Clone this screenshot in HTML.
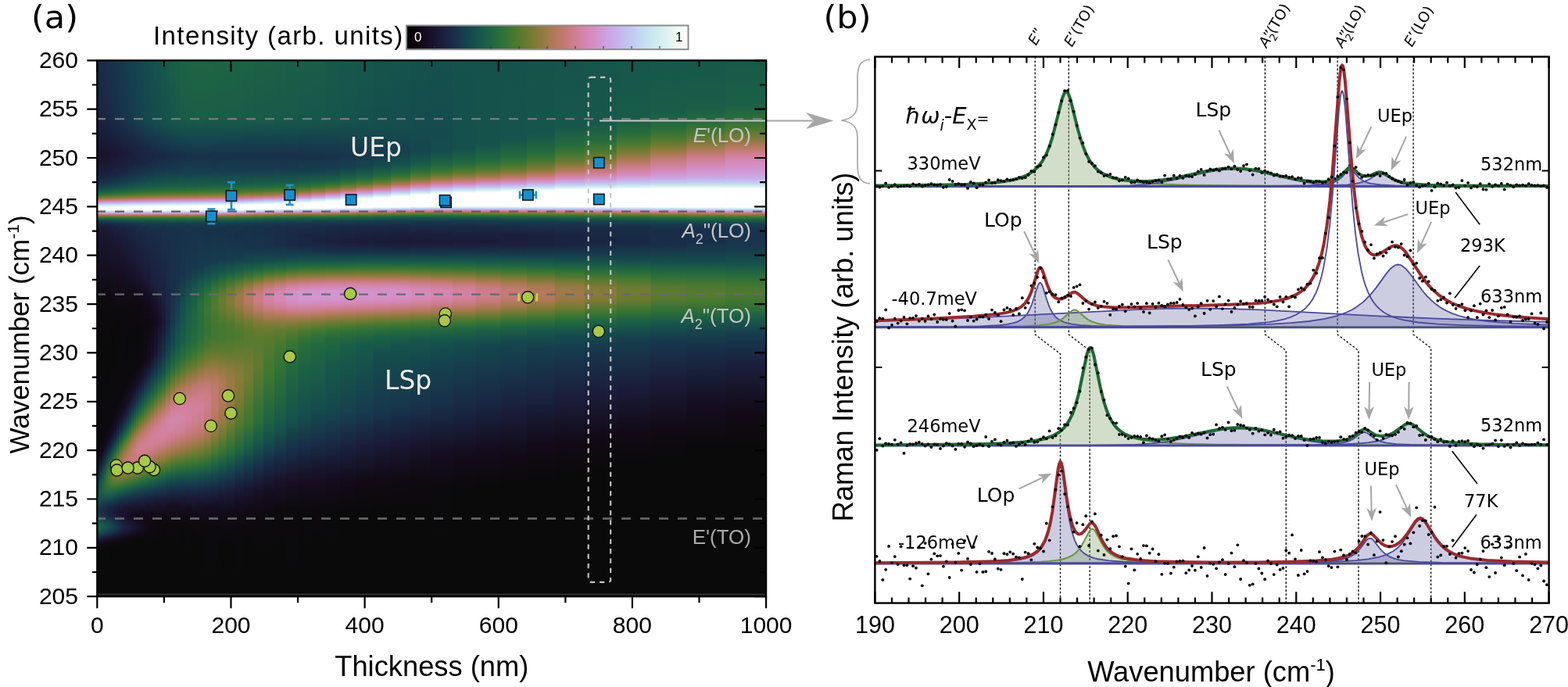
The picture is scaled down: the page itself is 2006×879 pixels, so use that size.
<!DOCTYPE html>
<html><head><meta charset="utf-8"><title>Figure</title>
<style>html,body{margin:0;padding:0;background:#fff;overflow:hidden;width:2006px;height:879px;}svg{display:block;}</style>
</head><body>
<svg width="2006" height="879" viewBox="0 0 2006 879">
<rect width="2006" height="879" fill="#fff"/>
<defs><linearGradient id="h0" x1="0" y1="0" x2="0" y2="1"><stop offset="0.0000" stop-color="#192c47"/><stop offset="0.1006" stop-color="#1a2240"/><stop offset="0.1793" stop-color="#19132d"/><stop offset="0.2165" stop-color="#1a213e"/><stop offset="0.2333" stop-color="#17374d"/><stop offset="0.2449" stop-color="#185b48"/><stop offset="0.2500" stop-color="#2b6f39"/><stop offset="0.2530" stop-color="#467830"/><stop offset="0.2559" stop-color="#6f7b31"/><stop offset="0.2581" stop-color="#967a42"/><stop offset="0.2602" stop-color="#b97964"/><stop offset="0.2624" stop-color="#d18099"/><stop offset="0.2646" stop-color="#d294ce"/><stop offset="0.2661" stop-color="#caa9e7"/><stop offset="0.2683" stop-color="#c1cdf3"/><stop offset="0.2704" stop-color="#cce9ef"/><stop offset="0.2741" stop-color="#f2fbf6"/><stop offset="0.2770" stop-color="#fafdfb"/><stop offset="0.2792" stop-color="#e9f8f2"/><stop offset="0.2814" stop-color="#cae7f0"/><stop offset="0.2828" stop-color="#c1cdf3"/><stop offset="0.2843" stop-color="#caabe8"/><stop offset="0.2858" stop-color="#d48dc1"/><stop offset="0.2872" stop-color="#cc7c86"/><stop offset="0.2887" stop-color="#ac7954"/><stop offset="0.2894" stop-color="#937a40"/><stop offset="0.2909" stop-color="#667a30"/><stop offset="0.2930" stop-color="#337335"/><stop offset="0.2952" stop-color="#1b6145"/><stop offset="0.2996" stop-color="#163d4e"/><stop offset="0.3062" stop-color="#1a213e"/><stop offset="0.3215" stop-color="#1a142f"/><stop offset="0.4614" stop-color="#0c0a0e"/><stop offset="0.7275" stop-color="#0c0a0e"/><stop offset="0.7559" stop-color="#181027"/><stop offset="0.7822" stop-color="#18324b"/><stop offset="0.8011" stop-color="#154d4e"/><stop offset="0.8186" stop-color="#154d4e"/><stop offset="0.8390" stop-color="#17364c"/><stop offset="0.8492" stop-color="#163f4e"/><stop offset="0.8660" stop-color="#1e6542"/><stop offset="0.8755" stop-color="#1a6046"/><stop offset="0.8850" stop-color="#163f4e"/><stop offset="0.8930" stop-color="#1b1c3a"/><stop offset="0.9032" stop-color="#120a17"/><stop offset="0.9141" stop-color="#0a0a0a"/><stop offset="0.9994" stop-color="#0a0a0a"/></linearGradient>
<linearGradient id="h1" x1="0" y1="0" x2="0" y2="1"><stop offset="0.0000" stop-color="#192c47"/><stop offset="0.0984" stop-color="#1a2441"/><stop offset="0.1786" stop-color="#19132d"/><stop offset="0.2180" stop-color="#1a2240"/><stop offset="0.2355" stop-color="#163d4e"/><stop offset="0.2457" stop-color="#195e47"/><stop offset="0.2508" stop-color="#317236"/><stop offset="0.2544" stop-color="#5a7a2f"/><stop offset="0.2573" stop-color="#8a7a3b"/><stop offset="0.2595" stop-color="#b17959"/><stop offset="0.2624" stop-color="#d18099"/><stop offset="0.2646" stop-color="#d295d0"/><stop offset="0.2668" stop-color="#c6b6ee"/><stop offset="0.2690" stop-color="#c3d9f3"/><stop offset="0.2719" stop-color="#def4ef"/><stop offset="0.2748" stop-color="#f8fdfa"/><stop offset="0.2770" stop-color="#fafdfb"/><stop offset="0.2792" stop-color="#e9f8f2"/><stop offset="0.2814" stop-color="#cae7f0"/><stop offset="0.2828" stop-color="#c1cdf3"/><stop offset="0.2843" stop-color="#caabe8"/><stop offset="0.2858" stop-color="#d48dc1"/><stop offset="0.2872" stop-color="#cc7c86"/><stop offset="0.2887" stop-color="#ac7954"/><stop offset="0.2901" stop-color="#7e7a36"/><stop offset="0.2916" stop-color="#54792f"/><stop offset="0.2930" stop-color="#337335"/><stop offset="0.2952" stop-color="#1b6145"/><stop offset="0.2996" stop-color="#163f4e"/><stop offset="0.3054" stop-color="#1a2441"/><stop offset="0.3178" stop-color="#1a1631"/><stop offset="0.4541" stop-color="#0e0a0f"/><stop offset="0.5321" stop-color="#0a0a0a"/><stop offset="0.7210" stop-color="#0c0a0e"/><stop offset="0.7472" stop-color="#180f25"/><stop offset="0.7705" stop-color="#192c47"/><stop offset="0.7909" stop-color="#154e4d"/><stop offset="0.8092" stop-color="#16574b"/><stop offset="0.8237" stop-color="#15464e"/><stop offset="0.8398" stop-color="#18314a"/><stop offset="0.8514" stop-color="#163f4e"/><stop offset="0.8653" stop-color="#1b6145"/><stop offset="0.8748" stop-color="#195e47"/><stop offset="0.8842" stop-color="#163f4e"/><stop offset="0.8930" stop-color="#1b1b38"/><stop offset="0.9025" stop-color="#120a17"/><stop offset="0.9134" stop-color="#0a0a0a"/><stop offset="0.9994" stop-color="#0a0a0a"/></linearGradient>
<linearGradient id="h2" x1="0" y1="0" x2="0" y2="1"><stop offset="0.0000" stop-color="#192d48"/><stop offset="0.1028" stop-color="#1a2441"/><stop offset="0.1786" stop-color="#19132d"/><stop offset="0.2158" stop-color="#1a213e"/><stop offset="0.2333" stop-color="#16394d"/><stop offset="0.2449" stop-color="#195d48"/><stop offset="0.2500" stop-color="#2d7038"/><stop offset="0.2530" stop-color="#497830"/><stop offset="0.2566" stop-color="#7e7a36"/><stop offset="0.2595" stop-color="#b17959"/><stop offset="0.2617" stop-color="#cd7d89"/><stop offset="0.2639" stop-color="#d48dc1"/><stop offset="0.2661" stop-color="#caabe8"/><stop offset="0.2683" stop-color="#c1cff3"/><stop offset="0.2704" stop-color="#cdeaef"/><stop offset="0.2741" stop-color="#f4fcf7"/><stop offset="0.2770" stop-color="#fbfefc"/><stop offset="0.2799" stop-color="#def4ef"/><stop offset="0.2821" stop-color="#c4dcf2"/><stop offset="0.2836" stop-color="#c4bdf1"/><stop offset="0.2850" stop-color="#d09cd9"/><stop offset="0.2865" stop-color="#d383a6"/><stop offset="0.2879" stop-color="#bf796d"/><stop offset="0.2894" stop-color="#967a42"/><stop offset="0.2909" stop-color="#697b30"/><stop offset="0.2930" stop-color="#337335"/><stop offset="0.2952" stop-color="#1c6344"/><stop offset="0.2989" stop-color="#15444f"/><stop offset="0.3054" stop-color="#1a2441"/><stop offset="0.3171" stop-color="#1a1733"/><stop offset="0.4490" stop-color="#0e0a0f"/><stop offset="0.5489" stop-color="#0a0a0a"/><stop offset="0.7137" stop-color="#0c0a0e"/><stop offset="0.7399" stop-color="#180f25"/><stop offset="0.7640" stop-color="#182f49"/><stop offset="0.7836" stop-color="#15524c"/><stop offset="0.8019" stop-color="#1a6046"/><stop offset="0.8172" stop-color="#15524c"/><stop offset="0.8369" stop-color="#182f49"/><stop offset="0.8478" stop-color="#18324b"/><stop offset="0.8616" stop-color="#16574b"/><stop offset="0.8711" stop-color="#1a6046"/><stop offset="0.8799" stop-color="#154d4e"/><stop offset="0.8872" stop-color="#192d48"/><stop offset="0.8974" stop-color="#180f25"/><stop offset="0.9068" stop-color="#0c0a0e"/><stop offset="0.9994" stop-color="#0a0a0a"/></linearGradient>
<linearGradient id="h3" x1="0" y1="0" x2="0" y2="1"><stop offset="0.0000" stop-color="#192d48"/><stop offset="0.0948" stop-color="#1a2744"/><stop offset="0.1779" stop-color="#19132d"/><stop offset="0.2150" stop-color="#1a213e"/><stop offset="0.2340" stop-color="#163b4e"/><stop offset="0.2449" stop-color="#195d48"/><stop offset="0.2500" stop-color="#2d7038"/><stop offset="0.2544" stop-color="#5d7a2f"/><stop offset="0.2573" stop-color="#8d7a3d"/><stop offset="0.2595" stop-color="#b3795b"/><stop offset="0.2617" stop-color="#ce7d8c"/><stop offset="0.2639" stop-color="#d48ec3"/><stop offset="0.2661" stop-color="#c9ade9"/><stop offset="0.2683" stop-color="#c1d1f3"/><stop offset="0.2704" stop-color="#cfebef"/><stop offset="0.2748" stop-color="#fafdfb"/><stop offset="0.2770" stop-color="#fbfefc"/><stop offset="0.2792" stop-color="#e9f8f2"/><stop offset="0.2814" stop-color="#cae7f0"/><stop offset="0.2828" stop-color="#c1cdf3"/><stop offset="0.2843" stop-color="#caabe8"/><stop offset="0.2850" stop-color="#d09cd9"/><stop offset="0.2865" stop-color="#d383a6"/><stop offset="0.2879" stop-color="#bf796d"/><stop offset="0.2894" stop-color="#967a42"/><stop offset="0.2909" stop-color="#697b30"/><stop offset="0.2930" stop-color="#357435"/><stop offset="0.2952" stop-color="#1c6344"/><stop offset="0.2996" stop-color="#163f4e"/><stop offset="0.3069" stop-color="#1a213e"/><stop offset="0.3215" stop-color="#1a1631"/><stop offset="0.4549" stop-color="#0e0a0f"/><stop offset="0.5329" stop-color="#0a0a0a"/><stop offset="0.7064" stop-color="#0c0a0e"/><stop offset="0.7304" stop-color="#170e23"/><stop offset="0.7530" stop-color="#192c47"/><stop offset="0.7705" stop-color="#154e4d"/><stop offset="0.7895" stop-color="#1e6542"/><stop offset="0.8070" stop-color="#1c6344"/><stop offset="0.8267" stop-color="#163b4e"/><stop offset="0.8398" stop-color="#192a46"/><stop offset="0.8492" stop-color="#18314a"/><stop offset="0.8631" stop-color="#16554b"/><stop offset="0.8718" stop-color="#185b48"/><stop offset="0.8806" stop-color="#15464e"/><stop offset="0.8879" stop-color="#1a2744"/><stop offset="0.8981" stop-color="#160c1f"/><stop offset="0.9083" stop-color="#0b0a0c"/><stop offset="0.9994" stop-color="#0a0a0a"/></linearGradient>
<linearGradient id="h4" x1="0" y1="0" x2="0" y2="1"><stop offset="0.0000" stop-color="#182f49"/><stop offset="0.0999" stop-color="#1a2744"/><stop offset="0.1742" stop-color="#1a142f"/><stop offset="0.2056" stop-color="#1b1b38"/><stop offset="0.2289" stop-color="#18324b"/><stop offset="0.2427" stop-color="#16574b"/><stop offset="0.2486" stop-color="#266c3c"/><stop offset="0.2530" stop-color="#4c792f"/><stop offset="0.2559" stop-color="#787b34"/><stop offset="0.2581" stop-color="#9c7946"/><stop offset="0.2610" stop-color="#c87b7c"/><stop offset="0.2632" stop-color="#d487b2"/><stop offset="0.2653" stop-color="#cda2e0"/><stop offset="0.2675" stop-color="#c2c6f3"/><stop offset="0.2697" stop-color="#c8e4f0"/><stop offset="0.2734" stop-color="#f0fbf5"/><stop offset="0.2763" stop-color="#fdfefe"/><stop offset="0.2792" stop-color="#ebf9f3"/><stop offset="0.2814" stop-color="#cbe8f0"/><stop offset="0.2828" stop-color="#c1cdf3"/><stop offset="0.2843" stop-color="#c9ade9"/><stop offset="0.2858" stop-color="#d48dc1"/><stop offset="0.2872" stop-color="#cd7d89"/><stop offset="0.2887" stop-color="#ac7954"/><stop offset="0.2901" stop-color="#817a37"/><stop offset="0.2916" stop-color="#54792f"/><stop offset="0.2938" stop-color="#2a6e3a"/><stop offset="0.2960" stop-color="#195d48"/><stop offset="0.3003" stop-color="#163b4e"/><stop offset="0.3069" stop-color="#1a2240"/><stop offset="0.3200" stop-color="#1a1733"/><stop offset="0.4498" stop-color="#0e0a0f"/><stop offset="0.5467" stop-color="#0a0a0a"/><stop offset="0.6976" stop-color="#0c0a0e"/><stop offset="0.7210" stop-color="#160d21"/><stop offset="0.7406" stop-color="#1a2543"/><stop offset="0.7574" stop-color="#15474e"/><stop offset="0.7764" stop-color="#206840"/><stop offset="0.7946" stop-color="#2a6e3a"/><stop offset="0.8113" stop-color="#195d48"/><stop offset="0.8274" stop-color="#17374d"/><stop offset="0.8405" stop-color="#1a2543"/><stop offset="0.8522" stop-color="#18324b"/><stop offset="0.8675" stop-color="#16574b"/><stop offset="0.8762" stop-color="#15504d"/><stop offset="0.8850" stop-color="#182f49"/><stop offset="0.8959" stop-color="#170e23"/><stop offset="0.9068" stop-color="#0b0a0c"/><stop offset="0.9994" stop-color="#0a0a0a"/></linearGradient>
<linearGradient id="h5" x1="0" y1="0" x2="0" y2="1"><stop offset="0.0000" stop-color="#18314a"/><stop offset="0.0991" stop-color="#192845"/><stop offset="0.1757" stop-color="#1a142f"/><stop offset="0.2092" stop-color="#1b1e3b"/><stop offset="0.2304" stop-color="#17364c"/><stop offset="0.2435" stop-color="#175a49"/><stop offset="0.2493" stop-color="#2b6f39"/><stop offset="0.2537" stop-color="#577a2f"/><stop offset="0.2566" stop-color="#847a38"/><stop offset="0.2588" stop-color="#ac7954"/><stop offset="0.2617" stop-color="#cf7e8f"/><stop offset="0.2639" stop-color="#d490c6"/><stop offset="0.2661" stop-color="#c8afea"/><stop offset="0.2683" stop-color="#c2d2f3"/><stop offset="0.2704" stop-color="#d0ecef"/><stop offset="0.2741" stop-color="#f8fdfa"/><stop offset="0.2770" stop-color="#fdfefe"/><stop offset="0.2799" stop-color="#e0f5f0"/><stop offset="0.2821" stop-color="#c4ddf2"/><stop offset="0.2836" stop-color="#c4bdf1"/><stop offset="0.2843" stop-color="#c9ade9"/><stop offset="0.2858" stop-color="#d48ec3"/><stop offset="0.2872" stop-color="#cd7d89"/><stop offset="0.2887" stop-color="#ae7956"/><stop offset="0.2901" stop-color="#817a37"/><stop offset="0.2916" stop-color="#577a2f"/><stop offset="0.2930" stop-color="#357435"/><stop offset="0.2960" stop-color="#195d48"/><stop offset="0.3003" stop-color="#163b4e"/><stop offset="0.3076" stop-color="#1a213e"/><stop offset="0.3229" stop-color="#1a1733"/><stop offset="0.4490" stop-color="#0e0a0f"/><stop offset="0.5489" stop-color="#0a0a0a"/><stop offset="0.6896" stop-color="#0c0a0e"/><stop offset="0.7144" stop-color="#170e23"/><stop offset="0.7348" stop-color="#192845"/><stop offset="0.7494" stop-color="#154b4e"/><stop offset="0.7676" stop-color="#256b3d"/><stop offset="0.7866" stop-color="#387434"/><stop offset="0.8033" stop-color="#236a3e"/><stop offset="0.8186" stop-color="#15494e"/><stop offset="0.8354" stop-color="#1a2543"/><stop offset="0.8471" stop-color="#1a2543"/><stop offset="0.8624" stop-color="#154b4e"/><stop offset="0.8711" stop-color="#16534c"/><stop offset="0.8806" stop-color="#163d4e"/><stop offset="0.8893" stop-color="#1b1c3a"/><stop offset="0.8988" stop-color="#130a19"/><stop offset="0.9098" stop-color="#0a0a0a"/><stop offset="0.9994" stop-color="#0a0a0a"/></linearGradient>
<linearGradient id="h6" x1="0" y1="0" x2="0" y2="1"><stop offset="0.0000" stop-color="#18314a"/><stop offset="0.0926" stop-color="#192c47"/><stop offset="0.1764" stop-color="#1a142f"/><stop offset="0.2121" stop-color="#1a213e"/><stop offset="0.2325" stop-color="#163b4e"/><stop offset="0.2442" stop-color="#195e47"/><stop offset="0.2493" stop-color="#2d7038"/><stop offset="0.2522" stop-color="#467830"/><stop offset="0.2559" stop-color="#7b7a35"/><stop offset="0.2581" stop-color="#a1794a"/><stop offset="0.2602" stop-color="#c17a70"/><stop offset="0.2624" stop-color="#d383a6"/><stop offset="0.2653" stop-color="#cca6e4"/><stop offset="0.2675" stop-color="#c2c8f3"/><stop offset="0.2697" stop-color="#cae7f0"/><stop offset="0.2734" stop-color="#f2fbf6"/><stop offset="0.2763" stop-color="#ffffff"/><stop offset="0.2785" stop-color="#f4fcf7"/><stop offset="0.2814" stop-color="#cbe8f0"/><stop offset="0.2828" stop-color="#c1cff3"/><stop offset="0.2843" stop-color="#c9ade9"/><stop offset="0.2858" stop-color="#d48ec3"/><stop offset="0.2872" stop-color="#cd7d89"/><stop offset="0.2887" stop-color="#ae7956"/><stop offset="0.2901" stop-color="#817a37"/><stop offset="0.2916" stop-color="#577a2f"/><stop offset="0.2938" stop-color="#2b6f39"/><stop offset="0.2960" stop-color="#195e47"/><stop offset="0.3003" stop-color="#163d4e"/><stop offset="0.3069" stop-color="#1a2441"/><stop offset="0.3222" stop-color="#1a1733"/><stop offset="0.4505" stop-color="#0e0a0f"/><stop offset="0.5453" stop-color="#0a0a0a"/><stop offset="0.6809" stop-color="#0c0a0e"/><stop offset="0.7056" stop-color="#160d21"/><stop offset="0.7253" stop-color="#1a2543"/><stop offset="0.7406" stop-color="#15494e"/><stop offset="0.7552" stop-color="#22693f"/><stop offset="0.7756" stop-color="#447731"/><stop offset="0.7887" stop-color="#447731"/><stop offset="0.8062" stop-color="#1f6741"/><stop offset="0.8194" stop-color="#15464e"/><stop offset="0.8339" stop-color="#1a2543"/><stop offset="0.8471" stop-color="#1a2240"/><stop offset="0.8631" stop-color="#15474e"/><stop offset="0.8711" stop-color="#154e4d"/><stop offset="0.8813" stop-color="#17364c"/><stop offset="0.8923" stop-color="#19122b"/><stop offset="0.9025" stop-color="#0e0a0f"/><stop offset="0.9185" stop-color="#0a0a0a"/><stop offset="0.9994" stop-color="#0a0a0a"/></linearGradient>
<linearGradient id="h7" x1="0" y1="0" x2="0" y2="1"><stop offset="0.0000" stop-color="#18324b"/><stop offset="0.0984" stop-color="#192c47"/><stop offset="0.1728" stop-color="#1a1631"/><stop offset="0.2019" stop-color="#1b1b38"/><stop offset="0.2282" stop-color="#17344c"/><stop offset="0.2420" stop-color="#16574b"/><stop offset="0.2478" stop-color="#266c3c"/><stop offset="0.2515" stop-color="#417731"/><stop offset="0.2551" stop-color="#727b32"/><stop offset="0.2573" stop-color="#967a42"/><stop offset="0.2595" stop-color="#b97964"/><stop offset="0.2617" stop-color="#d17f96"/><stop offset="0.2639" stop-color="#d392cb"/><stop offset="0.2661" stop-color="#c7b2ed"/><stop offset="0.2683" stop-color="#c2d6f3"/><stop offset="0.2704" stop-color="#d1edef"/><stop offset="0.2741" stop-color="#fafdfb"/><stop offset="0.2770" stop-color="#ffffff"/><stop offset="0.2799" stop-color="#e2f6f0"/><stop offset="0.2821" stop-color="#c4ddf2"/><stop offset="0.2836" stop-color="#c3bff2"/><stop offset="0.2850" stop-color="#cf9ddb"/><stop offset="0.2865" stop-color="#d484a9"/><stop offset="0.2879" stop-color="#c17a70"/><stop offset="0.2894" stop-color="#997944"/><stop offset="0.2909" stop-color="#6c7b31"/><stop offset="0.2930" stop-color="#387434"/><stop offset="0.2952" stop-color="#1e6542"/><stop offset="0.2989" stop-color="#15474e"/><stop offset="0.3062" stop-color="#1a2543"/><stop offset="0.3207" stop-color="#1a1835"/><stop offset="0.4469" stop-color="#0f0a11"/><stop offset="0.5103" stop-color="#0a0a0a"/><stop offset="0.6721" stop-color="#0c0a0e"/><stop offset="0.6984" stop-color="#160d21"/><stop offset="0.7180" stop-color="#1a2543"/><stop offset="0.7333" stop-color="#154b4e"/><stop offset="0.7457" stop-color="#22693f"/><stop offset="0.7669" stop-color="#51792f"/><stop offset="0.7800" stop-color="#5a7a2f"/><stop offset="0.7917" stop-color="#447731"/><stop offset="0.8084" stop-color="#1b6145"/><stop offset="0.8215" stop-color="#163d4e"/><stop offset="0.8361" stop-color="#1a213e"/><stop offset="0.8485" stop-color="#1a213e"/><stop offset="0.8638" stop-color="#15444f"/><stop offset="0.8726" stop-color="#15474e"/><stop offset="0.8828" stop-color="#192c47"/><stop offset="0.8944" stop-color="#160c1f"/><stop offset="0.9068" stop-color="#0a0a0a"/><stop offset="0.9994" stop-color="#0a0a0a"/></linearGradient>
<linearGradient id="h8" x1="0" y1="0" x2="0" y2="1"><stop offset="0.0000" stop-color="#17344c"/><stop offset="0.0977" stop-color="#192d48"/><stop offset="0.1750" stop-color="#1a1631"/><stop offset="0.2078" stop-color="#1b1f3d"/><stop offset="0.2304" stop-color="#16394d"/><stop offset="0.2427" stop-color="#185b48"/><stop offset="0.2486" stop-color="#2b6f39"/><stop offset="0.2530" stop-color="#54792f"/><stop offset="0.2559" stop-color="#817a37"/><stop offset="0.2581" stop-color="#a4794c"/><stop offset="0.2610" stop-color="#cc7c86"/><stop offset="0.2632" stop-color="#d48abb"/><stop offset="0.2653" stop-color="#cba8e5"/><stop offset="0.2675" stop-color="#c1ccf3"/><stop offset="0.2697" stop-color="#cbe8f0"/><stop offset="0.2734" stop-color="#f4fcf7"/><stop offset="0.2763" stop-color="#ffffff"/><stop offset="0.2785" stop-color="#f4fcf7"/><stop offset="0.2814" stop-color="#cbe8f0"/><stop offset="0.2828" stop-color="#c1cff3"/><stop offset="0.2843" stop-color="#c9ade9"/><stop offset="0.2850" stop-color="#cf9ddb"/><stop offset="0.2865" stop-color="#d484a9"/><stop offset="0.2879" stop-color="#c17a70"/><stop offset="0.2894" stop-color="#9c7946"/><stop offset="0.2909" stop-color="#6f7b31"/><stop offset="0.2930" stop-color="#387434"/><stop offset="0.2952" stop-color="#1e6542"/><stop offset="0.2996" stop-color="#15444f"/><stop offset="0.3054" stop-color="#192845"/><stop offset="0.3164" stop-color="#1b1b38"/><stop offset="0.4418" stop-color="#0f0a11"/><stop offset="0.5161" stop-color="#0a0a0a"/><stop offset="0.6641" stop-color="#0c0a0e"/><stop offset="0.6918" stop-color="#160d21"/><stop offset="0.7122" stop-color="#1a2744"/><stop offset="0.7268" stop-color="#154b4e"/><stop offset="0.7399" stop-color="#236a3e"/><stop offset="0.7552" stop-color="#4e792f"/><stop offset="0.7661" stop-color="#667a30"/><stop offset="0.7749" stop-color="#6c7b31"/><stop offset="0.7866" stop-color="#577a2f"/><stop offset="0.8041" stop-color="#22693f"/><stop offset="0.8157" stop-color="#154b4e"/><stop offset="0.8303" stop-color="#1a2744"/><stop offset="0.8449" stop-color="#1b1b38"/><stop offset="0.8580" stop-color="#18314a"/><stop offset="0.8689" stop-color="#15444f"/><stop offset="0.8777" stop-color="#17374d"/><stop offset="0.8879" stop-color="#1a1835"/><stop offset="0.8974" stop-color="#110a15"/><stop offset="0.9083" stop-color="#0a0a0a"/><stop offset="0.9994" stop-color="#0a0a0a"/></linearGradient>
<linearGradient id="h9" x1="0" y1="0" x2="0" y2="1"><stop offset="0.0000" stop-color="#17344c"/><stop offset="0.0984" stop-color="#182f49"/><stop offset="0.1764" stop-color="#1a1631"/><stop offset="0.2129" stop-color="#1a2441"/><stop offset="0.2340" stop-color="#15424e"/><stop offset="0.2449" stop-color="#1d6443"/><stop offset="0.2500" stop-color="#387434"/><stop offset="0.2544" stop-color="#6c7b31"/><stop offset="0.2566" stop-color="#907a3e"/><stop offset="0.2588" stop-color="#b3795b"/><stop offset="0.2617" stop-color="#d2809c"/><stop offset="0.2639" stop-color="#d294ce"/><stop offset="0.2653" stop-color="#caa9e7"/><stop offset="0.2675" stop-color="#c1cdf3"/><stop offset="0.2697" stop-color="#cce9ef"/><stop offset="0.2734" stop-color="#f6fcf8"/><stop offset="0.2756" stop-color="#ffffff"/><stop offset="0.2777" stop-color="#fbfefc"/><stop offset="0.2807" stop-color="#d6f0ef"/><stop offset="0.2828" stop-color="#c1cff3"/><stop offset="0.2843" stop-color="#c8afea"/><stop offset="0.2858" stop-color="#d490c6"/><stop offset="0.2872" stop-color="#ce7d8c"/><stop offset="0.2887" stop-color="#b17959"/><stop offset="0.2901" stop-color="#847a38"/><stop offset="0.2916" stop-color="#5a7a2f"/><stop offset="0.2938" stop-color="#2d7038"/><stop offset="0.2967" stop-color="#175a49"/><stop offset="0.3018" stop-color="#17374d"/><stop offset="0.3098" stop-color="#1a213e"/><stop offset="0.3382" stop-color="#1a1733"/><stop offset="0.4476" stop-color="#0f0a11"/><stop offset="0.5095" stop-color="#0a0a0a"/><stop offset="0.6539" stop-color="#0c0a0e"/><stop offset="0.6830" stop-color="#160d21"/><stop offset="0.7042" stop-color="#1a2543"/><stop offset="0.7188" stop-color="#15494e"/><stop offset="0.7312" stop-color="#22693f"/><stop offset="0.7414" stop-color="#417731"/><stop offset="0.7516" stop-color="#667a30"/><stop offset="0.7632" stop-color="#7b7a35"/><stop offset="0.7742" stop-color="#7b7a35"/><stop offset="0.7858" stop-color="#5d7a2f"/><stop offset="0.8011" stop-color="#266c3c"/><stop offset="0.8128" stop-color="#154e4d"/><stop offset="0.8259" stop-color="#192c47"/><stop offset="0.8420" stop-color="#1a1835"/><stop offset="0.8536" stop-color="#1a2240"/><stop offset="0.8682" stop-color="#163d4e"/><stop offset="0.8769" stop-color="#17344c"/><stop offset="0.8872" stop-color="#1a1733"/><stop offset="0.8966" stop-color="#110a15"/><stop offset="0.9068" stop-color="#0a0a0a"/><stop offset="0.9994" stop-color="#0a0a0a"/></linearGradient>
<linearGradient id="h10" x1="0" y1="0" x2="0" y2="1"><stop offset="0.0000" stop-color="#17364c"/><stop offset="0.0991" stop-color="#18314a"/><stop offset="0.1750" stop-color="#1a1733"/><stop offset="0.2107" stop-color="#1a2441"/><stop offset="0.2311" stop-color="#163f4e"/><stop offset="0.2435" stop-color="#1a6046"/><stop offset="0.2493" stop-color="#337335"/><stop offset="0.2537" stop-color="#637a2f"/><stop offset="0.2566" stop-color="#907a3e"/><stop offset="0.2588" stop-color="#b5795e"/><stop offset="0.2617" stop-color="#d381a0"/><stop offset="0.2646" stop-color="#cf9fdd"/><stop offset="0.2668" stop-color="#c2c3f2"/><stop offset="0.2690" stop-color="#c6e1f1"/><stop offset="0.2719" stop-color="#e7f8f1"/><stop offset="0.2748" stop-color="#ffffff"/><stop offset="0.2777" stop-color="#fbfefc"/><stop offset="0.2807" stop-color="#d6f0ef"/><stop offset="0.2828" stop-color="#c1cff3"/><stop offset="0.2843" stop-color="#c8afea"/><stop offset="0.2858" stop-color="#d490c6"/><stop offset="0.2872" stop-color="#ce7d8c"/><stop offset="0.2887" stop-color="#b17959"/><stop offset="0.2901" stop-color="#877a3a"/><stop offset="0.2916" stop-color="#5d7a2f"/><stop offset="0.2930" stop-color="#3a7533"/><stop offset="0.2952" stop-color="#1f6741"/><stop offset="0.2989" stop-color="#154b4e"/><stop offset="0.3062" stop-color="#192845"/><stop offset="0.3207" stop-color="#1b1b38"/><stop offset="0.4177" stop-color="#140a1b"/><stop offset="0.4877" stop-color="#0a0a0a"/><stop offset="0.6430" stop-color="#0c0a0e"/><stop offset="0.6750" stop-color="#170e23"/><stop offset="0.6954" stop-color="#1a2543"/><stop offset="0.7100" stop-color="#15494e"/><stop offset="0.7224" stop-color="#206840"/><stop offset="0.7363" stop-color="#51792f"/><stop offset="0.7465" stop-color="#7b7a35"/><stop offset="0.7581" stop-color="#907a3e"/><stop offset="0.7698" stop-color="#8d7a3d"/><stop offset="0.7800" stop-color="#727b32"/><stop offset="0.7938" stop-color="#3a7533"/><stop offset="0.8048" stop-color="#1a6046"/><stop offset="0.8179" stop-color="#163b4e"/><stop offset="0.8354" stop-color="#1b1a36"/><stop offset="0.8478" stop-color="#1a1733"/><stop offset="0.8616" stop-color="#192d48"/><stop offset="0.8718" stop-color="#17364c"/><stop offset="0.8821" stop-color="#1a213e"/><stop offset="0.8937" stop-color="#130a19"/><stop offset="0.9047" stop-color="#0a0a0a"/><stop offset="0.9994" stop-color="#0a0a0a"/></linearGradient>
<linearGradient id="h11" x1="0" y1="0" x2="0" y2="1"><stop offset="0.0000" stop-color="#17374d"/><stop offset="0.1013" stop-color="#18324b"/><stop offset="0.1735" stop-color="#1a1835"/><stop offset="0.2070" stop-color="#1a2240"/><stop offset="0.2304" stop-color="#163f4e"/><stop offset="0.2435" stop-color="#1b6145"/><stop offset="0.2486" stop-color="#317236"/><stop offset="0.2537" stop-color="#667a30"/><stop offset="0.2566" stop-color="#967a42"/><stop offset="0.2588" stop-color="#b77961"/><stop offset="0.2617" stop-color="#d382a3"/><stop offset="0.2646" stop-color="#cea1df"/><stop offset="0.2668" stop-color="#c2c5f3"/><stop offset="0.2690" stop-color="#c7e3f1"/><stop offset="0.2726" stop-color="#f0fbf5"/><stop offset="0.2748" stop-color="#ffffff"/><stop offset="0.2777" stop-color="#fdfefe"/><stop offset="0.2807" stop-color="#d7f1ef"/><stop offset="0.2828" stop-color="#c1d1f3"/><stop offset="0.2843" stop-color="#c8afea"/><stop offset="0.2850" stop-color="#cf9fdd"/><stop offset="0.2865" stop-color="#d485ac"/><stop offset="0.2879" stop-color="#c37a73"/><stop offset="0.2894" stop-color="#9f7948"/><stop offset="0.2909" stop-color="#727b32"/><stop offset="0.2930" stop-color="#3c7632"/><stop offset="0.2952" stop-color="#206840"/><stop offset="0.2989" stop-color="#154b4e"/><stop offset="0.3062" stop-color="#192a46"/><stop offset="0.3207" stop-color="#1b1c3a"/><stop offset="0.4090" stop-color="#160c1f"/><stop offset="0.4746" stop-color="#0b0a0c"/><stop offset="0.6298" stop-color="#0c0a0e"/><stop offset="0.6619" stop-color="#160d21"/><stop offset="0.6845" stop-color="#1a2441"/><stop offset="0.7005" stop-color="#15494e"/><stop offset="0.7122" stop-color="#1f6741"/><stop offset="0.7224" stop-color="#417731"/><stop offset="0.7355" stop-color="#7b7a35"/><stop offset="0.7443" stop-color="#997944"/><stop offset="0.7552" stop-color="#a4794c"/><stop offset="0.7654" stop-color="#9f7948"/><stop offset="0.7749" stop-color="#847a38"/><stop offset="0.7880" stop-color="#4c792f"/><stop offset="0.7990" stop-color="#22693f"/><stop offset="0.8106" stop-color="#154b4e"/><stop offset="0.8252" stop-color="#1a2543"/><stop offset="0.8434" stop-color="#19122b"/><stop offset="0.8565" stop-color="#1b1c3a"/><stop offset="0.8697" stop-color="#182f49"/><stop offset="0.8799" stop-color="#1a213e"/><stop offset="0.8923" stop-color="#130a19"/><stop offset="0.9032" stop-color="#0a0a0a"/><stop offset="0.9994" stop-color="#0a0a0a"/></linearGradient>
<linearGradient id="h12" x1="0" y1="0" x2="0" y2="1"><stop offset="0.0000" stop-color="#16394d"/><stop offset="0.1035" stop-color="#17344c"/><stop offset="0.1728" stop-color="#1b1a36"/><stop offset="0.2027" stop-color="#1a213e"/><stop offset="0.2274" stop-color="#163b4e"/><stop offset="0.2413" stop-color="#195d48"/><stop offset="0.2471" stop-color="#2a6e3a"/><stop offset="0.2508" stop-color="#467830"/><stop offset="0.2544" stop-color="#757b33"/><stop offset="0.2566" stop-color="#967a42"/><stop offset="0.2588" stop-color="#b97964"/><stop offset="0.2610" stop-color="#d07e93"/><stop offset="0.2632" stop-color="#d490c6"/><stop offset="0.2653" stop-color="#c8afea"/><stop offset="0.2675" stop-color="#c1d1f3"/><stop offset="0.2697" stop-color="#cfebef"/><stop offset="0.2734" stop-color="#fafdfb"/><stop offset="0.2770" stop-color="#ffffff"/><stop offset="0.2792" stop-color="#effaf4"/><stop offset="0.2814" stop-color="#cce9ef"/><stop offset="0.2828" stop-color="#c1d1f3"/><stop offset="0.2843" stop-color="#c8afea"/><stop offset="0.2850" stop-color="#cf9fdd"/><stop offset="0.2865" stop-color="#d485ac"/><stop offset="0.2879" stop-color="#c37a73"/><stop offset="0.2894" stop-color="#9f7948"/><stop offset="0.2909" stop-color="#727b32"/><stop offset="0.2930" stop-color="#3c7632"/><stop offset="0.2952" stop-color="#206840"/><stop offset="0.2989" stop-color="#154d4e"/><stop offset="0.3054" stop-color="#192d48"/><stop offset="0.3164" stop-color="#1b1f3d"/><stop offset="0.4002" stop-color="#170e23"/><stop offset="0.4658" stop-color="#0c0a0e"/><stop offset="0.6182" stop-color="#0c0a0e"/><stop offset="0.6532" stop-color="#160d21"/><stop offset="0.6765" stop-color="#1a2441"/><stop offset="0.6940" stop-color="#15494e"/><stop offset="0.7064" stop-color="#22693f"/><stop offset="0.7158" stop-color="#417731"/><stop offset="0.7282" stop-color="#7b7a35"/><stop offset="0.7399" stop-color="#a1794a"/><stop offset="0.7516" stop-color="#ae7956"/><stop offset="0.7625" stop-color="#a7794f"/><stop offset="0.7727" stop-color="#8a7a3b"/><stop offset="0.7858" stop-color="#51792f"/><stop offset="0.7960" stop-color="#266c3c"/><stop offset="0.8070" stop-color="#15524c"/><stop offset="0.8208" stop-color="#192d48"/><stop offset="0.8383" stop-color="#19132d"/><stop offset="0.8522" stop-color="#19132d"/><stop offset="0.8682" stop-color="#192845"/><stop offset="0.8784" stop-color="#1b1e3b"/><stop offset="0.8930" stop-color="#100a13"/><stop offset="0.9039" stop-color="#0a0a0a"/><stop offset="0.9994" stop-color="#0a0a0a"/></linearGradient>
<linearGradient id="h13" x1="0" y1="0" x2="0" y2="1"><stop offset="0.0000" stop-color="#163b4e"/><stop offset="0.1028" stop-color="#17364c"/><stop offset="0.1742" stop-color="#1b1a36"/><stop offset="0.2078" stop-color="#1a2543"/><stop offset="0.2304" stop-color="#15424e"/><stop offset="0.2427" stop-color="#1b6145"/><stop offset="0.2486" stop-color="#357435"/><stop offset="0.2522" stop-color="#577a2f"/><stop offset="0.2551" stop-color="#817a37"/><stop offset="0.2573" stop-color="#a4794c"/><stop offset="0.2602" stop-color="#ca7c83"/><stop offset="0.2624" stop-color="#d589b8"/><stop offset="0.2646" stop-color="#cca4e2"/><stop offset="0.2668" stop-color="#c2c6f3"/><stop offset="0.2690" stop-color="#c9e5f0"/><stop offset="0.2726" stop-color="#f2fbf6"/><stop offset="0.2741" stop-color="#ffffff"/><stop offset="0.2777" stop-color="#fdfefe"/><stop offset="0.2799" stop-color="#e3f6f0"/><stop offset="0.2821" stop-color="#c5dff2"/><stop offset="0.2836" stop-color="#c3c1f2"/><stop offset="0.2850" stop-color="#cf9fdd"/><stop offset="0.2865" stop-color="#d485ac"/><stop offset="0.2879" stop-color="#c37a73"/><stop offset="0.2894" stop-color="#9f7948"/><stop offset="0.2909" stop-color="#727b32"/><stop offset="0.2930" stop-color="#3f7632"/><stop offset="0.2952" stop-color="#22693f"/><stop offset="0.2981" stop-color="#16534c"/><stop offset="0.3047" stop-color="#18314a"/><stop offset="0.3156" stop-color="#1a213e"/><stop offset="0.3973" stop-color="#180f25"/><stop offset="0.4636" stop-color="#0c0a0e"/><stop offset="0.6131" stop-color="#0c0a0e"/><stop offset="0.6488" stop-color="#170e23"/><stop offset="0.6728" stop-color="#1a2744"/><stop offset="0.6896" stop-color="#154b4e"/><stop offset="0.7013" stop-color="#206840"/><stop offset="0.7129" stop-color="#497830"/><stop offset="0.7261" stop-color="#847a38"/><stop offset="0.7363" stop-color="#a7794f"/><stop offset="0.7479" stop-color="#b3795b"/><stop offset="0.7589" stop-color="#ae7956"/><stop offset="0.7691" stop-color="#967a42"/><stop offset="0.7815" stop-color="#637a2f"/><stop offset="0.7931" stop-color="#2d7038"/><stop offset="0.8033" stop-color="#175a49"/><stop offset="0.8164" stop-color="#17364c"/><stop offset="0.8332" stop-color="#1a1733"/><stop offset="0.8471" stop-color="#181027"/><stop offset="0.8704" stop-color="#1a2543"/><stop offset="0.8806" stop-color="#1a1733"/><stop offset="0.8923" stop-color="#100a13"/><stop offset="0.9032" stop-color="#0a0a0a"/><stop offset="0.9994" stop-color="#0a0a0a"/></linearGradient>
<linearGradient id="h14" x1="0" y1="0" x2="0" y2="1"><stop offset="0.0000" stop-color="#163d4e"/><stop offset="0.1028" stop-color="#17374d"/><stop offset="0.1728" stop-color="#1b1b38"/><stop offset="0.2041" stop-color="#1a2441"/><stop offset="0.2289" stop-color="#16404e"/><stop offset="0.2420" stop-color="#1a6046"/><stop offset="0.2478" stop-color="#317236"/><stop offset="0.2515" stop-color="#51792f"/><stop offset="0.2551" stop-color="#847a38"/><stop offset="0.2581" stop-color="#b17959"/><stop offset="0.2602" stop-color="#cc7c86"/><stop offset="0.2624" stop-color="#d589b8"/><stop offset="0.2646" stop-color="#cca4e2"/><stop offset="0.2668" stop-color="#c2c8f3"/><stop offset="0.2690" stop-color="#c9e5f0"/><stop offset="0.2719" stop-color="#edfaf4"/><stop offset="0.2741" stop-color="#ffffff"/><stop offset="0.2777" stop-color="#ffffff"/><stop offset="0.2807" stop-color="#d7f1ef"/><stop offset="0.2828" stop-color="#c1d1f3"/><stop offset="0.2843" stop-color="#c8afea"/><stop offset="0.2850" stop-color="#cf9fdd"/><stop offset="0.2865" stop-color="#d485ac"/><stop offset="0.2879" stop-color="#c57a76"/><stop offset="0.2894" stop-color="#9f7948"/><stop offset="0.2909" stop-color="#757b33"/><stop offset="0.2930" stop-color="#3f7632"/><stop offset="0.2952" stop-color="#22693f"/><stop offset="0.2989" stop-color="#154e4d"/><stop offset="0.3054" stop-color="#182f49"/><stop offset="0.3178" stop-color="#1a213e"/><stop offset="0.3951" stop-color="#181027"/><stop offset="0.4578" stop-color="#0e0a0f"/><stop offset="0.5278" stop-color="#0a0a0a"/><stop offset="0.6072" stop-color="#0c0a0e"/><stop offset="0.6451" stop-color="#181027"/><stop offset="0.6685" stop-color="#192a46"/><stop offset="0.6852" stop-color="#154e4d"/><stop offset="0.6969" stop-color="#22693f"/><stop offset="0.7086" stop-color="#4c792f"/><stop offset="0.7217" stop-color="#877a3a"/><stop offset="0.7319" stop-color="#a97951"/><stop offset="0.7450" stop-color="#b97964"/><stop offset="0.7574" stop-color="#b3795b"/><stop offset="0.7683" stop-color="#967a42"/><stop offset="0.7793" stop-color="#697b30"/><stop offset="0.7909" stop-color="#317236"/><stop offset="0.8019" stop-color="#185b48"/><stop offset="0.8150" stop-color="#17374d"/><stop offset="0.8325" stop-color="#1a1733"/><stop offset="0.8478" stop-color="#180f25"/><stop offset="0.8704" stop-color="#1a2240"/><stop offset="0.8813" stop-color="#1a142f"/><stop offset="0.8915" stop-color="#100a13"/><stop offset="0.9025" stop-color="#0a0a0a"/><stop offset="0.9994" stop-color="#0a0a0a"/></linearGradient>
<linearGradient id="h15" x1="0" y1="0" x2="0" y2="1"><stop offset="0.0000" stop-color="#163f4e"/><stop offset="0.1093" stop-color="#17374d"/><stop offset="0.1713" stop-color="#1b1c3a"/><stop offset="0.2027" stop-color="#1a2441"/><stop offset="0.2304" stop-color="#15444f"/><stop offset="0.2427" stop-color="#1d6443"/><stop offset="0.2478" stop-color="#337335"/><stop offset="0.2508" stop-color="#4c792f"/><stop offset="0.2544" stop-color="#7b7a35"/><stop offset="0.2566" stop-color="#9c7946"/><stop offset="0.2588" stop-color="#be796a"/><stop offset="0.2610" stop-color="#d18099"/><stop offset="0.2639" stop-color="#d09cd9"/><stop offset="0.2661" stop-color="#c4bdf1"/><stop offset="0.2683" stop-color="#c4ddf2"/><stop offset="0.2712" stop-color="#e3f6f0"/><stop offset="0.2741" stop-color="#ffffff"/><stop offset="0.2777" stop-color="#ffffff"/><stop offset="0.2807" stop-color="#d7f1ef"/><stop offset="0.2828" stop-color="#c1d1f3"/><stop offset="0.2843" stop-color="#c8afea"/><stop offset="0.2858" stop-color="#d391c9"/><stop offset="0.2872" stop-color="#cf7e8f"/><stop offset="0.2887" stop-color="#b3795b"/><stop offset="0.2901" stop-color="#8a7a3b"/><stop offset="0.2916" stop-color="#607a2f"/><stop offset="0.2938" stop-color="#337335"/><stop offset="0.2960" stop-color="#1d6443"/><stop offset="0.3011" stop-color="#15424e"/><stop offset="0.3084" stop-color="#192a46"/><stop offset="0.3288" stop-color="#1b1f3d"/><stop offset="0.3980" stop-color="#181027"/><stop offset="0.4571" stop-color="#0e0a0f"/><stop offset="0.5300" stop-color="#0a0a0a"/><stop offset="0.6021" stop-color="#0c0a0e"/><stop offset="0.6378" stop-color="#181027"/><stop offset="0.6619" stop-color="#192a46"/><stop offset="0.6794" stop-color="#154e4d"/><stop offset="0.6925" stop-color="#256b3d"/><stop offset="0.7056" stop-color="#577a2f"/><stop offset="0.7180" stop-color="#907a3e"/><stop offset="0.7290" stop-color="#b17959"/><stop offset="0.7421" stop-color="#be796a"/><stop offset="0.7530" stop-color="#b97964"/><stop offset="0.7654" stop-color="#9f7948"/><stop offset="0.7793" stop-color="#637a2f"/><stop offset="0.7909" stop-color="#2d7038"/><stop offset="0.8019" stop-color="#17584a"/><stop offset="0.8157" stop-color="#17344c"/><stop offset="0.8339" stop-color="#1a142f"/><stop offset="0.8492" stop-color="#170e23"/><stop offset="0.8704" stop-color="#1b1f3d"/><stop offset="0.8806" stop-color="#19132d"/><stop offset="0.8923" stop-color="#0f0a11"/><stop offset="0.9032" stop-color="#0a0a0a"/><stop offset="0.9994" stop-color="#0a0a0a"/></linearGradient>
<linearGradient id="h16" x1="0" y1="0" x2="0" y2="1"><stop offset="0.0000" stop-color="#163f4e"/><stop offset="0.1042" stop-color="#163b4e"/><stop offset="0.1626" stop-color="#1b1f3d"/><stop offset="0.1924" stop-color="#1b1f3d"/><stop offset="0.2231" stop-color="#16394d"/><stop offset="0.2391" stop-color="#175a49"/><stop offset="0.2457" stop-color="#286d3b"/><stop offset="0.2500" stop-color="#467830"/><stop offset="0.2537" stop-color="#727b32"/><stop offset="0.2566" stop-color="#9f7948"/><stop offset="0.2595" stop-color="#c67a79"/><stop offset="0.2617" stop-color="#d485ac"/><stop offset="0.2639" stop-color="#cf9ddb"/><stop offset="0.2661" stop-color="#c3bff2"/><stop offset="0.2683" stop-color="#c5dff2"/><stop offset="0.2719" stop-color="#edfaf4"/><stop offset="0.2741" stop-color="#ffffff"/><stop offset="0.2777" stop-color="#ffffff"/><stop offset="0.2807" stop-color="#d7f1ef"/><stop offset="0.2828" stop-color="#c1d1f3"/><stop offset="0.2843" stop-color="#c8afea"/><stop offset="0.2858" stop-color="#d391c9"/><stop offset="0.2872" stop-color="#cf7e8f"/><stop offset="0.2887" stop-color="#b5795e"/><stop offset="0.2901" stop-color="#8a7a3b"/><stop offset="0.2916" stop-color="#637a2f"/><stop offset="0.2930" stop-color="#417731"/><stop offset="0.2952" stop-color="#236a3e"/><stop offset="0.2989" stop-color="#15504d"/><stop offset="0.3047" stop-color="#17344c"/><stop offset="0.3149" stop-color="#1a2441"/><stop offset="0.3929" stop-color="#19122b"/><stop offset="0.4505" stop-color="#0f0a11"/><stop offset="0.5088" stop-color="#0a0a0a"/><stop offset="0.5956" stop-color="#0c0a0e"/><stop offset="0.6313" stop-color="#191129"/><stop offset="0.6546" stop-color="#192a46"/><stop offset="0.6728" stop-color="#154e4d"/><stop offset="0.6860" stop-color="#256b3d"/><stop offset="0.6940" stop-color="#3c7632"/><stop offset="0.7064" stop-color="#757b33"/><stop offset="0.7188" stop-color="#a7794f"/><stop offset="0.7319" stop-color="#bf796d"/><stop offset="0.7443" stop-color="#c37a73"/><stop offset="0.7581" stop-color="#b17959"/><stop offset="0.7691" stop-color="#8d7a3d"/><stop offset="0.7807" stop-color="#54792f"/><stop offset="0.7917" stop-color="#286d3b"/><stop offset="0.8026" stop-color="#16534c"/><stop offset="0.8172" stop-color="#182f49"/><stop offset="0.8361" stop-color="#19122b"/><stop offset="0.8500" stop-color="#160d21"/><stop offset="0.8704" stop-color="#1b1c3a"/><stop offset="0.8806" stop-color="#191129"/><stop offset="0.8944" stop-color="#0b0a0c"/><stop offset="0.9994" stop-color="#0a0a0a"/></linearGradient>
<linearGradient id="h17" x1="0" y1="0" x2="0" y2="1"><stop offset="0.0000" stop-color="#16404e"/><stop offset="0.1050" stop-color="#163d4e"/><stop offset="0.1582" stop-color="#1a2240"/><stop offset="0.1895" stop-color="#1b1f3d"/><stop offset="0.2201" stop-color="#17374d"/><stop offset="0.2376" stop-color="#17584a"/><stop offset="0.2449" stop-color="#266c3c"/><stop offset="0.2493" stop-color="#417731"/><stop offset="0.2530" stop-color="#697b30"/><stop offset="0.2559" stop-color="#967a42"/><stop offset="0.2588" stop-color="#bf796d"/><stop offset="0.2617" stop-color="#d486af"/><stop offset="0.2646" stop-color="#cba8e5"/><stop offset="0.2668" stop-color="#c1ccf3"/><stop offset="0.2690" stop-color="#cbe8f0"/><stop offset="0.2719" stop-color="#effaf4"/><stop offset="0.2741" stop-color="#ffffff"/><stop offset="0.2777" stop-color="#ffffff"/><stop offset="0.2807" stop-color="#d7f1ef"/><stop offset="0.2828" stop-color="#c1d1f3"/><stop offset="0.2843" stop-color="#c8afea"/><stop offset="0.2858" stop-color="#d391c9"/><stop offset="0.2872" stop-color="#d07e93"/><stop offset="0.2887" stop-color="#b5795e"/><stop offset="0.2901" stop-color="#8a7a3b"/><stop offset="0.2916" stop-color="#637a2f"/><stop offset="0.2938" stop-color="#337335"/><stop offset="0.2967" stop-color="#1a6046"/><stop offset="0.3025" stop-color="#163d4e"/><stop offset="0.3120" stop-color="#1a2744"/><stop offset="0.3922" stop-color="#19132d"/><stop offset="0.4483" stop-color="#0f0a11"/><stop offset="0.5117" stop-color="#0a0a0a"/><stop offset="0.5890" stop-color="#0c0a0e"/><stop offset="0.6182" stop-color="#180f25"/><stop offset="0.6451" stop-color="#1a2744"/><stop offset="0.6641" stop-color="#154b4e"/><stop offset="0.6779" stop-color="#22693f"/><stop offset="0.6903" stop-color="#467830"/><stop offset="0.7020" stop-color="#7e7a36"/><stop offset="0.7158" stop-color="#b17959"/><stop offset="0.7297" stop-color="#c57a76"/><stop offset="0.7450" stop-color="#c57a76"/><stop offset="0.7589" stop-color="#ae7956"/><stop offset="0.7734" stop-color="#727b32"/><stop offset="0.7851" stop-color="#3a7533"/><stop offset="0.7960" stop-color="#1b6145"/><stop offset="0.8099" stop-color="#163d4e"/><stop offset="0.8296" stop-color="#1a1835"/><stop offset="0.8471" stop-color="#160c1f"/><stop offset="0.8602" stop-color="#19122b"/><stop offset="0.8711" stop-color="#1a1835"/><stop offset="0.8835" stop-color="#160c1f"/><stop offset="0.8959" stop-color="#0a0a0a"/><stop offset="0.9994" stop-color="#0a0a0a"/></linearGradient>
<linearGradient id="h18" x1="0" y1="0" x2="0" y2="1"><stop offset="0.0000" stop-color="#15424e"/><stop offset="0.1064" stop-color="#163f4e"/><stop offset="0.1575" stop-color="#1a2441"/><stop offset="0.1903" stop-color="#1a213e"/><stop offset="0.2216" stop-color="#163b4e"/><stop offset="0.2391" stop-color="#195d48"/><stop offset="0.2464" stop-color="#2d7038"/><stop offset="0.2508" stop-color="#51792f"/><stop offset="0.2544" stop-color="#817a37"/><stop offset="0.2581" stop-color="#b77961"/><stop offset="0.2602" stop-color="#cf7e8f"/><stop offset="0.2632" stop-color="#d295d0"/><stop offset="0.2653" stop-color="#c6b4ee"/><stop offset="0.2675" stop-color="#c2d7f3"/><stop offset="0.2704" stop-color="#dcf3ef"/><stop offset="0.2734" stop-color="#fdfefe"/><stop offset="0.2777" stop-color="#ffffff"/><stop offset="0.2799" stop-color="#e3f6f0"/><stop offset="0.2821" stop-color="#c5dff2"/><stop offset="0.2836" stop-color="#c3c1f2"/><stop offset="0.2850" stop-color="#cf9fdd"/><stop offset="0.2865" stop-color="#d486af"/><stop offset="0.2879" stop-color="#c57a76"/><stop offset="0.2894" stop-color="#a1794a"/><stop offset="0.2909" stop-color="#757b33"/><stop offset="0.2930" stop-color="#417731"/><stop offset="0.2952" stop-color="#236a3e"/><stop offset="0.2989" stop-color="#15524c"/><stop offset="0.3047" stop-color="#17364c"/><stop offset="0.3149" stop-color="#1a2744"/><stop offset="0.3885" stop-color="#1a1631"/><stop offset="0.4461" stop-color="#0f0a11"/><stop offset="0.5139" stop-color="#0a0a0a"/><stop offset="0.5817" stop-color="#0c0a0e"/><stop offset="0.6109" stop-color="#180f25"/><stop offset="0.6422" stop-color="#182f49"/><stop offset="0.6604" stop-color="#16534c"/><stop offset="0.6736" stop-color="#286d3b"/><stop offset="0.6860" stop-color="#51792f"/><stop offset="0.6976" stop-color="#877a3a"/><stop offset="0.7107" stop-color="#b5795e"/><stop offset="0.7246" stop-color="#c87b7c"/><stop offset="0.7363" stop-color="#ca7c83"/><stop offset="0.7487" stop-color="#c17a70"/><stop offset="0.7610" stop-color="#a4794c"/><stop offset="0.7720" stop-color="#757b33"/><stop offset="0.7836" stop-color="#3c7632"/><stop offset="0.7931" stop-color="#1e6542"/><stop offset="0.8070" stop-color="#15424e"/><stop offset="0.8259" stop-color="#1b1c3a"/><stop offset="0.8456" stop-color="#160c1f"/><stop offset="0.8558" stop-color="#160d21"/><stop offset="0.8704" stop-color="#1a1631"/><stop offset="0.8799" stop-color="#170e23"/><stop offset="0.8944" stop-color="#0a0a0a"/><stop offset="0.9994" stop-color="#0a0a0a"/></linearGradient>
<linearGradient id="h19" x1="0" y1="0" x2="0" y2="1"><stop offset="0.0000" stop-color="#15444f"/><stop offset="0.1086" stop-color="#16404e"/><stop offset="0.1611" stop-color="#1a2441"/><stop offset="0.1910" stop-color="#1a2240"/><stop offset="0.2216" stop-color="#163d4e"/><stop offset="0.2391" stop-color="#195e47"/><stop offset="0.2457" stop-color="#2b6f39"/><stop offset="0.2500" stop-color="#4c792f"/><stop offset="0.2537" stop-color="#787b34"/><stop offset="0.2566" stop-color="#a4794c"/><stop offset="0.2595" stop-color="#c97b7f"/><stop offset="0.2617" stop-color="#d487b2"/><stop offset="0.2639" stop-color="#cea1df"/><stop offset="0.2661" stop-color="#c2c3f2"/><stop offset="0.2683" stop-color="#c6e1f1"/><stop offset="0.2712" stop-color="#e7f8f1"/><stop offset="0.2734" stop-color="#ffffff"/><stop offset="0.2777" stop-color="#ffffff"/><stop offset="0.2799" stop-color="#e3f6f0"/><stop offset="0.2821" stop-color="#c5dff2"/><stop offset="0.2836" stop-color="#c3c1f2"/><stop offset="0.2843" stop-color="#c8b1ec"/><stop offset="0.2858" stop-color="#d391c9"/><stop offset="0.2872" stop-color="#d07e93"/><stop offset="0.2887" stop-color="#b5795e"/><stop offset="0.2901" stop-color="#8d7a3d"/><stop offset="0.2916" stop-color="#637a2f"/><stop offset="0.2938" stop-color="#357435"/><stop offset="0.2967" stop-color="#1b6145"/><stop offset="0.3018" stop-color="#15424e"/><stop offset="0.3098" stop-color="#192c47"/><stop offset="0.3944" stop-color="#1a1631"/><stop offset="0.4461" stop-color="#100a13"/><stop offset="0.5023" stop-color="#0a0a0a"/><stop offset="0.5744" stop-color="#0c0a0e"/><stop offset="0.6043" stop-color="#181027"/><stop offset="0.6342" stop-color="#18314a"/><stop offset="0.6532" stop-color="#16554b"/><stop offset="0.6677" stop-color="#2b6f39"/><stop offset="0.6809" stop-color="#5a7a2f"/><stop offset="0.6940" stop-color="#937a40"/><stop offset="0.7064" stop-color="#bc7967"/><stop offset="0.7202" stop-color="#cc7c86"/><stop offset="0.7333" stop-color="#ce7d8c"/><stop offset="0.7450" stop-color="#c67a79"/><stop offset="0.7574" stop-color="#ac7954"/><stop offset="0.7705" stop-color="#757b33"/><stop offset="0.7822" stop-color="#3c7632"/><stop offset="0.7924" stop-color="#1d6443"/><stop offset="0.8070" stop-color="#16404e"/><stop offset="0.8259" stop-color="#1b1b38"/><stop offset="0.8463" stop-color="#150b1d"/><stop offset="0.8573" stop-color="#160c1f"/><stop offset="0.8697" stop-color="#19122b"/><stop offset="0.8791" stop-color="#160d21"/><stop offset="0.8937" stop-color="#0a0a0a"/><stop offset="0.9994" stop-color="#0a0a0a"/></linearGradient>
<linearGradient id="h20" x1="0" y1="0" x2="0" y2="1"><stop offset="0.0000" stop-color="#15474e"/><stop offset="0.1101" stop-color="#15424e"/><stop offset="0.1611" stop-color="#1a2543"/><stop offset="0.1881" stop-color="#1a2240"/><stop offset="0.2194" stop-color="#163b4e"/><stop offset="0.2384" stop-color="#195d48"/><stop offset="0.2457" stop-color="#2d7038"/><stop offset="0.2500" stop-color="#4e792f"/><stop offset="0.2544" stop-color="#847a38"/><stop offset="0.2573" stop-color="#b17959"/><stop offset="0.2602" stop-color="#d07e93"/><stop offset="0.2632" stop-color="#d297d2"/><stop offset="0.2653" stop-color="#c5b8ef"/><stop offset="0.2675" stop-color="#c3d9f3"/><stop offset="0.2704" stop-color="#e0f5f0"/><stop offset="0.2734" stop-color="#ffffff"/><stop offset="0.2777" stop-color="#ffffff"/><stop offset="0.2799" stop-color="#e5f7f1"/><stop offset="0.2821" stop-color="#c5dff2"/><stop offset="0.2836" stop-color="#c3c1f2"/><stop offset="0.2850" stop-color="#cf9fdd"/><stop offset="0.2865" stop-color="#d486af"/><stop offset="0.2879" stop-color="#c57a76"/><stop offset="0.2894" stop-color="#a1794a"/><stop offset="0.2909" stop-color="#787b34"/><stop offset="0.2930" stop-color="#417731"/><stop offset="0.2952" stop-color="#256b3d"/><stop offset="0.2989" stop-color="#15524c"/><stop offset="0.3054" stop-color="#17364c"/><stop offset="0.3193" stop-color="#1a2744"/><stop offset="0.3878" stop-color="#1b1a36"/><stop offset="0.4228" stop-color="#170e23"/><stop offset="0.4563" stop-color="#0f0a11"/><stop offset="0.5351" stop-color="#0a0a0a"/><stop offset="0.5722" stop-color="#0f0a11"/><stop offset="0.5992" stop-color="#19122b"/><stop offset="0.6276" stop-color="#17344c"/><stop offset="0.6481" stop-color="#17584a"/><stop offset="0.6626" stop-color="#2f7137"/><stop offset="0.6758" stop-color="#607a2f"/><stop offset="0.6889" stop-color="#967a42"/><stop offset="0.7020" stop-color="#be796a"/><stop offset="0.7166" stop-color="#cd7d89"/><stop offset="0.7290" stop-color="#cf7e8f"/><stop offset="0.7414" stop-color="#c87b7c"/><stop offset="0.7545" stop-color="#ae7956"/><stop offset="0.7691" stop-color="#727b32"/><stop offset="0.7807" stop-color="#3a7533"/><stop offset="0.7909" stop-color="#1d6443"/><stop offset="0.8055" stop-color="#16404e"/><stop offset="0.8252" stop-color="#1b1b38"/><stop offset="0.8471" stop-color="#140a1b"/><stop offset="0.8602" stop-color="#160c1f"/><stop offset="0.8711" stop-color="#181027"/><stop offset="0.8937" stop-color="#0a0a0a"/><stop offset="0.9994" stop-color="#0a0a0a"/></linearGradient>
<linearGradient id="h21" x1="0" y1="0" x2="0" y2="1"><stop offset="0.0000" stop-color="#15494e"/><stop offset="0.1123" stop-color="#15444f"/><stop offset="0.1640" stop-color="#1a2543"/><stop offset="0.1924" stop-color="#1a2543"/><stop offset="0.2245" stop-color="#15444f"/><stop offset="0.2406" stop-color="#1d6443"/><stop offset="0.2464" stop-color="#337335"/><stop offset="0.2515" stop-color="#607a2f"/><stop offset="0.2551" stop-color="#937a40"/><stop offset="0.2581" stop-color="#bc7967"/><stop offset="0.2602" stop-color="#d17f96"/><stop offset="0.2632" stop-color="#d198d4"/><stop offset="0.2653" stop-color="#c5baf0"/><stop offset="0.2675" stop-color="#c3daf2"/><stop offset="0.2704" stop-color="#e0f5f0"/><stop offset="0.2734" stop-color="#ffffff"/><stop offset="0.2777" stop-color="#ffffff"/><stop offset="0.2799" stop-color="#e5f7f1"/><stop offset="0.2821" stop-color="#c5dff2"/><stop offset="0.2836" stop-color="#c3c1f2"/><stop offset="0.2850" stop-color="#cf9fdd"/><stop offset="0.2865" stop-color="#d486af"/><stop offset="0.2879" stop-color="#c57a76"/><stop offset="0.2894" stop-color="#a1794a"/><stop offset="0.2909" stop-color="#787b34"/><stop offset="0.2923" stop-color="#51792f"/><stop offset="0.2945" stop-color="#2b6f39"/><stop offset="0.2974" stop-color="#195d48"/><stop offset="0.3040" stop-color="#163b4e"/><stop offset="0.3142" stop-color="#192a46"/><stop offset="0.3966" stop-color="#1b1a36"/><stop offset="0.4250" stop-color="#180f25"/><stop offset="0.4520" stop-color="#110a15"/><stop offset="0.5030" stop-color="#0c0a0e"/><stop offset="0.5613" stop-color="#0f0a11"/><stop offset="0.5897" stop-color="#19122b"/><stop offset="0.6189" stop-color="#17344c"/><stop offset="0.6400" stop-color="#17584a"/><stop offset="0.6561" stop-color="#2f7137"/><stop offset="0.6692" stop-color="#607a2f"/><stop offset="0.6838" stop-color="#997944"/><stop offset="0.6954" stop-color="#bc7967"/><stop offset="0.7122" stop-color="#ce7d8c"/><stop offset="0.7239" stop-color="#d07e93"/><stop offset="0.7392" stop-color="#c87b7c"/><stop offset="0.7523" stop-color="#ac7954"/><stop offset="0.7632" stop-color="#817a37"/><stop offset="0.7749" stop-color="#4c792f"/><stop offset="0.7858" stop-color="#236a3e"/><stop offset="0.7997" stop-color="#154b4e"/><stop offset="0.8172" stop-color="#1a2543"/><stop offset="0.8420" stop-color="#150b1d"/><stop offset="0.8580" stop-color="#130a19"/><stop offset="0.8718" stop-color="#160d21"/><stop offset="0.8930" stop-color="#0a0a0a"/><stop offset="0.9994" stop-color="#0a0a0a"/></linearGradient>
<linearGradient id="h22" x1="0" y1="0" x2="0" y2="1"><stop offset="0.0000" stop-color="#154b4e"/><stop offset="0.1144" stop-color="#15464e"/><stop offset="0.1640" stop-color="#1a2744"/><stop offset="0.1932" stop-color="#1a2744"/><stop offset="0.2267" stop-color="#15494e"/><stop offset="0.2413" stop-color="#1f6741"/><stop offset="0.2478" stop-color="#3f7632"/><stop offset="0.2515" stop-color="#637a2f"/><stop offset="0.2551" stop-color="#967a42"/><stop offset="0.2581" stop-color="#be796a"/><stop offset="0.2602" stop-color="#d18099"/><stop offset="0.2632" stop-color="#d09ad7"/><stop offset="0.2653" stop-color="#c5baf0"/><stop offset="0.2675" stop-color="#c4dcf2"/><stop offset="0.2704" stop-color="#e2f6f0"/><stop offset="0.2734" stop-color="#ffffff"/><stop offset="0.2777" stop-color="#ffffff"/><stop offset="0.2799" stop-color="#e5f7f1"/><stop offset="0.2821" stop-color="#c5dff2"/><stop offset="0.2836" stop-color="#c3c1f2"/><stop offset="0.2850" stop-color="#cf9fdd"/><stop offset="0.2858" stop-color="#d391c9"/><stop offset="0.2872" stop-color="#d07e93"/><stop offset="0.2887" stop-color="#b5795e"/><stop offset="0.2901" stop-color="#8d7a3d"/><stop offset="0.2916" stop-color="#637a2f"/><stop offset="0.2938" stop-color="#357435"/><stop offset="0.2967" stop-color="#1b6145"/><stop offset="0.3025" stop-color="#16404e"/><stop offset="0.3127" stop-color="#192c47"/><stop offset="0.4017" stop-color="#1b1b38"/><stop offset="0.4308" stop-color="#180f25"/><stop offset="0.4534" stop-color="#120a17"/><stop offset="0.5023" stop-color="#0e0a0f"/><stop offset="0.5598" stop-color="#120a17"/><stop offset="0.5905" stop-color="#1b1b38"/><stop offset="0.6167" stop-color="#163f4e"/><stop offset="0.6378" stop-color="#1c6344"/><stop offset="0.6510" stop-color="#357435"/><stop offset="0.6663" stop-color="#6f7b31"/><stop offset="0.6787" stop-color="#9f7948"/><stop offset="0.6925" stop-color="#c17a70"/><stop offset="0.7056" stop-color="#ce7d8c"/><stop offset="0.7166" stop-color="#d07e93"/><stop offset="0.7261" stop-color="#cf7e8f"/><stop offset="0.7406" stop-color="#c17a70"/><stop offset="0.7530" stop-color="#a1794a"/><stop offset="0.7669" stop-color="#667a30"/><stop offset="0.7793" stop-color="#317236"/><stop offset="0.7902" stop-color="#195e47"/><stop offset="0.8055" stop-color="#16394d"/><stop offset="0.8274" stop-color="#1a1631"/><stop offset="0.8500" stop-color="#120a17"/><stop offset="0.8740" stop-color="#140a1b"/><stop offset="0.8908" stop-color="#0a0a0a"/><stop offset="0.9994" stop-color="#0a0a0a"/></linearGradient>
<linearGradient id="h23" x1="0" y1="0" x2="0" y2="1"><stop offset="0.0000" stop-color="#154d4e"/><stop offset="0.1159" stop-color="#15474e"/><stop offset="0.1640" stop-color="#192845"/><stop offset="0.1881" stop-color="#1a2744"/><stop offset="0.2194" stop-color="#16404e"/><stop offset="0.2384" stop-color="#1b6145"/><stop offset="0.2457" stop-color="#317236"/><stop offset="0.2508" stop-color="#5d7a2f"/><stop offset="0.2544" stop-color="#8d7a3d"/><stop offset="0.2566" stop-color="#ac7954"/><stop offset="0.2595" stop-color="#cd7d89"/><stop offset="0.2617" stop-color="#d48abb"/><stop offset="0.2639" stop-color="#cca6e4"/><stop offset="0.2661" stop-color="#c2c6f3"/><stop offset="0.2683" stop-color="#c9e5f0"/><stop offset="0.2712" stop-color="#edfaf4"/><stop offset="0.2734" stop-color="#ffffff"/><stop offset="0.2777" stop-color="#ffffff"/><stop offset="0.2799" stop-color="#e5f7f1"/><stop offset="0.2821" stop-color="#c5dff2"/><stop offset="0.2836" stop-color="#c3c1f2"/><stop offset="0.2850" stop-color="#cf9fdd"/><stop offset="0.2858" stop-color="#d391c9"/><stop offset="0.2872" stop-color="#d07e93"/><stop offset="0.2887" stop-color="#b5795e"/><stop offset="0.2901" stop-color="#8d7a3d"/><stop offset="0.2916" stop-color="#637a2f"/><stop offset="0.2938" stop-color="#387434"/><stop offset="0.2960" stop-color="#1f6741"/><stop offset="0.3011" stop-color="#15474e"/><stop offset="0.3091" stop-color="#18314a"/><stop offset="0.3404" stop-color="#192845"/><stop offset="0.4192" stop-color="#1a1835"/><stop offset="0.4512" stop-color="#140a1b"/><stop offset="0.4986" stop-color="#0f0a11"/><stop offset="0.5584" stop-color="#160c1f"/><stop offset="0.5905" stop-color="#1a2744"/><stop offset="0.6153" stop-color="#154b4e"/><stop offset="0.6342" stop-color="#22693f"/><stop offset="0.6481" stop-color="#447731"/><stop offset="0.6626" stop-color="#7b7a35"/><stop offset="0.6772" stop-color="#ae7956"/><stop offset="0.6925" stop-color="#c97b7f"/><stop offset="0.7071" stop-color="#d17f96"/><stop offset="0.7217" stop-color="#d07e93"/><stop offset="0.7384" stop-color="#bf796d"/><stop offset="0.7501" stop-color="#a1794a"/><stop offset="0.7632" stop-color="#6c7b31"/><stop offset="0.7764" stop-color="#337335"/><stop offset="0.7895" stop-color="#185b48"/><stop offset="0.8055" stop-color="#17364c"/><stop offset="0.8288" stop-color="#19132d"/><stop offset="0.8522" stop-color="#110a15"/><stop offset="0.8762" stop-color="#110a15"/><stop offset="0.8915" stop-color="#0a0a0a"/><stop offset="0.9994" stop-color="#0a0a0a"/></linearGradient>
<linearGradient id="h24" x1="0" y1="0" x2="0" y2="1"><stop offset="0.0000" stop-color="#154e4d"/><stop offset="0.1123" stop-color="#154b4e"/><stop offset="0.1516" stop-color="#18324b"/><stop offset="0.1793" stop-color="#1a2543"/><stop offset="0.2078" stop-color="#17364c"/><stop offset="0.2347" stop-color="#175a49"/><stop offset="0.2427" stop-color="#266c3c"/><stop offset="0.2478" stop-color="#417731"/><stop offset="0.2522" stop-color="#727b32"/><stop offset="0.2551" stop-color="#997944"/><stop offset="0.2581" stop-color="#c17a70"/><stop offset="0.2610" stop-color="#d485ac"/><stop offset="0.2632" stop-color="#d09cd9"/><stop offset="0.2653" stop-color="#c4bdf1"/><stop offset="0.2675" stop-color="#c4ddf2"/><stop offset="0.2704" stop-color="#e3f6f0"/><stop offset="0.2726" stop-color="#fdfefe"/><stop offset="0.2777" stop-color="#ffffff"/><stop offset="0.2799" stop-color="#e5f7f1"/><stop offset="0.2821" stop-color="#c5dff2"/><stop offset="0.2836" stop-color="#c3c1f2"/><stop offset="0.2850" stop-color="#cf9fdd"/><stop offset="0.2865" stop-color="#d485ac"/><stop offset="0.2879" stop-color="#c57a76"/><stop offset="0.2894" stop-color="#a1794a"/><stop offset="0.2909" stop-color="#787b34"/><stop offset="0.2923" stop-color="#51792f"/><stop offset="0.2952" stop-color="#256b3d"/><stop offset="0.2989" stop-color="#16534c"/><stop offset="0.3054" stop-color="#16394d"/><stop offset="0.3178" stop-color="#192c47"/><stop offset="0.4162" stop-color="#1b1e3b"/><stop offset="0.4512" stop-color="#160d21"/><stop offset="0.4921" stop-color="#110a15"/><stop offset="0.5533" stop-color="#181027"/><stop offset="0.5875" stop-color="#18314a"/><stop offset="0.6123" stop-color="#16554b"/><stop offset="0.6298" stop-color="#286d3b"/><stop offset="0.6451" stop-color="#54792f"/><stop offset="0.6597" stop-color="#8a7a3b"/><stop offset="0.6728" stop-color="#b5795e"/><stop offset="0.6911" stop-color="#ce7d8c"/><stop offset="0.7056" stop-color="#d18099"/><stop offset="0.7166" stop-color="#d17f96"/><stop offset="0.7297" stop-color="#c87b7c"/><stop offset="0.7428" stop-color="#ae7956"/><stop offset="0.7581" stop-color="#757b33"/><stop offset="0.7720" stop-color="#3c7632"/><stop offset="0.7829" stop-color="#1e6542"/><stop offset="0.7982" stop-color="#15444f"/><stop offset="0.8179" stop-color="#1b1f3d"/><stop offset="0.8449" stop-color="#130a19"/><stop offset="0.8646" stop-color="#100a13"/><stop offset="0.8791" stop-color="#0e0a0f"/><stop offset="0.9003" stop-color="#0a0a0a"/><stop offset="0.9994" stop-color="#0a0a0a"/></linearGradient>
<linearGradient id="h25" x1="0" y1="0" x2="0" y2="1"><stop offset="0.0000" stop-color="#15524c"/><stop offset="0.1196" stop-color="#154b4e"/><stop offset="0.1669" stop-color="#192a46"/><stop offset="0.1917" stop-color="#192a46"/><stop offset="0.2282" stop-color="#15504d"/><stop offset="0.2406" stop-color="#206840"/><stop offset="0.2464" stop-color="#3a7533"/><stop offset="0.2515" stop-color="#697b30"/><stop offset="0.2544" stop-color="#907a3e"/><stop offset="0.2573" stop-color="#b97964"/><stop offset="0.2602" stop-color="#d381a0"/><stop offset="0.2632" stop-color="#cf9ddb"/><stop offset="0.2653" stop-color="#c3bff2"/><stop offset="0.2675" stop-color="#c5dff2"/><stop offset="0.2704" stop-color="#e5f7f1"/><stop offset="0.2726" stop-color="#fdfefe"/><stop offset="0.2777" stop-color="#ffffff"/><stop offset="0.2799" stop-color="#e5f7f1"/><stop offset="0.2821" stop-color="#c5dff2"/><stop offset="0.2836" stop-color="#c3bff2"/><stop offset="0.2850" stop-color="#cf9fdd"/><stop offset="0.2865" stop-color="#d485ac"/><stop offset="0.2879" stop-color="#c57a76"/><stop offset="0.2894" stop-color="#a1794a"/><stop offset="0.2909" stop-color="#787b34"/><stop offset="0.2923" stop-color="#51792f"/><stop offset="0.2945" stop-color="#2d7038"/><stop offset="0.2981" stop-color="#17584a"/><stop offset="0.3054" stop-color="#16394d"/><stop offset="0.3164" stop-color="#192d48"/><stop offset="0.4257" stop-color="#1b1e3b"/><stop offset="0.4534" stop-color="#181027"/><stop offset="0.4891" stop-color="#140a1b"/><stop offset="0.5489" stop-color="#1a1733"/><stop offset="0.5846" stop-color="#163b4e"/><stop offset="0.6101" stop-color="#1a6046"/><stop offset="0.6262" stop-color="#337335"/><stop offset="0.6393" stop-color="#5d7a2f"/><stop offset="0.6546" stop-color="#937a40"/><stop offset="0.6677" stop-color="#b97964"/><stop offset="0.6860" stop-color="#cf7e8f"/><stop offset="0.7005" stop-color="#d2809c"/><stop offset="0.7137" stop-color="#d17f96"/><stop offset="0.7319" stop-color="#bf796d"/><stop offset="0.7457" stop-color="#9c7946"/><stop offset="0.7589" stop-color="#667a30"/><stop offset="0.7727" stop-color="#317236"/><stop offset="0.7851" stop-color="#195d48"/><stop offset="0.8019" stop-color="#17374d"/><stop offset="0.8259" stop-color="#1a142f"/><stop offset="0.8507" stop-color="#100a13"/><stop offset="0.9054" stop-color="#0a0a0a"/><stop offset="0.9994" stop-color="#0a0a0a"/></linearGradient>
<linearGradient id="h26" x1="0" y1="0" x2="0" y2="1"><stop offset="0.0000" stop-color="#16534c"/><stop offset="0.1159" stop-color="#154e4d"/><stop offset="0.1524" stop-color="#17364c"/><stop offset="0.1771" stop-color="#192845"/><stop offset="0.2012" stop-color="#18324b"/><stop offset="0.2318" stop-color="#16574b"/><stop offset="0.2427" stop-color="#286d3b"/><stop offset="0.2478" stop-color="#467830"/><stop offset="0.2522" stop-color="#757b33"/><stop offset="0.2551" stop-color="#9f7948"/><stop offset="0.2581" stop-color="#c37a73"/><stop offset="0.2602" stop-color="#d382a3"/><stop offset="0.2632" stop-color="#cf9fdd"/><stop offset="0.2653" stop-color="#c3c1f2"/><stop offset="0.2675" stop-color="#c6e0f1"/><stop offset="0.2704" stop-color="#e5f7f1"/><stop offset="0.2726" stop-color="#ffffff"/><stop offset="0.2777" stop-color="#ffffff"/><stop offset="0.2799" stop-color="#e5f7f1"/><stop offset="0.2821" stop-color="#c5dff2"/><stop offset="0.2836" stop-color="#c3bff2"/><stop offset="0.2850" stop-color="#cf9fdd"/><stop offset="0.2865" stop-color="#d485ac"/><stop offset="0.2879" stop-color="#c57a76"/><stop offset="0.2894" stop-color="#a1794a"/><stop offset="0.2909" stop-color="#787b34"/><stop offset="0.2930" stop-color="#447731"/><stop offset="0.2952" stop-color="#266c3c"/><stop offset="0.2989" stop-color="#16554b"/><stop offset="0.3054" stop-color="#16394d"/><stop offset="0.3186" stop-color="#192d48"/><stop offset="0.4315" stop-color="#1a213e"/><stop offset="0.4593" stop-color="#1a142f"/><stop offset="0.4891" stop-color="#180f25"/><stop offset="0.5496" stop-color="#1a2441"/><stop offset="0.5824" stop-color="#15474e"/><stop offset="0.6058" stop-color="#1f6741"/><stop offset="0.6218" stop-color="#3f7632"/><stop offset="0.6378" stop-color="#757b33"/><stop offset="0.6524" stop-color="#a7794f"/><stop offset="0.6677" stop-color="#c67a79"/><stop offset="0.6823" stop-color="#d17f96"/><stop offset="0.6954" stop-color="#d381a0"/><stop offset="0.7086" stop-color="#d18099"/><stop offset="0.7290" stop-color="#bf796d"/><stop offset="0.7421" stop-color="#9c7946"/><stop offset="0.7567" stop-color="#637a2f"/><stop offset="0.7720" stop-color="#2b6f39"/><stop offset="0.7866" stop-color="#16554b"/><stop offset="0.8041" stop-color="#18314a"/><stop offset="0.8288" stop-color="#191129"/><stop offset="0.8573" stop-color="#0e0a0f"/><stop offset="0.9192" stop-color="#0a0a0a"/><stop offset="0.9994" stop-color="#0a0a0a"/></linearGradient>
<linearGradient id="h27" x1="0" y1="0" x2="0" y2="1"><stop offset="0.0000" stop-color="#16574b"/><stop offset="0.1174" stop-color="#15504d"/><stop offset="0.1524" stop-color="#17374d"/><stop offset="0.1786" stop-color="#192845"/><stop offset="0.2056" stop-color="#17374d"/><stop offset="0.2333" stop-color="#175a49"/><stop offset="0.2420" stop-color="#266c3c"/><stop offset="0.2471" stop-color="#417731"/><stop offset="0.2522" stop-color="#787b34"/><stop offset="0.2551" stop-color="#a1794a"/><stop offset="0.2581" stop-color="#c57a76"/><stop offset="0.2602" stop-color="#d383a6"/><stop offset="0.2632" stop-color="#cea1df"/><stop offset="0.2653" stop-color="#c3c1f2"/><stop offset="0.2675" stop-color="#c6e1f1"/><stop offset="0.2704" stop-color="#e7f8f1"/><stop offset="0.2726" stop-color="#ffffff"/><stop offset="0.2785" stop-color="#fbfefc"/><stop offset="0.2807" stop-color="#d7f1ef"/><stop offset="0.2828" stop-color="#c1d1f3"/><stop offset="0.2843" stop-color="#c8afea"/><stop offset="0.2858" stop-color="#d490c6"/><stop offset="0.2872" stop-color="#cf7e8f"/><stop offset="0.2887" stop-color="#b5795e"/><stop offset="0.2901" stop-color="#8d7a3d"/><stop offset="0.2916" stop-color="#667a30"/><stop offset="0.2938" stop-color="#387434"/><stop offset="0.2967" stop-color="#1c6344"/><stop offset="0.3025" stop-color="#15444f"/><stop offset="0.3098" stop-color="#18324b"/><stop offset="0.4410" stop-color="#1a2240"/><stop offset="0.4884" stop-color="#1a1733"/><stop offset="0.5475" stop-color="#18314a"/><stop offset="0.5817" stop-color="#16554b"/><stop offset="0.6021" stop-color="#286d3b"/><stop offset="0.6189" stop-color="#51792f"/><stop offset="0.6342" stop-color="#877a3a"/><stop offset="0.6510" stop-color="#b77961"/><stop offset="0.6677" stop-color="#ce7d8c"/><stop offset="0.6816" stop-color="#d381a0"/><stop offset="0.6998" stop-color="#d381a0"/><stop offset="0.7166" stop-color="#ca7c83"/><stop offset="0.7326" stop-color="#ae7956"/><stop offset="0.7487" stop-color="#787b34"/><stop offset="0.7632" stop-color="#3f7632"/><stop offset="0.7778" stop-color="#1c6344"/><stop offset="0.7953" stop-color="#163f4e"/><stop offset="0.8186" stop-color="#1b1a36"/><stop offset="0.8456" stop-color="#120a17"/><stop offset="0.8777" stop-color="#0a0a0a"/><stop offset="0.9994" stop-color="#0a0a0a"/></linearGradient>
<linearGradient id="h28" x1="0" y1="0" x2="0" y2="1"><stop offset="0.0000" stop-color="#175a49"/><stop offset="0.1130" stop-color="#16534c"/><stop offset="0.1494" stop-color="#163d4e"/><stop offset="0.1764" stop-color="#192a46"/><stop offset="0.2019" stop-color="#17364c"/><stop offset="0.2325" stop-color="#175a49"/><stop offset="0.2427" stop-color="#2a6e3a"/><stop offset="0.2486" stop-color="#51792f"/><stop offset="0.2522" stop-color="#787b34"/><stop offset="0.2559" stop-color="#ac7954"/><stop offset="0.2581" stop-color="#c67a79"/><stop offset="0.2610" stop-color="#d589b8"/><stop offset="0.2639" stop-color="#c9ade9"/><stop offset="0.2661" stop-color="#c1cff3"/><stop offset="0.2683" stop-color="#cdeaef"/><stop offset="0.2712" stop-color="#f2fbf6"/><stop offset="0.2726" stop-color="#ffffff"/><stop offset="0.2785" stop-color="#fbfefc"/><stop offset="0.2807" stop-color="#d7f1ef"/><stop offset="0.2821" stop-color="#c4ddf2"/><stop offset="0.2836" stop-color="#c3bff2"/><stop offset="0.2843" stop-color="#c8afea"/><stop offset="0.2858" stop-color="#d490c6"/><stop offset="0.2872" stop-color="#cf7e8f"/><stop offset="0.2887" stop-color="#b5795e"/><stop offset="0.2901" stop-color="#8d7a3d"/><stop offset="0.2916" stop-color="#637a2f"/><stop offset="0.2938" stop-color="#387434"/><stop offset="0.2967" stop-color="#1c6344"/><stop offset="0.3033" stop-color="#16404e"/><stop offset="0.3127" stop-color="#18314a"/><stop offset="0.4738" stop-color="#1a2744"/><stop offset="0.4935" stop-color="#1a2744"/><stop offset="0.5511" stop-color="#15464e"/><stop offset="0.5810" stop-color="#1e6542"/><stop offset="0.5985" stop-color="#3a7533"/><stop offset="0.6153" stop-color="#6c7b31"/><stop offset="0.6298" stop-color="#9c7946"/><stop offset="0.6459" stop-color="#c17a70"/><stop offset="0.6663" stop-color="#d2809c"/><stop offset="0.6794" stop-color="#d383a6"/><stop offset="0.6903" stop-color="#d383a6"/><stop offset="0.7064" stop-color="#cf7e8f"/><stop offset="0.7239" stop-color="#b97964"/><stop offset="0.7384" stop-color="#907a3e"/><stop offset="0.7530" stop-color="#5a7a2f"/><stop offset="0.7691" stop-color="#266c3c"/><stop offset="0.7836" stop-color="#15524c"/><stop offset="0.8026" stop-color="#192d48"/><stop offset="0.8303" stop-color="#180f25"/><stop offset="0.8580" stop-color="#0e0a0f"/><stop offset="0.9010" stop-color="#0a0a0a"/><stop offset="0.9994" stop-color="#0a0a0a"/></linearGradient>
<linearGradient id="h29" x1="0" y1="0" x2="0" y2="1"><stop offset="0.0000" stop-color="#195d48"/><stop offset="0.1101" stop-color="#16574b"/><stop offset="0.1487" stop-color="#16404e"/><stop offset="0.1764" stop-color="#192c47"/><stop offset="0.2027" stop-color="#17374d"/><stop offset="0.2325" stop-color="#175a49"/><stop offset="0.2420" stop-color="#286d3b"/><stop offset="0.2471" stop-color="#447731"/><stop offset="0.2522" stop-color="#7b7a35"/><stop offset="0.2551" stop-color="#a4794c"/><stop offset="0.2581" stop-color="#c87b7c"/><stop offset="0.2610" stop-color="#d48abb"/><stop offset="0.2639" stop-color="#c8afea"/><stop offset="0.2661" stop-color="#c1cff3"/><stop offset="0.2683" stop-color="#cdeaef"/><stop offset="0.2712" stop-color="#f2fbf6"/><stop offset="0.2726" stop-color="#ffffff"/><stop offset="0.2777" stop-color="#ffffff"/><stop offset="0.2799" stop-color="#e3f6f0"/><stop offset="0.2821" stop-color="#c4ddf2"/><stop offset="0.2836" stop-color="#c3bff2"/><stop offset="0.2850" stop-color="#cf9ddb"/><stop offset="0.2865" stop-color="#d485ac"/><stop offset="0.2879" stop-color="#c37a73"/><stop offset="0.2894" stop-color="#a1794a"/><stop offset="0.2909" stop-color="#787b34"/><stop offset="0.2923" stop-color="#51792f"/><stop offset="0.2945" stop-color="#2d7038"/><stop offset="0.2974" stop-color="#195e47"/><stop offset="0.3040" stop-color="#163f4e"/><stop offset="0.3142" stop-color="#18314a"/><stop offset="0.4192" stop-color="#182f49"/><stop offset="0.4789" stop-color="#17364c"/><stop offset="0.5314" stop-color="#15494e"/><stop offset="0.5657" stop-color="#1e6542"/><stop offset="0.5839" stop-color="#387434"/><stop offset="0.6021" stop-color="#697b30"/><stop offset="0.6182" stop-color="#9c7946"/><stop offset="0.6357" stop-color="#c37a73"/><stop offset="0.6546" stop-color="#d2809c"/><stop offset="0.6714" stop-color="#d485ac"/><stop offset="0.6881" stop-color="#d383a6"/><stop offset="0.7035" stop-color="#ce7d8c"/><stop offset="0.7202" stop-color="#b77961"/><stop offset="0.7333" stop-color="#937a40"/><stop offset="0.7494" stop-color="#5a7a2f"/><stop offset="0.7632" stop-color="#2d7038"/><stop offset="0.7778" stop-color="#17584a"/><stop offset="0.7968" stop-color="#17344c"/><stop offset="0.8237" stop-color="#19122b"/><stop offset="0.8529" stop-color="#0f0a11"/><stop offset="0.8893" stop-color="#0a0a0a"/><stop offset="0.9994" stop-color="#0a0a0a"/></linearGradient>
<linearGradient id="h30" x1="0" y1="0" x2="0" y2="1"><stop offset="0.0000" stop-color="#1a6046"/><stop offset="0.1086" stop-color="#175a49"/><stop offset="0.1487" stop-color="#15424e"/><stop offset="0.1764" stop-color="#192d48"/><stop offset="0.2034" stop-color="#16394d"/><stop offset="0.2311" stop-color="#17584a"/><stop offset="0.2413" stop-color="#266c3c"/><stop offset="0.2478" stop-color="#4c792f"/><stop offset="0.2522" stop-color="#7e7a36"/><stop offset="0.2551" stop-color="#a7794f"/><stop offset="0.2588" stop-color="#ce7d8c"/><stop offset="0.2617" stop-color="#d392cb"/><stop offset="0.2639" stop-color="#c8b1ec"/><stop offset="0.2661" stop-color="#c1d1f3"/><stop offset="0.2683" stop-color="#cfebef"/><stop offset="0.2712" stop-color="#f4fcf7"/><stop offset="0.2734" stop-color="#ffffff"/><stop offset="0.2777" stop-color="#ffffff"/><stop offset="0.2799" stop-color="#e3f6f0"/><stop offset="0.2821" stop-color="#c4ddf2"/><stop offset="0.2836" stop-color="#c4bdf1"/><stop offset="0.2850" stop-color="#cf9ddb"/><stop offset="0.2865" stop-color="#d484a9"/><stop offset="0.2879" stop-color="#c37a73"/><stop offset="0.2894" stop-color="#a1794a"/><stop offset="0.2909" stop-color="#787b34"/><stop offset="0.2923" stop-color="#51792f"/><stop offset="0.2945" stop-color="#2d7038"/><stop offset="0.2974" stop-color="#195e47"/><stop offset="0.3040" stop-color="#163f4e"/><stop offset="0.3142" stop-color="#18314a"/><stop offset="0.4126" stop-color="#18314a"/><stop offset="0.4811" stop-color="#15444f"/><stop offset="0.5365" stop-color="#175a49"/><stop offset="0.5650" stop-color="#2a6e3a"/><stop offset="0.5839" stop-color="#4e792f"/><stop offset="0.6021" stop-color="#847a38"/><stop offset="0.6196" stop-color="#b3795b"/><stop offset="0.6378" stop-color="#cd7d89"/><stop offset="0.6568" stop-color="#d383a6"/><stop offset="0.6728" stop-color="#d485ac"/><stop offset="0.6925" stop-color="#d18099"/><stop offset="0.7137" stop-color="#be796a"/><stop offset="0.7297" stop-color="#967a42"/><stop offset="0.7457" stop-color="#5d7a2f"/><stop offset="0.7632" stop-color="#286d3b"/><stop offset="0.7793" stop-color="#15524c"/><stop offset="0.8004" stop-color="#192d48"/><stop offset="0.8267" stop-color="#181027"/><stop offset="0.8580" stop-color="#0e0a0f"/><stop offset="0.9061" stop-color="#0a0a0a"/><stop offset="0.9994" stop-color="#0a0a0a"/></linearGradient>
<linearGradient id="h31" x1="0" y1="0" x2="0" y2="1"><stop offset="0.0000" stop-color="#1c6344"/><stop offset="0.1050" stop-color="#195d48"/><stop offset="0.1443" stop-color="#15474e"/><stop offset="0.1771" stop-color="#182f49"/><stop offset="0.2070" stop-color="#163d4e"/><stop offset="0.2347" stop-color="#195e47"/><stop offset="0.2427" stop-color="#2d7038"/><stop offset="0.2478" stop-color="#4e792f"/><stop offset="0.2515" stop-color="#757b33"/><stop offset="0.2544" stop-color="#9f7948"/><stop offset="0.2566" stop-color="#bc7967"/><stop offset="0.2595" stop-color="#d381a0"/><stop offset="0.2624" stop-color="#cf9ddb"/><stop offset="0.2646" stop-color="#c4bdf1"/><stop offset="0.2668" stop-color="#c4ddf2"/><stop offset="0.2697" stop-color="#e3f6f0"/><stop offset="0.2719" stop-color="#fdfefe"/><stop offset="0.2777" stop-color="#ffffff"/><stop offset="0.2799" stop-color="#e3f6f0"/><stop offset="0.2821" stop-color="#c4dcf2"/><stop offset="0.2836" stop-color="#c4bdf1"/><stop offset="0.2843" stop-color="#c9ade9"/><stop offset="0.2858" stop-color="#d48ec3"/><stop offset="0.2872" stop-color="#ce7d8c"/><stop offset="0.2887" stop-color="#b3795b"/><stop offset="0.2901" stop-color="#8a7a3b"/><stop offset="0.2916" stop-color="#637a2f"/><stop offset="0.2938" stop-color="#387434"/><stop offset="0.2967" stop-color="#1c6344"/><stop offset="0.3033" stop-color="#16404e"/><stop offset="0.3142" stop-color="#18314a"/><stop offset="0.4017" stop-color="#17344c"/><stop offset="0.4607" stop-color="#15504d"/><stop offset="0.5227" stop-color="#195d48"/><stop offset="0.5540" stop-color="#2a6e3a"/><stop offset="0.5752" stop-color="#4e792f"/><stop offset="0.5956" stop-color="#847a38"/><stop offset="0.6123" stop-color="#b17959"/><stop offset="0.6320" stop-color="#cc7c86"/><stop offset="0.6488" stop-color="#d381a0"/><stop offset="0.6663" stop-color="#d484a9"/><stop offset="0.6860" stop-color="#d18099"/><stop offset="0.7056" stop-color="#c37a73"/><stop offset="0.7217" stop-color="#a4794c"/><stop offset="0.7377" stop-color="#727b32"/><stop offset="0.7545" stop-color="#3a7533"/><stop offset="0.7705" stop-color="#1a6046"/><stop offset="0.7909" stop-color="#163b4e"/><stop offset="0.8194" stop-color="#1a1631"/><stop offset="0.8485" stop-color="#110a15"/><stop offset="0.8835" stop-color="#0a0a0a"/><stop offset="0.9994" stop-color="#0a0a0a"/></linearGradient>
<linearGradient id="h32" x1="0" y1="0" x2="0" y2="1"><stop offset="0.0000" stop-color="#1d6443"/><stop offset="0.1086" stop-color="#195d48"/><stop offset="0.1494" stop-color="#15444f"/><stop offset="0.1793" stop-color="#182f49"/><stop offset="0.2150" stop-color="#15444f"/><stop offset="0.2362" stop-color="#1c6344"/><stop offset="0.2435" stop-color="#317236"/><stop offset="0.2486" stop-color="#577a2f"/><stop offset="0.2522" stop-color="#817a37"/><stop offset="0.2559" stop-color="#b3795b"/><stop offset="0.2588" stop-color="#d07e93"/><stop offset="0.2617" stop-color="#d295d0"/><stop offset="0.2639" stop-color="#c7b2ed"/><stop offset="0.2661" stop-color="#c2d4f3"/><stop offset="0.2683" stop-color="#d1edef"/><stop offset="0.2712" stop-color="#f8fdfa"/><stop offset="0.2726" stop-color="#ffffff"/><stop offset="0.2777" stop-color="#ffffff"/><stop offset="0.2799" stop-color="#e3f6f0"/><stop offset="0.2821" stop-color="#c4dcf2"/><stop offset="0.2836" stop-color="#c4bdf1"/><stop offset="0.2850" stop-color="#d09cd9"/><stop offset="0.2865" stop-color="#d484a9"/><stop offset="0.2879" stop-color="#c37a73"/><stop offset="0.2894" stop-color="#9f7948"/><stop offset="0.2909" stop-color="#757b33"/><stop offset="0.2930" stop-color="#447731"/><stop offset="0.2952" stop-color="#266c3c"/><stop offset="0.2989" stop-color="#16554b"/><stop offset="0.3069" stop-color="#17374d"/><stop offset="0.3237" stop-color="#18314a"/><stop offset="0.3973" stop-color="#17374d"/><stop offset="0.4520" stop-color="#175a49"/><stop offset="0.5241" stop-color="#1e6542"/><stop offset="0.5518" stop-color="#337335"/><stop offset="0.5722" stop-color="#5a7a2f"/><stop offset="0.5919" stop-color="#8d7a3d"/><stop offset="0.6116" stop-color="#b97964"/><stop offset="0.6342" stop-color="#cf7e8f"/><stop offset="0.6495" stop-color="#d381a0"/><stop offset="0.6714" stop-color="#d381a0"/><stop offset="0.6947" stop-color="#c97b7f"/><stop offset="0.7137" stop-color="#ae7956"/><stop offset="0.7304" stop-color="#817a37"/><stop offset="0.7479" stop-color="#497830"/><stop offset="0.7632" stop-color="#22693f"/><stop offset="0.7822" stop-color="#15494e"/><stop offset="0.8048" stop-color="#1a2543"/><stop offset="0.8376" stop-color="#150b1d"/><stop offset="0.8726" stop-color="#0b0a0c"/><stop offset="0.9994" stop-color="#0a0a0a"/></linearGradient>
<linearGradient id="h33" x1="0" y1="0" x2="0" y2="1"><stop offset="0.0000" stop-color="#1e6542"/><stop offset="0.1072" stop-color="#195e47"/><stop offset="0.1480" stop-color="#15464e"/><stop offset="0.1779" stop-color="#18314a"/><stop offset="0.2092" stop-color="#163f4e"/><stop offset="0.2340" stop-color="#195e47"/><stop offset="0.2420" stop-color="#2b6f39"/><stop offset="0.2471" stop-color="#4c792f"/><stop offset="0.2515" stop-color="#7b7a35"/><stop offset="0.2544" stop-color="#a4794c"/><stop offset="0.2566" stop-color="#be796a"/><stop offset="0.2595" stop-color="#d383a6"/><stop offset="0.2624" stop-color="#cea1df"/><stop offset="0.2646" stop-color="#c3c1f2"/><stop offset="0.2668" stop-color="#c6e0f1"/><stop offset="0.2697" stop-color="#e5f7f1"/><stop offset="0.2719" stop-color="#ffffff"/><stop offset="0.2777" stop-color="#ffffff"/><stop offset="0.2792" stop-color="#effaf4"/><stop offset="0.2814" stop-color="#cae7f0"/><stop offset="0.2828" stop-color="#c1ccf3"/><stop offset="0.2843" stop-color="#caabe8"/><stop offset="0.2858" stop-color="#d48dc1"/><stop offset="0.2872" stop-color="#ce7d8c"/><stop offset="0.2887" stop-color="#b17959"/><stop offset="0.2901" stop-color="#8a7a3b"/><stop offset="0.2916" stop-color="#637a2f"/><stop offset="0.2938" stop-color="#357435"/><stop offset="0.2967" stop-color="#1c6344"/><stop offset="0.3033" stop-color="#15424e"/><stop offset="0.3127" stop-color="#18324b"/><stop offset="0.3907" stop-color="#16394d"/><stop offset="0.4352" stop-color="#195d48"/><stop offset="0.4724" stop-color="#1e6542"/><stop offset="0.5227" stop-color="#256b3d"/><stop offset="0.5482" stop-color="#3c7632"/><stop offset="0.5693" stop-color="#667a30"/><stop offset="0.5890" stop-color="#967a42"/><stop offset="0.6101" stop-color="#bf796d"/><stop offset="0.6335" stop-color="#d07e93"/><stop offset="0.6517" stop-color="#d2809c"/><stop offset="0.6677" stop-color="#d18099"/><stop offset="0.6918" stop-color="#c67a79"/><stop offset="0.7129" stop-color="#a7794f"/><stop offset="0.7312" stop-color="#757b33"/><stop offset="0.7494" stop-color="#3c7632"/><stop offset="0.7661" stop-color="#1c6344"/><stop offset="0.7873" stop-color="#163f4e"/><stop offset="0.8157" stop-color="#1b1a36"/><stop offset="0.8463" stop-color="#120a17"/><stop offset="0.8872" stop-color="#0a0a0a"/><stop offset="0.9994" stop-color="#0a0a0a"/></linearGradient>
<linearGradient id="h34" x1="0" y1="0" x2="0" y2="1"><stop offset="0.0000" stop-color="#1e6542"/><stop offset="0.1086" stop-color="#195e47"/><stop offset="0.1502" stop-color="#15444f"/><stop offset="0.1793" stop-color="#18314a"/><stop offset="0.2107" stop-color="#16404e"/><stop offset="0.2347" stop-color="#1a6046"/><stop offset="0.2427" stop-color="#2f7137"/><stop offset="0.2478" stop-color="#54792f"/><stop offset="0.2522" stop-color="#877a3a"/><stop offset="0.2551" stop-color="#ae7956"/><stop offset="0.2581" stop-color="#cd7d89"/><stop offset="0.2610" stop-color="#d490c6"/><stop offset="0.2632" stop-color="#c9ade9"/><stop offset="0.2653" stop-color="#c1cdf3"/><stop offset="0.2675" stop-color="#cce9ef"/><stop offset="0.2704" stop-color="#f2fbf6"/><stop offset="0.2719" stop-color="#ffffff"/><stop offset="0.2777" stop-color="#ffffff"/><stop offset="0.2792" stop-color="#effaf4"/><stop offset="0.2814" stop-color="#cae7f0"/><stop offset="0.2828" stop-color="#c1ccf3"/><stop offset="0.2843" stop-color="#caa9e7"/><stop offset="0.2858" stop-color="#d48dc1"/><stop offset="0.2872" stop-color="#cd7d89"/><stop offset="0.2887" stop-color="#b17959"/><stop offset="0.2901" stop-color="#877a3a"/><stop offset="0.2923" stop-color="#51792f"/><stop offset="0.2938" stop-color="#357435"/><stop offset="0.2967" stop-color="#1c6344"/><stop offset="0.3033" stop-color="#15424e"/><stop offset="0.3127" stop-color="#18324b"/><stop offset="0.3871" stop-color="#163b4e"/><stop offset="0.4221" stop-color="#195d48"/><stop offset="0.4527" stop-color="#286d3b"/><stop offset="0.5125" stop-color="#2a6e3a"/><stop offset="0.5387" stop-color="#3f7632"/><stop offset="0.5628" stop-color="#697b30"/><stop offset="0.5846" stop-color="#9c7946"/><stop offset="0.6043" stop-color="#bf796d"/><stop offset="0.6291" stop-color="#cf7e8f"/><stop offset="0.6502" stop-color="#d18099"/><stop offset="0.6728" stop-color="#cd7d89"/><stop offset="0.6969" stop-color="#b97964"/><stop offset="0.7166" stop-color="#937a40"/><stop offset="0.7363" stop-color="#5a7a2f"/><stop offset="0.7567" stop-color="#266c3c"/><stop offset="0.7756" stop-color="#15504d"/><stop offset="0.7975" stop-color="#192d48"/><stop offset="0.8281" stop-color="#181027"/><stop offset="0.8595" stop-color="#0f0a11"/><stop offset="0.9039" stop-color="#0a0a0a"/><stop offset="0.9994" stop-color="#0a0a0a"/></linearGradient>
<linearGradient id="h35" x1="0" y1="0" x2="0" y2="1"><stop offset="0.0000" stop-color="#1e6542"/><stop offset="0.1072" stop-color="#195e47"/><stop offset="0.1480" stop-color="#15464e"/><stop offset="0.1786" stop-color="#18314a"/><stop offset="0.2085" stop-color="#163f4e"/><stop offset="0.2325" stop-color="#195d48"/><stop offset="0.2413" stop-color="#2b6f39"/><stop offset="0.2471" stop-color="#4e792f"/><stop offset="0.2515" stop-color="#817a37"/><stop offset="0.2544" stop-color="#a97951"/><stop offset="0.2566" stop-color="#c37a73"/><stop offset="0.2595" stop-color="#d485ac"/><stop offset="0.2617" stop-color="#d09ad7"/><stop offset="0.2639" stop-color="#c5baf0"/><stop offset="0.2661" stop-color="#c3daf2"/><stop offset="0.2690" stop-color="#e0f5f0"/><stop offset="0.2712" stop-color="#fbfefc"/><stop offset="0.2777" stop-color="#ffffff"/><stop offset="0.2792" stop-color="#effaf4"/><stop offset="0.2814" stop-color="#c9e5f0"/><stop offset="0.2828" stop-color="#c1caf3"/><stop offset="0.2843" stop-color="#caa9e7"/><stop offset="0.2858" stop-color="#d48cbe"/><stop offset="0.2872" stop-color="#cd7d89"/><stop offset="0.2879" stop-color="#bf796d"/><stop offset="0.2894" stop-color="#9c7946"/><stop offset="0.2909" stop-color="#727b32"/><stop offset="0.2930" stop-color="#417731"/><stop offset="0.2952" stop-color="#256b3d"/><stop offset="0.2996" stop-color="#15524c"/><stop offset="0.3062" stop-color="#16394d"/><stop offset="0.3207" stop-color="#18314a"/><stop offset="0.3805" stop-color="#163b4e"/><stop offset="0.4126" stop-color="#195d48"/><stop offset="0.4396" stop-color="#337335"/><stop offset="0.4651" stop-color="#3a7533"/><stop offset="0.5066" stop-color="#337335"/><stop offset="0.5329" stop-color="#467830"/><stop offset="0.5584" stop-color="#727b32"/><stop offset="0.5810" stop-color="#a1794a"/><stop offset="0.6014" stop-color="#bf796d"/><stop offset="0.6204" stop-color="#ca7c83"/><stop offset="0.6422" stop-color="#ce7d8c"/><stop offset="0.6670" stop-color="#c87b7c"/><stop offset="0.6947" stop-color="#ae7956"/><stop offset="0.7144" stop-color="#877a3a"/><stop offset="0.7355" stop-color="#4e792f"/><stop offset="0.7559" stop-color="#22693f"/><stop offset="0.7771" stop-color="#15494e"/><stop offset="0.8011" stop-color="#1a2744"/><stop offset="0.8339" stop-color="#160d21"/><stop offset="0.8718" stop-color="#0c0a0e"/><stop offset="0.9994" stop-color="#0a0a0a"/></linearGradient>
<linearGradient id="h36" x1="0" y1="0" x2="0" y2="1"><stop offset="0.0000" stop-color="#1d6443"/><stop offset="0.1057" stop-color="#195e47"/><stop offset="0.1458" stop-color="#15474e"/><stop offset="0.1750" stop-color="#18324b"/><stop offset="0.1997" stop-color="#17374d"/><stop offset="0.2289" stop-color="#16574b"/><stop offset="0.2398" stop-color="#266c3c"/><stop offset="0.2464" stop-color="#4c792f"/><stop offset="0.2508" stop-color="#7b7a35"/><stop offset="0.2537" stop-color="#a1794a"/><stop offset="0.2559" stop-color="#bc7967"/><stop offset="0.2588" stop-color="#d381a0"/><stop offset="0.2610" stop-color="#d294ce"/><stop offset="0.2632" stop-color="#c8b1ec"/><stop offset="0.2653" stop-color="#c1d1f3"/><stop offset="0.2675" stop-color="#cfebef"/><stop offset="0.2704" stop-color="#f4fcf7"/><stop offset="0.2719" stop-color="#ffffff"/><stop offset="0.2777" stop-color="#ffffff"/><stop offset="0.2807" stop-color="#d3eeef"/><stop offset="0.2821" stop-color="#c3d9f3"/><stop offset="0.2836" stop-color="#c5baf0"/><stop offset="0.2850" stop-color="#d198d4"/><stop offset="0.2865" stop-color="#d382a3"/><stop offset="0.2879" stop-color="#bf796d"/><stop offset="0.2894" stop-color="#9c7946"/><stop offset="0.2909" stop-color="#727b32"/><stop offset="0.2930" stop-color="#417731"/><stop offset="0.2952" stop-color="#256b3d"/><stop offset="0.2989" stop-color="#16554b"/><stop offset="0.3054" stop-color="#163b4e"/><stop offset="0.3164" stop-color="#18314a"/><stop offset="0.3754" stop-color="#163b4e"/><stop offset="0.4031" stop-color="#175a49"/><stop offset="0.4228" stop-color="#2f7137"/><stop offset="0.4425" stop-color="#4c792f"/><stop offset="0.4607" stop-color="#51792f"/><stop offset="0.4950" stop-color="#3f7632"/><stop offset="0.5176" stop-color="#417731"/><stop offset="0.5402" stop-color="#5a7a2f"/><stop offset="0.5671" stop-color="#8a7a3b"/><stop offset="0.5890" stop-color="#ae7956"/><stop offset="0.6145" stop-color="#c17a70"/><stop offset="0.6473" stop-color="#c17a70"/><stop offset="0.6809" stop-color="#a97951"/><stop offset="0.7056" stop-color="#817a37"/><stop offset="0.7304" stop-color="#497830"/><stop offset="0.7501" stop-color="#22693f"/><stop offset="0.7734" stop-color="#15494e"/><stop offset="0.8004" stop-color="#1a2543"/><stop offset="0.8332" stop-color="#160d21"/><stop offset="0.8726" stop-color="#0c0a0e"/><stop offset="0.9994" stop-color="#0a0a0a"/></linearGradient>
<linearGradient id="h37" x1="0" y1="0" x2="0" y2="1"><stop offset="0.0000" stop-color="#1d6443"/><stop offset="0.1093" stop-color="#195d48"/><stop offset="0.1509" stop-color="#15424e"/><stop offset="0.1793" stop-color="#18314a"/><stop offset="0.2085" stop-color="#163f4e"/><stop offset="0.2318" stop-color="#195d48"/><stop offset="0.2406" stop-color="#2a6e3a"/><stop offset="0.2457" stop-color="#497830"/><stop offset="0.2500" stop-color="#757b33"/><stop offset="0.2537" stop-color="#a4794c"/><stop offset="0.2573" stop-color="#cc7c86"/><stop offset="0.2602" stop-color="#d48ec3"/><stop offset="0.2624" stop-color="#caa9e7"/><stop offset="0.2646" stop-color="#c1caf3"/><stop offset="0.2668" stop-color="#c9e5f0"/><stop offset="0.2697" stop-color="#edfaf4"/><stop offset="0.2712" stop-color="#ffffff"/><stop offset="0.2777" stop-color="#ffffff"/><stop offset="0.2807" stop-color="#d3eeef"/><stop offset="0.2821" stop-color="#c2d7f3"/><stop offset="0.2836" stop-color="#c5b8ef"/><stop offset="0.2850" stop-color="#d297d2"/><stop offset="0.2865" stop-color="#d381a0"/><stop offset="0.2879" stop-color="#be796a"/><stop offset="0.2894" stop-color="#997944"/><stop offset="0.2909" stop-color="#727b32"/><stop offset="0.2923" stop-color="#4e792f"/><stop offset="0.2938" stop-color="#337335"/><stop offset="0.2967" stop-color="#1b6145"/><stop offset="0.3033" stop-color="#16404e"/><stop offset="0.3135" stop-color="#18314a"/><stop offset="0.3689" stop-color="#16394d"/><stop offset="0.3958" stop-color="#16574b"/><stop offset="0.4126" stop-color="#2a6e3a"/><stop offset="0.4345" stop-color="#5a7a2f"/><stop offset="0.4476" stop-color="#697b30"/><stop offset="0.4644" stop-color="#637a2f"/><stop offset="0.4928" stop-color="#467830"/><stop offset="0.5198" stop-color="#467830"/><stop offset="0.5475" stop-color="#667a30"/><stop offset="0.5788" stop-color="#997944"/><stop offset="0.6021" stop-color="#ae7956"/><stop offset="0.6284" stop-color="#b3795b"/><stop offset="0.6648" stop-color="#9f7948"/><stop offset="0.6954" stop-color="#787b34"/><stop offset="0.7253" stop-color="#3f7632"/><stop offset="0.7501" stop-color="#1b6145"/><stop offset="0.7778" stop-color="#163b4e"/><stop offset="0.8113" stop-color="#1a1835"/><stop offset="0.8471" stop-color="#120a17"/><stop offset="0.8981" stop-color="#0a0a0a"/><stop offset="0.9994" stop-color="#0a0a0a"/></linearGradient>
<linearGradient id="h38" x1="0" y1="0" x2="0" y2="1"><stop offset="0.0000" stop-color="#1d6443"/><stop offset="0.1079" stop-color="#195d48"/><stop offset="0.1487" stop-color="#15444f"/><stop offset="0.1786" stop-color="#18314a"/><stop offset="0.2063" stop-color="#163d4e"/><stop offset="0.2325" stop-color="#195e47"/><stop offset="0.2406" stop-color="#2b6f39"/><stop offset="0.2457" stop-color="#4c792f"/><stop offset="0.2500" stop-color="#787b34"/><stop offset="0.2537" stop-color="#a7794f"/><stop offset="0.2573" stop-color="#ce7d8c"/><stop offset="0.2602" stop-color="#d490c6"/><stop offset="0.2624" stop-color="#caabe8"/><stop offset="0.2646" stop-color="#c1ccf3"/><stop offset="0.2668" stop-color="#cbe8f0"/><stop offset="0.2697" stop-color="#f0fbf5"/><stop offset="0.2712" stop-color="#ffffff"/><stop offset="0.2777" stop-color="#ffffff"/><stop offset="0.2799" stop-color="#def4ef"/><stop offset="0.2821" stop-color="#c2d7f3"/><stop offset="0.2836" stop-color="#c6b6ee"/><stop offset="0.2850" stop-color="#d297d2"/><stop offset="0.2865" stop-color="#d381a0"/><stop offset="0.2879" stop-color="#be796a"/><stop offset="0.2894" stop-color="#997944"/><stop offset="0.2909" stop-color="#6f7b31"/><stop offset="0.2930" stop-color="#3f7632"/><stop offset="0.2960" stop-color="#1f6741"/><stop offset="0.3011" stop-color="#15494e"/><stop offset="0.3084" stop-color="#17344c"/><stop offset="0.3302" stop-color="#18314a"/><stop offset="0.3710" stop-color="#163d4e"/><stop offset="0.3966" stop-color="#195e47"/><stop offset="0.4104" stop-color="#337335"/><stop offset="0.4279" stop-color="#697b30"/><stop offset="0.4396" stop-color="#7e7a36"/><stop offset="0.4512" stop-color="#847a38"/><stop offset="0.4702" stop-color="#6f7b31"/><stop offset="0.4928" stop-color="#4e792f"/><stop offset="0.5176" stop-color="#497830"/><stop offset="0.5438" stop-color="#607a2f"/><stop offset="0.5781" stop-color="#8d7a3d"/><stop offset="0.6029" stop-color="#9c7946"/><stop offset="0.6342" stop-color="#967a42"/><stop offset="0.6772" stop-color="#727b32"/><stop offset="0.7166" stop-color="#3a7533"/><stop offset="0.7421" stop-color="#1b6145"/><stop offset="0.7720" stop-color="#163d4e"/><stop offset="0.8077" stop-color="#1a1835"/><stop offset="0.8471" stop-color="#110a15"/><stop offset="0.9061" stop-color="#0a0a0a"/><stop offset="0.9994" stop-color="#0a0a0a"/></linearGradient>
<linearGradient id="h39" x1="0" y1="0" x2="0" y2="1"><stop offset="0.0000" stop-color="#1c6344"/><stop offset="0.1064" stop-color="#195d48"/><stop offset="0.1465" stop-color="#15464e"/><stop offset="0.1771" stop-color="#18314a"/><stop offset="0.2041" stop-color="#163b4e"/><stop offset="0.2304" stop-color="#185b48"/><stop offset="0.2391" stop-color="#286d3b"/><stop offset="0.2457" stop-color="#4e792f"/><stop offset="0.2500" stop-color="#7e7a36"/><stop offset="0.2530" stop-color="#a4794c"/><stop offset="0.2566" stop-color="#cc7c86"/><stop offset="0.2595" stop-color="#d48dc1"/><stop offset="0.2617" stop-color="#cba8e5"/><stop offset="0.2639" stop-color="#c2c8f3"/><stop offset="0.2661" stop-color="#c8e4f0"/><stop offset="0.2690" stop-color="#edfaf4"/><stop offset="0.2704" stop-color="#fdfefe"/><stop offset="0.2777" stop-color="#fdfefe"/><stop offset="0.2799" stop-color="#d7f1ef"/><stop offset="0.2814" stop-color="#c4ddf2"/><stop offset="0.2828" stop-color="#c3bff2"/><stop offset="0.2836" stop-color="#c8afea"/><stop offset="0.2850" stop-color="#d490c6"/><stop offset="0.2865" stop-color="#cf7e8f"/><stop offset="0.2879" stop-color="#b5795e"/><stop offset="0.2894" stop-color="#8d7a3d"/><stop offset="0.2909" stop-color="#667a30"/><stop offset="0.2930" stop-color="#3a7533"/><stop offset="0.2952" stop-color="#206840"/><stop offset="0.2996" stop-color="#154e4d"/><stop offset="0.3069" stop-color="#17364c"/><stop offset="0.3244" stop-color="#182f49"/><stop offset="0.3667" stop-color="#163b4e"/><stop offset="0.3915" stop-color="#195d48"/><stop offset="0.4031" stop-color="#2d7038"/><stop offset="0.4162" stop-color="#5d7a2f"/><stop offset="0.4286" stop-color="#8a7a3b"/><stop offset="0.4418" stop-color="#9f7948"/><stop offset="0.4556" stop-color="#9c7946"/><stop offset="0.4746" stop-color="#7b7a35"/><stop offset="0.4942" stop-color="#5a7a2f"/><stop offset="0.5132" stop-color="#4e792f"/><stop offset="0.5373" stop-color="#5d7a2f"/><stop offset="0.5737" stop-color="#817a37"/><stop offset="0.5948" stop-color="#877a3a"/><stop offset="0.6225" stop-color="#817a37"/><stop offset="0.6772" stop-color="#54792f"/><stop offset="0.7210" stop-color="#236a3e"/><stop offset="0.7508" stop-color="#154b4e"/><stop offset="0.7822" stop-color="#192845"/><stop offset="0.8237" stop-color="#160d21"/><stop offset="0.8682" stop-color="#0c0a0e"/><stop offset="0.9994" stop-color="#0a0a0a"/></linearGradient>
<linearGradient id="h40" x1="0" y1="0" x2="0" y2="1"><stop offset="0.0000" stop-color="#1c6344"/><stop offset="0.1101" stop-color="#185b48"/><stop offset="0.1502" stop-color="#15424e"/><stop offset="0.1786" stop-color="#18314a"/><stop offset="0.2041" stop-color="#163b4e"/><stop offset="0.2296" stop-color="#185b48"/><stop offset="0.2384" stop-color="#286d3b"/><stop offset="0.2449" stop-color="#4e792f"/><stop offset="0.2493" stop-color="#7e7a36"/><stop offset="0.2530" stop-color="#ac7954"/><stop offset="0.2566" stop-color="#d07e93"/><stop offset="0.2595" stop-color="#d392cb"/><stop offset="0.2617" stop-color="#c8afea"/><stop offset="0.2639" stop-color="#c1cff3"/><stop offset="0.2661" stop-color="#cdeaef"/><stop offset="0.2690" stop-color="#f2fbf6"/><stop offset="0.2704" stop-color="#ffffff"/><stop offset="0.2770" stop-color="#ffffff"/><stop offset="0.2792" stop-color="#def4ef"/><stop offset="0.2814" stop-color="#c2d7f3"/><stop offset="0.2828" stop-color="#c6b6ee"/><stop offset="0.2836" stop-color="#cca6e4"/><stop offset="0.2850" stop-color="#d589b8"/><stop offset="0.2865" stop-color="#ca7c83"/><stop offset="0.2879" stop-color="#ac7954"/><stop offset="0.2894" stop-color="#847a38"/><stop offset="0.2909" stop-color="#5d7a2f"/><stop offset="0.2930" stop-color="#337335"/><stop offset="0.2960" stop-color="#1b6145"/><stop offset="0.3018" stop-color="#15424e"/><stop offset="0.3105" stop-color="#18314a"/><stop offset="0.3477" stop-color="#18324b"/><stop offset="0.3740" stop-color="#15464e"/><stop offset="0.3915" stop-color="#1d6443"/><stop offset="0.4024" stop-color="#387434"/><stop offset="0.4141" stop-color="#6f7b31"/><stop offset="0.4272" stop-color="#a4794c"/><stop offset="0.4381" stop-color="#b77961"/><stop offset="0.4527" stop-color="#b77961"/><stop offset="0.4702" stop-color="#9c7946"/><stop offset="0.4877" stop-color="#727b32"/><stop offset="0.5059" stop-color="#5a7a2f"/><stop offset="0.5300" stop-color="#5a7a2f"/><stop offset="0.5686" stop-color="#727b32"/><stop offset="0.5948" stop-color="#727b32"/><stop offset="0.6750" stop-color="#3c7632"/><stop offset="0.7180" stop-color="#1b6145"/><stop offset="0.7552" stop-color="#163b4e"/><stop offset="0.7975" stop-color="#1a1733"/><stop offset="0.8376" stop-color="#110a15"/><stop offset="0.8952" stop-color="#0a0a0a"/><stop offset="0.9994" stop-color="#0a0a0a"/></linearGradient>
<linearGradient id="h41" x1="0" y1="0" x2="0" y2="1"><stop offset="0.0000" stop-color="#1b6145"/><stop offset="0.1079" stop-color="#185b48"/><stop offset="0.1480" stop-color="#15444f"/><stop offset="0.1771" stop-color="#18314a"/><stop offset="0.2041" stop-color="#163b4e"/><stop offset="0.2296" stop-color="#195d48"/><stop offset="0.2384" stop-color="#2a6e3a"/><stop offset="0.2435" stop-color="#467830"/><stop offset="0.2486" stop-color="#7b7a35"/><stop offset="0.2522" stop-color="#a97951"/><stop offset="0.2559" stop-color="#cf7e8f"/><stop offset="0.2588" stop-color="#d391c9"/><stop offset="0.2610" stop-color="#c9ade9"/><stop offset="0.2632" stop-color="#c1cdf3"/><stop offset="0.2653" stop-color="#cbe8f0"/><stop offset="0.2683" stop-color="#f0fbf5"/><stop offset="0.2697" stop-color="#ffffff"/><stop offset="0.2770" stop-color="#fdfefe"/><stop offset="0.2792" stop-color="#d7f1ef"/><stop offset="0.2807" stop-color="#c4dcf2"/><stop offset="0.2821" stop-color="#c4bdf1"/><stop offset="0.2828" stop-color="#c9ade9"/><stop offset="0.2843" stop-color="#d48ec3"/><stop offset="0.2858" stop-color="#ce7d8c"/><stop offset="0.2872" stop-color="#b3795b"/><stop offset="0.2887" stop-color="#8a7a3b"/><stop offset="0.2909" stop-color="#54792f"/><stop offset="0.2930" stop-color="#2d7038"/><stop offset="0.2960" stop-color="#195e47"/><stop offset="0.3025" stop-color="#163f4e"/><stop offset="0.3120" stop-color="#182f49"/><stop offset="0.3521" stop-color="#17344c"/><stop offset="0.3761" stop-color="#154d4e"/><stop offset="0.3907" stop-color="#206840"/><stop offset="0.4017" stop-color="#467830"/><stop offset="0.4111" stop-color="#7b7a35"/><stop offset="0.4206" stop-color="#ac7954"/><stop offset="0.4315" stop-color="#c67a79"/><stop offset="0.4410" stop-color="#cc7c86"/><stop offset="0.4498" stop-color="#cc7c86"/><stop offset="0.4665" stop-color="#b77961"/><stop offset="0.4855" stop-color="#877a3a"/><stop offset="0.5030" stop-color="#667a30"/><stop offset="0.5219" stop-color="#5a7a2f"/><stop offset="0.5701" stop-color="#607a2f"/><stop offset="0.6692" stop-color="#2b6f39"/><stop offset="0.7173" stop-color="#16554b"/><stop offset="0.7552" stop-color="#18314a"/><stop offset="0.8026" stop-color="#181027"/><stop offset="0.8485" stop-color="#0e0a0f"/><stop offset="0.9265" stop-color="#0a0a0a"/><stop offset="0.9994" stop-color="#0a0a0a"/></linearGradient>
<linearGradient id="h42" x1="0" y1="0" x2="0" y2="1"><stop offset="0.0000" stop-color="#1b6145"/><stop offset="0.1115" stop-color="#175a49"/><stop offset="0.1538" stop-color="#163f4e"/><stop offset="0.1779" stop-color="#18314a"/><stop offset="0.2019" stop-color="#16394d"/><stop offset="0.2274" stop-color="#175a49"/><stop offset="0.2376" stop-color="#2a6e3a"/><stop offset="0.2427" stop-color="#467830"/><stop offset="0.2478" stop-color="#7b7a35"/><stop offset="0.2515" stop-color="#a97951"/><stop offset="0.2551" stop-color="#ce7d8c"/><stop offset="0.2581" stop-color="#d490c6"/><stop offset="0.2602" stop-color="#caabe8"/><stop offset="0.2624" stop-color="#c1caf3"/><stop offset="0.2646" stop-color="#cae7f0"/><stop offset="0.2675" stop-color="#effaf4"/><stop offset="0.2690" stop-color="#ffffff"/><stop offset="0.2763" stop-color="#ffffff"/><stop offset="0.2785" stop-color="#dcf3ef"/><stop offset="0.2799" stop-color="#c6e1f1"/><stop offset="0.2814" stop-color="#c2c5f3"/><stop offset="0.2828" stop-color="#cda2e0"/><stop offset="0.2843" stop-color="#d588b5"/><stop offset="0.2858" stop-color="#c87b7c"/><stop offset="0.2872" stop-color="#a97951"/><stop offset="0.2887" stop-color="#7e7a36"/><stop offset="0.2909" stop-color="#497830"/><stop offset="0.2930" stop-color="#2a6e3a"/><stop offset="0.2967" stop-color="#16574b"/><stop offset="0.3033" stop-color="#163b4e"/><stop offset="0.3135" stop-color="#192d48"/><stop offset="0.3499" stop-color="#18324b"/><stop offset="0.3732" stop-color="#154b4e"/><stop offset="0.3878" stop-color="#206840"/><stop offset="0.3958" stop-color="#3a7533"/><stop offset="0.4053" stop-color="#6f7b31"/><stop offset="0.4141" stop-color="#a4794c"/><stop offset="0.4221" stop-color="#c37a73"/><stop offset="0.4294" stop-color="#d07e93"/><stop offset="0.4403" stop-color="#d383a6"/><stop offset="0.4512" stop-color="#d381a0"/><stop offset="0.4644" stop-color="#c87b7c"/><stop offset="0.4797" stop-color="#a4794c"/><stop offset="0.4950" stop-color="#787b34"/><stop offset="0.5125" stop-color="#5d7a2f"/><stop offset="0.5373" stop-color="#51792f"/><stop offset="0.5817" stop-color="#417731"/><stop offset="0.6692" stop-color="#1e6542"/><stop offset="0.7188" stop-color="#15474e"/><stop offset="0.7589" stop-color="#1a2543"/><stop offset="0.8113" stop-color="#150b1d"/><stop offset="0.8595" stop-color="#0b0a0c"/><stop offset="0.9994" stop-color="#0a0a0a"/></linearGradient>
<linearGradient id="h43" x1="0" y1="0" x2="0" y2="1"><stop offset="0.0000" stop-color="#1a6046"/><stop offset="0.1093" stop-color="#175a49"/><stop offset="0.1487" stop-color="#15424e"/><stop offset="0.1764" stop-color="#18314a"/><stop offset="0.1997" stop-color="#17374d"/><stop offset="0.2267" stop-color="#175a49"/><stop offset="0.2369" stop-color="#2a6e3a"/><stop offset="0.2420" stop-color="#467830"/><stop offset="0.2471" stop-color="#7b7a35"/><stop offset="0.2508" stop-color="#a97951"/><stop offset="0.2537" stop-color="#c87b7c"/><stop offset="0.2566" stop-color="#d589b8"/><stop offset="0.2595" stop-color="#caa9e7"/><stop offset="0.2617" stop-color="#c2c8f3"/><stop offset="0.2639" stop-color="#c9e5f0"/><stop offset="0.2668" stop-color="#edfaf4"/><stop offset="0.2683" stop-color="#ffffff"/><stop offset="0.2756" stop-color="#ffffff"/><stop offset="0.2770" stop-color="#effaf4"/><stop offset="0.2792" stop-color="#c9e5f0"/><stop offset="0.2807" stop-color="#c1caf3"/><stop offset="0.2821" stop-color="#cba8e5"/><stop offset="0.2836" stop-color="#d48cbe"/><stop offset="0.2850" stop-color="#cc7c86"/><stop offset="0.2865" stop-color="#ae7956"/><stop offset="0.2879" stop-color="#877a3a"/><stop offset="0.2894" stop-color="#607a2f"/><stop offset="0.2916" stop-color="#357435"/><stop offset="0.2945" stop-color="#1b6145"/><stop offset="0.3011" stop-color="#163f4e"/><stop offset="0.3113" stop-color="#192d48"/><stop offset="0.3455" stop-color="#192d48"/><stop offset="0.3703" stop-color="#15474e"/><stop offset="0.3856" stop-color="#1f6741"/><stop offset="0.3944" stop-color="#3c7632"/><stop offset="0.4031" stop-color="#727b32"/><stop offset="0.4111" stop-color="#a4794c"/><stop offset="0.4177" stop-color="#c37a73"/><stop offset="0.4301" stop-color="#d484a9"/><stop offset="0.4381" stop-color="#d589b8"/><stop offset="0.4483" stop-color="#d588b5"/><stop offset="0.4600" stop-color="#d18099"/><stop offset="0.4731" stop-color="#bc7967"/><stop offset="0.4870" stop-color="#907a3e"/><stop offset="0.5052" stop-color="#607a2f"/><stop offset="0.5278" stop-color="#467830"/><stop offset="0.6065" stop-color="#266c3c"/><stop offset="0.6816" stop-color="#16574b"/><stop offset="0.7319" stop-color="#18324b"/><stop offset="0.7873" stop-color="#191129"/><stop offset="0.8354" stop-color="#0e0a0f"/><stop offset="0.9192" stop-color="#0a0a0a"/><stop offset="0.9994" stop-color="#0a0a0a"/></linearGradient>
<linearGradient id="h44" x1="0" y1="0" x2="0" y2="1"><stop offset="0.0000" stop-color="#195e47"/><stop offset="0.1064" stop-color="#175a49"/><stop offset="0.1465" stop-color="#15444f"/><stop offset="0.1757" stop-color="#18314a"/><stop offset="0.1997" stop-color="#17374d"/><stop offset="0.2260" stop-color="#175a49"/><stop offset="0.2355" stop-color="#286d3b"/><stop offset="0.2413" stop-color="#497830"/><stop offset="0.2464" stop-color="#7e7a36"/><stop offset="0.2500" stop-color="#ac7954"/><stop offset="0.2537" stop-color="#cf7e8f"/><stop offset="0.2566" stop-color="#d391c9"/><stop offset="0.2588" stop-color="#caabe8"/><stop offset="0.2610" stop-color="#c1ccf3"/><stop offset="0.2632" stop-color="#cae7f0"/><stop offset="0.2661" stop-color="#effaf4"/><stop offset="0.2675" stop-color="#ffffff"/><stop offset="0.2756" stop-color="#ffffff"/><stop offset="0.2777" stop-color="#dbf3ef"/><stop offset="0.2792" stop-color="#c6e0f1"/><stop offset="0.2807" stop-color="#c3c1f2"/><stop offset="0.2821" stop-color="#cea1df"/><stop offset="0.2836" stop-color="#d486af"/><stop offset="0.2850" stop-color="#c67a79"/><stop offset="0.2865" stop-color="#a7794f"/><stop offset="0.2879" stop-color="#7e7a36"/><stop offset="0.2901" stop-color="#497830"/><stop offset="0.2923" stop-color="#286d3b"/><stop offset="0.2960" stop-color="#16574b"/><stop offset="0.3033" stop-color="#17374d"/><stop offset="0.3156" stop-color="#192a46"/><stop offset="0.3448" stop-color="#192a46"/><stop offset="0.3689" stop-color="#15474e"/><stop offset="0.3834" stop-color="#1f6741"/><stop offset="0.3922" stop-color="#3c7632"/><stop offset="0.4009" stop-color="#757b33"/><stop offset="0.4075" stop-color="#a1794a"/><stop offset="0.4148" stop-color="#c57a76"/><stop offset="0.4243" stop-color="#d485ac"/><stop offset="0.4330" stop-color="#d490c6"/><stop offset="0.4432" stop-color="#d392cb"/><stop offset="0.4556" stop-color="#d588b5"/><stop offset="0.4695" stop-color="#c97b7f"/><stop offset="0.4818" stop-color="#a4794c"/><stop offset="0.4957" stop-color="#727b32"/><stop offset="0.5110" stop-color="#4c792f"/><stop offset="0.5321" stop-color="#337335"/><stop offset="0.5817" stop-color="#206840"/><stop offset="0.6699" stop-color="#15524c"/><stop offset="0.7253" stop-color="#182f49"/><stop offset="0.7858" stop-color="#180f25"/><stop offset="0.8369" stop-color="#0c0a0e"/><stop offset="0.9994" stop-color="#0a0a0a"/></linearGradient>
<linearGradient id="h45" x1="0" y1="0" x2="0" y2="1"><stop offset="0.0000" stop-color="#195e47"/><stop offset="0.1144" stop-color="#16574b"/><stop offset="0.1589" stop-color="#16394d"/><stop offset="0.1815" stop-color="#18314a"/><stop offset="0.2063" stop-color="#163f4e"/><stop offset="0.2274" stop-color="#1a6046"/><stop offset="0.2355" stop-color="#2f7137"/><stop offset="0.2420" stop-color="#607a2f"/><stop offset="0.2464" stop-color="#937a40"/><stop offset="0.2493" stop-color="#b77961"/><stop offset="0.2530" stop-color="#d381a0"/><stop offset="0.2559" stop-color="#d198d4"/><stop offset="0.2581" stop-color="#c6b6ee"/><stop offset="0.2610" stop-color="#c4ddf2"/><stop offset="0.2639" stop-color="#e2f6f0"/><stop offset="0.2661" stop-color="#ffffff"/><stop offset="0.2756" stop-color="#fdfefe"/><stop offset="0.2777" stop-color="#d6f0ef"/><stop offset="0.2792" stop-color="#c3daf2"/><stop offset="0.2807" stop-color="#c4bcf1"/><stop offset="0.2814" stop-color="#caabe8"/><stop offset="0.2828" stop-color="#d48dc1"/><stop offset="0.2843" stop-color="#ce7d8c"/><stop offset="0.2858" stop-color="#b3795b"/><stop offset="0.2872" stop-color="#8d7a3d"/><stop offset="0.2887" stop-color="#667a30"/><stop offset="0.2909" stop-color="#387434"/><stop offset="0.2930" stop-color="#206840"/><stop offset="0.2974" stop-color="#154d4e"/><stop offset="0.3054" stop-color="#18324b"/><stop offset="0.3251" stop-color="#1a2543"/><stop offset="0.3463" stop-color="#192845"/><stop offset="0.3689" stop-color="#15494e"/><stop offset="0.3827" stop-color="#1f6741"/><stop offset="0.3907" stop-color="#3c7632"/><stop offset="0.3995" stop-color="#757b33"/><stop offset="0.4060" stop-color="#a1794a"/><stop offset="0.4119" stop-color="#c17a70"/><stop offset="0.4206" stop-color="#d383a6"/><stop offset="0.4301" stop-color="#d392cb"/><stop offset="0.4432" stop-color="#d297d2"/><stop offset="0.4541" stop-color="#d48cbe"/><stop offset="0.4687" stop-color="#ca7c83"/><stop offset="0.4804" stop-color="#a7794f"/><stop offset="0.4913" stop-color="#787b34"/><stop offset="0.5059" stop-color="#497830"/><stop offset="0.5263" stop-color="#2b6f39"/><stop offset="0.5701" stop-color="#1c6344"/><stop offset="0.6648" stop-color="#154d4e"/><stop offset="0.7217" stop-color="#192c47"/><stop offset="0.7866" stop-color="#160d21"/><stop offset="0.8412" stop-color="#0b0a0c"/><stop offset="0.9994" stop-color="#0a0a0a"/></linearGradient>
<linearGradient id="h46" x1="0" y1="0" x2="0" y2="1"><stop offset="0.0000" stop-color="#195d48"/><stop offset="0.1108" stop-color="#16574b"/><stop offset="0.1524" stop-color="#163f4e"/><stop offset="0.1801" stop-color="#18314a"/><stop offset="0.2063" stop-color="#16404e"/><stop offset="0.2260" stop-color="#1b6145"/><stop offset="0.2340" stop-color="#337335"/><stop offset="0.2398" stop-color="#607a2f"/><stop offset="0.2442" stop-color="#937a40"/><stop offset="0.2471" stop-color="#b5795e"/><stop offset="0.2508" stop-color="#d2809c"/><stop offset="0.2544" stop-color="#cf9ddb"/><stop offset="0.2573" stop-color="#c2c3f2"/><stop offset="0.2595" stop-color="#c5dff2"/><stop offset="0.2624" stop-color="#e3f6f0"/><stop offset="0.2646" stop-color="#ffffff"/><stop offset="0.2748" stop-color="#ffffff"/><stop offset="0.2763" stop-color="#edfaf4"/><stop offset="0.2785" stop-color="#c7e3f1"/><stop offset="0.2799" stop-color="#c2c6f3"/><stop offset="0.2814" stop-color="#cca4e2"/><stop offset="0.2828" stop-color="#d589b8"/><stop offset="0.2843" stop-color="#ca7c83"/><stop offset="0.2858" stop-color="#ae7956"/><stop offset="0.2872" stop-color="#877a3a"/><stop offset="0.2887" stop-color="#607a2f"/><stop offset="0.2909" stop-color="#357435"/><stop offset="0.2938" stop-color="#1c6344"/><stop offset="0.2996" stop-color="#15424e"/><stop offset="0.3084" stop-color="#192d48"/><stop offset="0.3361" stop-color="#1a213e"/><stop offset="0.3543" stop-color="#182f49"/><stop offset="0.3732" stop-color="#16534c"/><stop offset="0.3842" stop-color="#256b3d"/><stop offset="0.3915" stop-color="#447731"/><stop offset="0.3995" stop-color="#787b34"/><stop offset="0.4068" stop-color="#ac7954"/><stop offset="0.4148" stop-color="#cd7d89"/><stop offset="0.4235" stop-color="#d589b8"/><stop offset="0.4308" stop-color="#d294ce"/><stop offset="0.4425" stop-color="#d297d2"/><stop offset="0.4541" stop-color="#d48abb"/><stop offset="0.4665" stop-color="#cc7c86"/><stop offset="0.4760" stop-color="#b17959"/><stop offset="0.4848" stop-color="#8a7a3b"/><stop offset="0.4972" stop-color="#577a2f"/><stop offset="0.5103" stop-color="#357435"/><stop offset="0.5321" stop-color="#206840"/><stop offset="0.6459" stop-color="#154e4d"/><stop offset="0.7049" stop-color="#18324b"/><stop offset="0.7734" stop-color="#181027"/><stop offset="0.8252" stop-color="#0e0a0f"/><stop offset="0.8981" stop-color="#0a0a0a"/><stop offset="0.9994" stop-color="#0a0a0a"/></linearGradient>
<linearGradient id="h47" x1="0" y1="0" x2="0" y2="1"><stop offset="0.0000" stop-color="#175a49"/><stop offset="0.1123" stop-color="#16554b"/><stop offset="0.1553" stop-color="#163d4e"/><stop offset="0.1808" stop-color="#18324b"/><stop offset="0.2041" stop-color="#16404e"/><stop offset="0.2231" stop-color="#1a6046"/><stop offset="0.2311" stop-color="#317236"/><stop offset="0.2376" stop-color="#637a2f"/><stop offset="0.2420" stop-color="#967a42"/><stop offset="0.2457" stop-color="#be796a"/><stop offset="0.2493" stop-color="#d484a9"/><stop offset="0.2530" stop-color="#cca4e2"/><stop offset="0.2559" stop-color="#c2c8f3"/><stop offset="0.2588" stop-color="#cce9ef"/><stop offset="0.2617" stop-color="#f2fbf6"/><stop offset="0.2632" stop-color="#ffffff"/><stop offset="0.2748" stop-color="#ffffff"/><stop offset="0.2770" stop-color="#d9f2ef"/><stop offset="0.2785" stop-color="#c4ddf2"/><stop offset="0.2799" stop-color="#c3bff2"/><stop offset="0.2814" stop-color="#cf9fdd"/><stop offset="0.2828" stop-color="#d486af"/><stop offset="0.2843" stop-color="#c87b7c"/><stop offset="0.2858" stop-color="#a7794f"/><stop offset="0.2872" stop-color="#817a37"/><stop offset="0.2894" stop-color="#4c792f"/><stop offset="0.2916" stop-color="#2b6f39"/><stop offset="0.2945" stop-color="#195d48"/><stop offset="0.3011" stop-color="#163d4e"/><stop offset="0.3105" stop-color="#192a46"/><stop offset="0.3375" stop-color="#1b1e3b"/><stop offset="0.3543" stop-color="#192d48"/><stop offset="0.3725" stop-color="#15524c"/><stop offset="0.3842" stop-color="#266c3c"/><stop offset="0.3922" stop-color="#4c792f"/><stop offset="0.3995" stop-color="#7e7a36"/><stop offset="0.4060" stop-color="#ac7954"/><stop offset="0.4141" stop-color="#cd7d89"/><stop offset="0.4221" stop-color="#d588b5"/><stop offset="0.4308" stop-color="#d295d0"/><stop offset="0.4439" stop-color="#d295d0"/><stop offset="0.4549" stop-color="#d588b5"/><stop offset="0.4665" stop-color="#c97b7f"/><stop offset="0.4767" stop-color="#a4794c"/><stop offset="0.4877" stop-color="#727b32"/><stop offset="0.5030" stop-color="#3a7533"/><stop offset="0.5205" stop-color="#22693f"/><stop offset="0.5701" stop-color="#17584a"/><stop offset="0.6553" stop-color="#15474e"/><stop offset="0.7144" stop-color="#192845"/><stop offset="0.7822" stop-color="#160c1f"/><stop offset="0.8361" stop-color="#0b0a0c"/><stop offset="0.9994" stop-color="#0a0a0a"/></linearGradient>
<linearGradient id="h48" x1="0" y1="0" x2="0" y2="1"><stop offset="0.0000" stop-color="#17584a"/><stop offset="0.1137" stop-color="#16534c"/><stop offset="0.1786" stop-color="#17344c"/><stop offset="0.2027" stop-color="#15444f"/><stop offset="0.2209" stop-color="#1d6443"/><stop offset="0.2282" stop-color="#337335"/><stop offset="0.2347" stop-color="#667a30"/><stop offset="0.2384" stop-color="#8d7a3d"/><stop offset="0.2420" stop-color="#b5795e"/><stop offset="0.2457" stop-color="#d17f96"/><stop offset="0.2493" stop-color="#d297d2"/><stop offset="0.2522" stop-color="#c5b8ef"/><stop offset="0.2551" stop-color="#c3daf2"/><stop offset="0.2581" stop-color="#dcf3ef"/><stop offset="0.2610" stop-color="#ffffff"/><stop offset="0.2748" stop-color="#fbfefc"/><stop offset="0.2763" stop-color="#def4ef"/><stop offset="0.2777" stop-color="#c6e1f1"/><stop offset="0.2792" stop-color="#c2c5f3"/><stop offset="0.2807" stop-color="#cca4e2"/><stop offset="0.2821" stop-color="#d589b8"/><stop offset="0.2836" stop-color="#ca7c83"/><stop offset="0.2850" stop-color="#ae7956"/><stop offset="0.2865" stop-color="#877a3a"/><stop offset="0.2887" stop-color="#51792f"/><stop offset="0.2909" stop-color="#2f7137"/><stop offset="0.2938" stop-color="#195e47"/><stop offset="0.3003" stop-color="#163d4e"/><stop offset="0.3113" stop-color="#192845"/><stop offset="0.3382" stop-color="#1b1c3a"/><stop offset="0.3557" stop-color="#182f49"/><stop offset="0.3732" stop-color="#16534c"/><stop offset="0.3834" stop-color="#256b3d"/><stop offset="0.3915" stop-color="#497830"/><stop offset="0.3987" stop-color="#7b7a35"/><stop offset="0.4060" stop-color="#ac7954"/><stop offset="0.4133" stop-color="#cc7c86"/><stop offset="0.4221" stop-color="#d588b5"/><stop offset="0.4301" stop-color="#d294ce"/><stop offset="0.4418" stop-color="#d295d0"/><stop offset="0.4527" stop-color="#d589b8"/><stop offset="0.4658" stop-color="#c87b7c"/><stop offset="0.4760" stop-color="#a4794c"/><stop offset="0.4848" stop-color="#787b34"/><stop offset="0.4972" stop-color="#467830"/><stop offset="0.5088" stop-color="#2a6e3a"/><stop offset="0.5321" stop-color="#195e47"/><stop offset="0.6590" stop-color="#16404e"/><stop offset="0.7166" stop-color="#1a2240"/><stop offset="0.7866" stop-color="#130a19"/><stop offset="0.8441" stop-color="#0a0a0a"/><stop offset="0.9994" stop-color="#0a0a0a"/></linearGradient>
<linearGradient id="h49" x1="0" y1="0" x2="0" y2="1"><stop offset="0.0000" stop-color="#16574b"/><stop offset="0.1210" stop-color="#15504d"/><stop offset="0.1750" stop-color="#17374d"/><stop offset="0.1990" stop-color="#15464e"/><stop offset="0.2172" stop-color="#1d6443"/><stop offset="0.2245" stop-color="#337335"/><stop offset="0.2304" stop-color="#5a7a2f"/><stop offset="0.2347" stop-color="#877a3a"/><stop offset="0.2391" stop-color="#b77961"/><stop offset="0.2427" stop-color="#d17f96"/><stop offset="0.2464" stop-color="#d295d0"/><stop offset="0.2493" stop-color="#c7b2ed"/><stop offset="0.2522" stop-color="#c2d6f3"/><stop offset="0.2551" stop-color="#d4efef"/><stop offset="0.2581" stop-color="#fbfefc"/><stop offset="0.2741" stop-color="#ffffff"/><stop offset="0.2756" stop-color="#e2f6f0"/><stop offset="0.2777" stop-color="#c3d9f3"/><stop offset="0.2792" stop-color="#c5b8ef"/><stop offset="0.2807" stop-color="#d198d4"/><stop offset="0.2821" stop-color="#d383a6"/><stop offset="0.2836" stop-color="#c37a73"/><stop offset="0.2850" stop-color="#a1794a"/><stop offset="0.2865" stop-color="#7b7a35"/><stop offset="0.2887" stop-color="#497830"/><stop offset="0.2909" stop-color="#2a6e3a"/><stop offset="0.2938" stop-color="#195d48"/><stop offset="0.3003" stop-color="#163d4e"/><stop offset="0.3105" stop-color="#192845"/><stop offset="0.3382" stop-color="#1b1b38"/><stop offset="0.3557" stop-color="#182f49"/><stop offset="0.3725" stop-color="#16534c"/><stop offset="0.3834" stop-color="#266c3c"/><stop offset="0.3907" stop-color="#467830"/><stop offset="0.3987" stop-color="#7b7a35"/><stop offset="0.4060" stop-color="#ae7956"/><stop offset="0.4133" stop-color="#cc7c86"/><stop offset="0.4228" stop-color="#d589b8"/><stop offset="0.4323" stop-color="#d294ce"/><stop offset="0.4432" stop-color="#d392cb"/><stop offset="0.4527" stop-color="#d487b2"/><stop offset="0.4636" stop-color="#ca7c83"/><stop offset="0.4746" stop-color="#a4794c"/><stop offset="0.4833" stop-color="#787b34"/><stop offset="0.4950" stop-color="#467830"/><stop offset="0.5066" stop-color="#286d3b"/><stop offset="0.5307" stop-color="#175a49"/><stop offset="0.6568" stop-color="#163b4e"/><stop offset="0.7158" stop-color="#1b1e3b"/><stop offset="0.7858" stop-color="#110a15"/><stop offset="0.8478" stop-color="#0a0a0a"/><stop offset="0.9994" stop-color="#0a0a0a"/></linearGradient>
<linearGradient id="h50" x1="0" y1="0" x2="0" y2="1"><stop offset="0.0000" stop-color="#16554b"/><stop offset="0.1232" stop-color="#154e4d"/><stop offset="0.1735" stop-color="#163b4e"/><stop offset="0.1968" stop-color="#154b4e"/><stop offset="0.2143" stop-color="#206840"/><stop offset="0.2216" stop-color="#3a7533"/><stop offset="0.2282" stop-color="#697b30"/><stop offset="0.2333" stop-color="#9c7946"/><stop offset="0.2384" stop-color="#c97b7f"/><stop offset="0.2420" stop-color="#d589b8"/><stop offset="0.2457" stop-color="#cba8e5"/><stop offset="0.2486" stop-color="#c2c8f3"/><stop offset="0.2515" stop-color="#c9e5f0"/><stop offset="0.2544" stop-color="#e9f8f2"/><stop offset="0.2566" stop-color="#ffffff"/><stop offset="0.2734" stop-color="#ffffff"/><stop offset="0.2748" stop-color="#e5f7f1"/><stop offset="0.2770" stop-color="#c3daf2"/><stop offset="0.2785" stop-color="#c4bcf1"/><stop offset="0.2799" stop-color="#d09cd9"/><stop offset="0.2814" stop-color="#d485ac"/><stop offset="0.2828" stop-color="#c67a79"/><stop offset="0.2843" stop-color="#a7794f"/><stop offset="0.2858" stop-color="#817a37"/><stop offset="0.2879" stop-color="#4e792f"/><stop offset="0.2901" stop-color="#2d7038"/><stop offset="0.2930" stop-color="#195e47"/><stop offset="0.2996" stop-color="#163d4e"/><stop offset="0.3113" stop-color="#1a2744"/><stop offset="0.3390" stop-color="#1b1a36"/><stop offset="0.3565" stop-color="#182f49"/><stop offset="0.3725" stop-color="#16534c"/><stop offset="0.3834" stop-color="#266c3c"/><stop offset="0.3922" stop-color="#4e792f"/><stop offset="0.3995" stop-color="#817a37"/><stop offset="0.4075" stop-color="#b5795e"/><stop offset="0.4155" stop-color="#d07e93"/><stop offset="0.4257" stop-color="#d48dc1"/><stop offset="0.4345" stop-color="#d392cb"/><stop offset="0.4439" stop-color="#d490c6"/><stop offset="0.4549" stop-color="#d383a6"/><stop offset="0.4658" stop-color="#c17a70"/><stop offset="0.4767" stop-color="#937a40"/><stop offset="0.4862" stop-color="#637a2f"/><stop offset="0.4993" stop-color="#317236"/><stop offset="0.5154" stop-color="#1b6145"/><stop offset="0.5496" stop-color="#154e4d"/><stop offset="0.6517" stop-color="#17374d"/><stop offset="0.7129" stop-color="#1b1b38"/><stop offset="0.7815" stop-color="#110a15"/><stop offset="0.8376" stop-color="#0a0a0a"/><stop offset="0.9994" stop-color="#0a0a0a"/></linearGradient>
<linearGradient id="h51" x1="0" y1="0" x2="0" y2="1"><stop offset="0.0000" stop-color="#16534c"/><stop offset="0.1276" stop-color="#154d4e"/><stop offset="0.1698" stop-color="#163f4e"/><stop offset="0.1946" stop-color="#15524c"/><stop offset="0.2099" stop-color="#236a3e"/><stop offset="0.2180" stop-color="#3f7632"/><stop offset="0.2253" stop-color="#757b33"/><stop offset="0.2296" stop-color="#9f7948"/><stop offset="0.2333" stop-color="#be796a"/><stop offset="0.2376" stop-color="#d383a6"/><stop offset="0.2420" stop-color="#cea1df"/><stop offset="0.2457" stop-color="#c2c6f3"/><stop offset="0.2486" stop-color="#c7e3f1"/><stop offset="0.2522" stop-color="#edfaf4"/><stop offset="0.2537" stop-color="#ffffff"/><stop offset="0.2726" stop-color="#ffffff"/><stop offset="0.2741" stop-color="#e9f8f2"/><stop offset="0.2756" stop-color="#cce9ef"/><stop offset="0.2770" stop-color="#c1cdf3"/><stop offset="0.2785" stop-color="#c9ade9"/><stop offset="0.2799" stop-color="#d391c9"/><stop offset="0.2814" stop-color="#d17f96"/><stop offset="0.2828" stop-color="#bc7967"/><stop offset="0.2843" stop-color="#997944"/><stop offset="0.2865" stop-color="#637a2f"/><stop offset="0.2887" stop-color="#387434"/><stop offset="0.2916" stop-color="#1d6443"/><stop offset="0.2974" stop-color="#15444f"/><stop offset="0.3091" stop-color="#192845"/><stop offset="0.3375" stop-color="#1a1835"/><stop offset="0.3543" stop-color="#192a46"/><stop offset="0.3703" stop-color="#154e4d"/><stop offset="0.3813" stop-color="#206840"/><stop offset="0.3907" stop-color="#467830"/><stop offset="0.3987" stop-color="#7e7a36"/><stop offset="0.4060" stop-color="#ac7954"/><stop offset="0.4133" stop-color="#ca7c83"/><stop offset="0.4213" stop-color="#d486af"/><stop offset="0.4301" stop-color="#d490c6"/><stop offset="0.4418" stop-color="#d490c6"/><stop offset="0.4520" stop-color="#d485ac"/><stop offset="0.4644" stop-color="#c37a73"/><stop offset="0.4746" stop-color="#997944"/><stop offset="0.4840" stop-color="#697b30"/><stop offset="0.4935" stop-color="#3f7632"/><stop offset="0.5059" stop-color="#22693f"/><stop offset="0.5314" stop-color="#15524c"/><stop offset="0.6502" stop-color="#17344c"/><stop offset="0.7158" stop-color="#1a1733"/><stop offset="0.7800" stop-color="#100a13"/><stop offset="0.8383" stop-color="#0a0a0a"/><stop offset="0.9994" stop-color="#0a0a0a"/></linearGradient>
<linearGradient id="h52" x1="0" y1="0" x2="0" y2="1"><stop offset="0.0000" stop-color="#15524c"/><stop offset="0.1334" stop-color="#154b4e"/><stop offset="0.1684" stop-color="#15464e"/><stop offset="0.1932" stop-color="#185b48"/><stop offset="0.2070" stop-color="#2b6f39"/><stop offset="0.2158" stop-color="#51792f"/><stop offset="0.2231" stop-color="#877a3a"/><stop offset="0.2274" stop-color="#ae7956"/><stop offset="0.2325" stop-color="#cf7e8f"/><stop offset="0.2369" stop-color="#d391c9"/><stop offset="0.2398" stop-color="#caa9e7"/><stop offset="0.2435" stop-color="#c1cff3"/><stop offset="0.2464" stop-color="#cce9ef"/><stop offset="0.2493" stop-color="#ebf9f3"/><stop offset="0.2508" stop-color="#fdfefe"/><stop offset="0.2719" stop-color="#ffffff"/><stop offset="0.2726" stop-color="#fafdfb"/><stop offset="0.2741" stop-color="#d9f2ef"/><stop offset="0.2756" stop-color="#c4ddf2"/><stop offset="0.2770" stop-color="#c3bff2"/><stop offset="0.2785" stop-color="#cf9fdd"/><stop offset="0.2799" stop-color="#d588b5"/><stop offset="0.2814" stop-color="#ca7c83"/><stop offset="0.2828" stop-color="#ae7956"/><stop offset="0.2843" stop-color="#8a7a3b"/><stop offset="0.2865" stop-color="#577a2f"/><stop offset="0.2894" stop-color="#2a6e3a"/><stop offset="0.2930" stop-color="#17584a"/><stop offset="0.3011" stop-color="#17364c"/><stop offset="0.3215" stop-color="#1b1f3d"/><stop offset="0.3397" stop-color="#1b1a36"/><stop offset="0.3572" stop-color="#18314a"/><stop offset="0.3732" stop-color="#16554b"/><stop offset="0.3842" stop-color="#286d3b"/><stop offset="0.3929" stop-color="#51792f"/><stop offset="0.4009" stop-color="#877a3a"/><stop offset="0.4097" stop-color="#b97964"/><stop offset="0.4184" stop-color="#d17f96"/><stop offset="0.4264" stop-color="#d588b5"/><stop offset="0.4359" stop-color="#d48cbe"/><stop offset="0.4454" stop-color="#d588b5"/><stop offset="0.4578" stop-color="#cd7d89"/><stop offset="0.4673" stop-color="#b3795b"/><stop offset="0.4767" stop-color="#847a38"/><stop offset="0.4884" stop-color="#4c792f"/><stop offset="0.5023" stop-color="#256b3d"/><stop offset="0.5234" stop-color="#16554b"/><stop offset="0.5642" stop-color="#15464e"/><stop offset="0.6444" stop-color="#18324b"/><stop offset="0.7158" stop-color="#1a142f"/><stop offset="0.7771" stop-color="#0f0a11"/><stop offset="0.8420" stop-color="#0a0a0a"/><stop offset="0.9994" stop-color="#0a0a0a"/></linearGradient>
<linearGradient id="h53" x1="0" y1="0" x2="0" y2="1"><stop offset="0.0000" stop-color="#15504d"/><stop offset="0.1392" stop-color="#154b4e"/><stop offset="0.1691" stop-color="#154d4e"/><stop offset="0.1946" stop-color="#1f6741"/><stop offset="0.2056" stop-color="#3a7533"/><stop offset="0.2121" stop-color="#577a2f"/><stop offset="0.2194" stop-color="#8a7a3b"/><stop offset="0.2245" stop-color="#b3795b"/><stop offset="0.2296" stop-color="#d07e93"/><stop offset="0.2347" stop-color="#d295d0"/><stop offset="0.2384" stop-color="#c6b4ee"/><stop offset="0.2420" stop-color="#c2d7f3"/><stop offset="0.2449" stop-color="#d3eeef"/><stop offset="0.2478" stop-color="#f4fcf7"/><stop offset="0.2493" stop-color="#ffffff"/><stop offset="0.2719" stop-color="#ffffff"/><stop offset="0.2734" stop-color="#e2f6f0"/><stop offset="0.2748" stop-color="#c8e4f0"/><stop offset="0.2763" stop-color="#c2c8f3"/><stop offset="0.2777" stop-color="#cba8e5"/><stop offset="0.2792" stop-color="#d48dc1"/><stop offset="0.2807" stop-color="#cf7e8f"/><stop offset="0.2828" stop-color="#a97951"/><stop offset="0.2843" stop-color="#847a38"/><stop offset="0.2865" stop-color="#51792f"/><stop offset="0.2894" stop-color="#286d3b"/><stop offset="0.2938" stop-color="#16534c"/><stop offset="0.3018" stop-color="#17344c"/><stop offset="0.3244" stop-color="#1b1e3b"/><stop offset="0.3412" stop-color="#1b1b38"/><stop offset="0.3594" stop-color="#17364c"/><stop offset="0.3754" stop-color="#175a49"/><stop offset="0.3856" stop-color="#2b6f39"/><stop offset="0.3951" stop-color="#5a7a2f"/><stop offset="0.4031" stop-color="#8d7a3d"/><stop offset="0.4097" stop-color="#b3795b"/><stop offset="0.4177" stop-color="#cc7c86"/><stop offset="0.4264" stop-color="#d484a9"/><stop offset="0.4367" stop-color="#d487b2"/><stop offset="0.4447" stop-color="#d484a9"/><stop offset="0.4556" stop-color="#cc7c86"/><stop offset="0.4658" stop-color="#b17959"/><stop offset="0.4753" stop-color="#847a38"/><stop offset="0.4862" stop-color="#4e792f"/><stop offset="0.5001" stop-color="#266c3c"/><stop offset="0.5183" stop-color="#16574b"/><stop offset="0.5518" stop-color="#15464e"/><stop offset="0.6422" stop-color="#182f49"/><stop offset="0.7348" stop-color="#160d21"/><stop offset="0.7990" stop-color="#0b0a0c"/><stop offset="0.9994" stop-color="#0a0a0a"/></linearGradient>
<linearGradient id="h54" x1="0" y1="0" x2="0" y2="1"><stop offset="0.0000" stop-color="#15524c"/><stop offset="0.1640" stop-color="#15504d"/><stop offset="0.1903" stop-color="#206840"/><stop offset="0.2012" stop-color="#387434"/><stop offset="0.2114" stop-color="#697b30"/><stop offset="0.2172" stop-color="#937a40"/><stop offset="0.2231" stop-color="#bc7967"/><stop offset="0.2282" stop-color="#d2809c"/><stop offset="0.2333" stop-color="#d09ad7"/><stop offset="0.2376" stop-color="#c3bff2"/><stop offset="0.2413" stop-color="#c6e0f1"/><stop offset="0.2442" stop-color="#dbf3ef"/><stop offset="0.2471" stop-color="#fdfefe"/><stop offset="0.2719" stop-color="#ffffff"/><stop offset="0.2741" stop-color="#d4efef"/><stop offset="0.2756" stop-color="#c3d9f3"/><stop offset="0.2770" stop-color="#c5baf0"/><stop offset="0.2785" stop-color="#d09cd9"/><stop offset="0.2799" stop-color="#d486af"/><stop offset="0.2814" stop-color="#c97b7f"/><stop offset="0.2821" stop-color="#bc7967"/><stop offset="0.2843" stop-color="#8a7a3b"/><stop offset="0.2865" stop-color="#577a2f"/><stop offset="0.2887" stop-color="#337335"/><stop offset="0.2916" stop-color="#1c6344"/><stop offset="0.2981" stop-color="#16404e"/><stop offset="0.3091" stop-color="#192a46"/><stop offset="0.3361" stop-color="#1b1b38"/><stop offset="0.3506" stop-color="#1a2744"/><stop offset="0.3689" stop-color="#154b4e"/><stop offset="0.3827" stop-color="#22693f"/><stop offset="0.3915" stop-color="#417731"/><stop offset="0.4002" stop-color="#757b33"/><stop offset="0.4082" stop-color="#a4794c"/><stop offset="0.4162" stop-color="#c37a73"/><stop offset="0.4257" stop-color="#d18099"/><stop offset="0.4345" stop-color="#d382a3"/><stop offset="0.4425" stop-color="#d381a0"/><stop offset="0.4541" stop-color="#c87b7c"/><stop offset="0.4644" stop-color="#ac7954"/><stop offset="0.4760" stop-color="#757b33"/><stop offset="0.4891" stop-color="#3c7632"/><stop offset="0.5008" stop-color="#206840"/><stop offset="0.5256" stop-color="#154e4d"/><stop offset="0.5613" stop-color="#16404e"/><stop offset="0.6502" stop-color="#1a2744"/><stop offset="0.7392" stop-color="#140a1b"/><stop offset="0.8048" stop-color="#0a0a0a"/><stop offset="0.9994" stop-color="#0a0a0a"/></linearGradient>
<linearGradient id="h55" x1="0" y1="0" x2="0" y2="1"><stop offset="0.0000" stop-color="#15524c"/><stop offset="0.1553" stop-color="#15524c"/><stop offset="0.1844" stop-color="#206840"/><stop offset="0.1961" stop-color="#387434"/><stop offset="0.2063" stop-color="#607a2f"/><stop offset="0.2136" stop-color="#8d7a3d"/><stop offset="0.2201" stop-color="#b97964"/><stop offset="0.2260" stop-color="#d2809c"/><stop offset="0.2318" stop-color="#cf9ddb"/><stop offset="0.2362" stop-color="#c3c1f2"/><stop offset="0.2398" stop-color="#c6e0f1"/><stop offset="0.2427" stop-color="#dbf3ef"/><stop offset="0.2464" stop-color="#ffffff"/><stop offset="0.2719" stop-color="#ffffff"/><stop offset="0.2741" stop-color="#d6f0ef"/><stop offset="0.2756" stop-color="#c3daf2"/><stop offset="0.2770" stop-color="#c4bdf1"/><stop offset="0.2785" stop-color="#cf9fdd"/><stop offset="0.2807" stop-color="#d2809c"/><stop offset="0.2828" stop-color="#b17959"/><stop offset="0.2843" stop-color="#8d7a3d"/><stop offset="0.2865" stop-color="#5d7a2f"/><stop offset="0.2894" stop-color="#2d7038"/><stop offset="0.2930" stop-color="#185b48"/><stop offset="0.3011" stop-color="#16394d"/><stop offset="0.3135" stop-color="#1a2744"/><stop offset="0.3382" stop-color="#1b1b38"/><stop offset="0.3565" stop-color="#18314a"/><stop offset="0.3740" stop-color="#16554b"/><stop offset="0.3856" stop-color="#266c3c"/><stop offset="0.3944" stop-color="#497830"/><stop offset="0.4038" stop-color="#7e7a36"/><stop offset="0.4119" stop-color="#a97951"/><stop offset="0.4221" stop-color="#c67a79"/><stop offset="0.4308" stop-color="#ce7d8c"/><stop offset="0.4410" stop-color="#ce7d8c"/><stop offset="0.4512" stop-color="#c37a73"/><stop offset="0.4629" stop-color="#a4794c"/><stop offset="0.4746" stop-color="#6f7b31"/><stop offset="0.4884" stop-color="#357435"/><stop offset="0.5030" stop-color="#1b6145"/><stop offset="0.5321" stop-color="#15464e"/><stop offset="0.6342" stop-color="#192845"/><stop offset="0.7275" stop-color="#150b1d"/><stop offset="0.7946" stop-color="#0a0a0a"/><stop offset="0.9994" stop-color="#0a0a0a"/></linearGradient>
<linearGradient id="h56" x1="0" y1="0" x2="0" y2="1"><stop offset="0.0000" stop-color="#15524c"/><stop offset="0.1465" stop-color="#16534c"/><stop offset="0.1786" stop-color="#22693f"/><stop offset="0.1924" stop-color="#3c7632"/><stop offset="0.2034" stop-color="#667a30"/><stop offset="0.2121" stop-color="#997944"/><stop offset="0.2187" stop-color="#bf796d"/><stop offset="0.2253" stop-color="#d485ac"/><stop offset="0.2311" stop-color="#cca4e2"/><stop offset="0.2355" stop-color="#c2c8f3"/><stop offset="0.2391" stop-color="#c9e5f0"/><stop offset="0.2427" stop-color="#ebf9f3"/><stop offset="0.2449" stop-color="#ffffff"/><stop offset="0.2719" stop-color="#ffffff"/><stop offset="0.2734" stop-color="#e5f7f1"/><stop offset="0.2756" stop-color="#c4dcf2"/><stop offset="0.2770" stop-color="#c3bff2"/><stop offset="0.2785" stop-color="#cea1df"/><stop offset="0.2807" stop-color="#d381a0"/><stop offset="0.2821" stop-color="#c37a73"/><stop offset="0.2836" stop-color="#a4794c"/><stop offset="0.2858" stop-color="#727b32"/><stop offset="0.2879" stop-color="#447731"/><stop offset="0.2909" stop-color="#236a3e"/><stop offset="0.2960" stop-color="#154e4d"/><stop offset="0.3040" stop-color="#17344c"/><stop offset="0.3251" stop-color="#1b1f3d"/><stop offset="0.3441" stop-color="#1b1f3d"/><stop offset="0.3659" stop-color="#15424e"/><stop offset="0.3827" stop-color="#1e6542"/><stop offset="0.3922" stop-color="#387434"/><stop offset="0.4031" stop-color="#6f7b31"/><stop offset="0.4148" stop-color="#a7794f"/><stop offset="0.4264" stop-color="#c17a70"/><stop offset="0.4367" stop-color="#c57a76"/><stop offset="0.4439" stop-color="#c17a70"/><stop offset="0.4563" stop-color="#a97951"/><stop offset="0.4680" stop-color="#7b7a35"/><stop offset="0.4818" stop-color="#417731"/><stop offset="0.4972" stop-color="#1e6542"/><stop offset="0.5241" stop-color="#15474e"/><stop offset="0.5781" stop-color="#17364c"/><stop offset="0.6502" stop-color="#1b1e3b"/><stop offset="0.7341" stop-color="#120a17"/><stop offset="0.7931" stop-color="#0a0a0a"/><stop offset="0.9994" stop-color="#0a0a0a"/></linearGradient>
<linearGradient id="h57" x1="0" y1="0" x2="0" y2="1"><stop offset="0.0000" stop-color="#16534c"/><stop offset="0.1370" stop-color="#16554b"/><stop offset="0.1698" stop-color="#236a3e"/><stop offset="0.1859" stop-color="#3f7632"/><stop offset="0.2005" stop-color="#757b33"/><stop offset="0.2085" stop-color="#9f7948"/><stop offset="0.2158" stop-color="#c37a73"/><stop offset="0.2231" stop-color="#d487b2"/><stop offset="0.2296" stop-color="#caa9e7"/><stop offset="0.2347" stop-color="#c1d1f3"/><stop offset="0.2384" stop-color="#cfebef"/><stop offset="0.2420" stop-color="#f4fcf7"/><stop offset="0.2442" stop-color="#ffffff"/><stop offset="0.2719" stop-color="#ffffff"/><stop offset="0.2734" stop-color="#e7f8f1"/><stop offset="0.2748" stop-color="#cce9ef"/><stop offset="0.2763" stop-color="#c1d1f3"/><stop offset="0.2777" stop-color="#c7b2ed"/><stop offset="0.2799" stop-color="#d48cbe"/><stop offset="0.2821" stop-color="#c67a79"/><stop offset="0.2836" stop-color="#a97951"/><stop offset="0.2858" stop-color="#757b33"/><stop offset="0.2887" stop-color="#3f7632"/><stop offset="0.2909" stop-color="#266c3c"/><stop offset="0.2952" stop-color="#16534c"/><stop offset="0.3033" stop-color="#17364c"/><stop offset="0.3244" stop-color="#1a213e"/><stop offset="0.3441" stop-color="#1a213e"/><stop offset="0.3674" stop-color="#15464e"/><stop offset="0.3842" stop-color="#1e6542"/><stop offset="0.3966" stop-color="#417731"/><stop offset="0.4090" stop-color="#7b7a35"/><stop offset="0.4213" stop-color="#a97951"/><stop offset="0.4352" stop-color="#b77961"/><stop offset="0.4476" stop-color="#ac7954"/><stop offset="0.4600" stop-color="#8a7a3b"/><stop offset="0.4738" stop-color="#54792f"/><stop offset="0.4877" stop-color="#2a6e3a"/><stop offset="0.5037" stop-color="#17584a"/><stop offset="0.5351" stop-color="#163f4e"/><stop offset="0.6240" stop-color="#1a2441"/><stop offset="0.7158" stop-color="#130a19"/><stop offset="0.7829" stop-color="#0a0a0a"/><stop offset="0.9994" stop-color="#0a0a0a"/></linearGradient>
<linearGradient id="h58" x1="0" y1="0" x2="0" y2="1"><stop offset="0.0000" stop-color="#16534c"/><stop offset="0.1239" stop-color="#16574b"/><stop offset="0.1575" stop-color="#256b3d"/><stop offset="0.1750" stop-color="#417731"/><stop offset="0.1903" stop-color="#727b32"/><stop offset="0.2012" stop-color="#a1794a"/><stop offset="0.2099" stop-color="#c37a73"/><stop offset="0.2187" stop-color="#d486af"/><stop offset="0.2267" stop-color="#cba8e5"/><stop offset="0.2318" stop-color="#c1ccf3"/><stop offset="0.2362" stop-color="#cce9ef"/><stop offset="0.2398" stop-color="#edfaf4"/><stop offset="0.2413" stop-color="#fdfefe"/><stop offset="0.2719" stop-color="#ffffff"/><stop offset="0.2726" stop-color="#fafdfb"/><stop offset="0.2741" stop-color="#dbf3ef"/><stop offset="0.2756" stop-color="#c5dff2"/><stop offset="0.2777" stop-color="#c6b4ee"/><stop offset="0.2792" stop-color="#d198d4"/><stop offset="0.2814" stop-color="#d17f96"/><stop offset="0.2836" stop-color="#ae7956"/><stop offset="0.2858" stop-color="#7b7a35"/><stop offset="0.2879" stop-color="#4e792f"/><stop offset="0.2909" stop-color="#286d3b"/><stop offset="0.2952" stop-color="#16554b"/><stop offset="0.3047" stop-color="#17344c"/><stop offset="0.3280" stop-color="#1a2240"/><stop offset="0.3455" stop-color="#1a2543"/><stop offset="0.3703" stop-color="#15494e"/><stop offset="0.3864" stop-color="#1f6741"/><stop offset="0.3980" stop-color="#3c7632"/><stop offset="0.4119" stop-color="#757b33"/><stop offset="0.4235" stop-color="#997944"/><stop offset="0.4345" stop-color="#a1794a"/><stop offset="0.4461" stop-color="#997944"/><stop offset="0.4607" stop-color="#727b32"/><stop offset="0.4775" stop-color="#3a7533"/><stop offset="0.4899" stop-color="#1f6741"/><stop offset="0.5147" stop-color="#15494e"/><stop offset="0.5533" stop-color="#17364c"/><stop offset="0.6284" stop-color="#1b1e3b"/><stop offset="0.7122" stop-color="#120a17"/><stop offset="0.7734" stop-color="#0a0a0a"/><stop offset="0.9994" stop-color="#0a0a0a"/></linearGradient>
<linearGradient id="h59" x1="0" y1="0" x2="0" y2="1"><stop offset="0.0000" stop-color="#16554b"/><stop offset="0.1166" stop-color="#17584a"/><stop offset="0.1480" stop-color="#256b3d"/><stop offset="0.1669" stop-color="#447731"/><stop offset="0.1822" stop-color="#727b32"/><stop offset="0.1946" stop-color="#a1794a"/><stop offset="0.2078" stop-color="#c97b7f"/><stop offset="0.2187" stop-color="#d48dc1"/><stop offset="0.2274" stop-color="#c6b4ee"/><stop offset="0.2333" stop-color="#c4dcf2"/><stop offset="0.2376" stop-color="#def4ef"/><stop offset="0.2406" stop-color="#fdfefe"/><stop offset="0.2726" stop-color="#ffffff"/><stop offset="0.2741" stop-color="#e0f5f0"/><stop offset="0.2763" stop-color="#c3d9f3"/><stop offset="0.2785" stop-color="#c8afea"/><stop offset="0.2799" stop-color="#d294ce"/><stop offset="0.2821" stop-color="#ce7d8c"/><stop offset="0.2836" stop-color="#b97964"/><stop offset="0.2850" stop-color="#997944"/><stop offset="0.2872" stop-color="#697b30"/><stop offset="0.2901" stop-color="#357435"/><stop offset="0.2938" stop-color="#1b6145"/><stop offset="0.3011" stop-color="#16404e"/><stop offset="0.3113" stop-color="#192d48"/><stop offset="0.3368" stop-color="#1a2441"/><stop offset="0.3601" stop-color="#16394d"/><stop offset="0.3827" stop-color="#195d48"/><stop offset="0.3958" stop-color="#2d7038"/><stop offset="0.4141" stop-color="#667a30"/><stop offset="0.4243" stop-color="#817a37"/><stop offset="0.4352" stop-color="#8a7a3b"/><stop offset="0.4483" stop-color="#7b7a35"/><stop offset="0.4695" stop-color="#417731"/><stop offset="0.4848" stop-color="#206840"/><stop offset="0.5088" stop-color="#154b4e"/><stop offset="0.5424" stop-color="#17364c"/><stop offset="0.6167" stop-color="#1b1e3b"/><stop offset="0.7005" stop-color="#120a17"/><stop offset="0.7632" stop-color="#0a0a0a"/><stop offset="0.9994" stop-color="#0a0a0a"/></linearGradient>
<linearGradient id="h60" x1="0" y1="0" x2="0" y2="1"><stop offset="0.0000" stop-color="#16574b"/><stop offset="0.1064" stop-color="#185b48"/><stop offset="0.1349" stop-color="#266c3c"/><stop offset="0.1553" stop-color="#497830"/><stop offset="0.1698" stop-color="#757b33"/><stop offset="0.1822" stop-color="#a1794a"/><stop offset="0.1983" stop-color="#ca7c83"/><stop offset="0.2143" stop-color="#d48ec3"/><stop offset="0.2238" stop-color="#c8afea"/><stop offset="0.2311" stop-color="#c2d7f3"/><stop offset="0.2347" stop-color="#d0ecef"/><stop offset="0.2384" stop-color="#f0fbf5"/><stop offset="0.2398" stop-color="#ffffff"/><stop offset="0.2726" stop-color="#ffffff"/><stop offset="0.2734" stop-color="#f8fdfa"/><stop offset="0.2748" stop-color="#d9f2ef"/><stop offset="0.2770" stop-color="#c2d4f3"/><stop offset="0.2792" stop-color="#caa9e7"/><stop offset="0.2814" stop-color="#d487b2"/><stop offset="0.2836" stop-color="#c37a73"/><stop offset="0.2850" stop-color="#a7794f"/><stop offset="0.2872" stop-color="#757b33"/><stop offset="0.2901" stop-color="#3f7632"/><stop offset="0.2930" stop-color="#22693f"/><stop offset="0.2989" stop-color="#154b4e"/><stop offset="0.3105" stop-color="#182f49"/><stop offset="0.3397" stop-color="#192845"/><stop offset="0.3703" stop-color="#15474e"/><stop offset="0.3907" stop-color="#1f6741"/><stop offset="0.4053" stop-color="#3f7632"/><stop offset="0.4235" stop-color="#6c7b31"/><stop offset="0.4359" stop-color="#727b32"/><stop offset="0.4469" stop-color="#697b30"/><stop offset="0.4702" stop-color="#337335"/><stop offset="0.4870" stop-color="#1a6046"/><stop offset="0.5190" stop-color="#163f4e"/><stop offset="0.6043" stop-color="#1b1e3b"/><stop offset="0.6903" stop-color="#120a17"/><stop offset="0.7530" stop-color="#0a0a0a"/><stop offset="0.9994" stop-color="#0a0a0a"/></linearGradient>
<linearGradient id="h61" x1="0" y1="0" x2="0" y2="1"><stop offset="0.0000" stop-color="#17584a"/><stop offset="0.0970" stop-color="#195d48"/><stop offset="0.1254" stop-color="#286d3b"/><stop offset="0.1451" stop-color="#497830"/><stop offset="0.1596" stop-color="#757b33"/><stop offset="0.1720" stop-color="#a1794a"/><stop offset="0.1873" stop-color="#c97b7f"/><stop offset="0.2063" stop-color="#d48abb"/><stop offset="0.2194" stop-color="#cca4e2"/><stop offset="0.2282" stop-color="#c1ccf3"/><stop offset="0.2333" stop-color="#cbe8f0"/><stop offset="0.2376" stop-color="#effaf4"/><stop offset="0.2398" stop-color="#ffffff"/><stop offset="0.2734" stop-color="#fdfefe"/><stop offset="0.2748" stop-color="#e0f5f0"/><stop offset="0.2770" stop-color="#c3daf2"/><stop offset="0.2792" stop-color="#c7b2ed"/><stop offset="0.2807" stop-color="#d297d2"/><stop offset="0.2828" stop-color="#d17f96"/><stop offset="0.2850" stop-color="#b3795b"/><stop offset="0.2872" stop-color="#847a38"/><stop offset="0.2894" stop-color="#577a2f"/><stop offset="0.2923" stop-color="#2d7038"/><stop offset="0.2960" stop-color="#195e47"/><stop offset="0.3040" stop-color="#163d4e"/><stop offset="0.3171" stop-color="#192d48"/><stop offset="0.3441" stop-color="#192d48"/><stop offset="0.3791" stop-color="#15524c"/><stop offset="0.3973" stop-color="#256b3d"/><stop offset="0.4221" stop-color="#54792f"/><stop offset="0.4308" stop-color="#5d7a2f"/><stop offset="0.4432" stop-color="#5a7a2f"/><stop offset="0.4702" stop-color="#2a6e3a"/><stop offset="0.4899" stop-color="#16574b"/><stop offset="0.5234" stop-color="#17374d"/><stop offset="0.6036" stop-color="#1b1a36"/><stop offset="0.6860" stop-color="#110a15"/><stop offset="0.7450" stop-color="#0a0a0a"/><stop offset="0.9994" stop-color="#0a0a0a"/></linearGradient>
<linearGradient id="h62" x1="0" y1="0" x2="0" y2="1"><stop offset="0.0000" stop-color="#17584a"/><stop offset="0.0889" stop-color="#195e47"/><stop offset="0.1174" stop-color="#2a6e3a"/><stop offset="0.1356" stop-color="#497830"/><stop offset="0.1531" stop-color="#7e7a36"/><stop offset="0.1677" stop-color="#b17959"/><stop offset="0.1815" stop-color="#ce7d8c"/><stop offset="0.1983" stop-color="#d48abb"/><stop offset="0.2172" stop-color="#cca4e2"/><stop offset="0.2274" stop-color="#c1caf3"/><stop offset="0.2333" stop-color="#cce9ef"/><stop offset="0.2376" stop-color="#f0fbf5"/><stop offset="0.2391" stop-color="#ffffff"/><stop offset="0.2734" stop-color="#ffffff"/><stop offset="0.2756" stop-color="#d9f2ef"/><stop offset="0.2777" stop-color="#c2d6f3"/><stop offset="0.2799" stop-color="#c9ade9"/><stop offset="0.2821" stop-color="#d48abb"/><stop offset="0.2843" stop-color="#c87b7c"/><stop offset="0.2865" stop-color="#a1794a"/><stop offset="0.2887" stop-color="#727b32"/><stop offset="0.2916" stop-color="#3f7632"/><stop offset="0.2952" stop-color="#1f6741"/><stop offset="0.3011" stop-color="#154b4e"/><stop offset="0.3113" stop-color="#18324b"/><stop offset="0.3382" stop-color="#182f49"/><stop offset="0.3725" stop-color="#15494e"/><stop offset="0.3944" stop-color="#1f6741"/><stop offset="0.4199" stop-color="#4c792f"/><stop offset="0.4345" stop-color="#577a2f"/><stop offset="0.4512" stop-color="#467830"/><stop offset="0.4767" stop-color="#1e6542"/><stop offset="0.5037" stop-color="#15464e"/><stop offset="0.5394" stop-color="#192d48"/><stop offset="0.6422" stop-color="#160d21"/><stop offset="0.7202" stop-color="#0a0a0a"/><stop offset="0.9994" stop-color="#0a0a0a"/></linearGradient>
<linearGradient id="h63" x1="0" y1="0" x2="0" y2="1"><stop offset="0.0000" stop-color="#175a49"/><stop offset="0.0816" stop-color="#1a6046"/><stop offset="0.1108" stop-color="#2b6f39"/><stop offset="0.1290" stop-color="#4c792f"/><stop offset="0.1451" stop-color="#7e7a36"/><stop offset="0.1589" stop-color="#ae7956"/><stop offset="0.1720" stop-color="#cc7c86"/><stop offset="0.1859" stop-color="#d487b2"/><stop offset="0.2063" stop-color="#d198d4"/><stop offset="0.2194" stop-color="#c9ade9"/><stop offset="0.2289" stop-color="#c1d1f3"/><stop offset="0.2340" stop-color="#d0ecef"/><stop offset="0.2384" stop-color="#f6fcf8"/><stop offset="0.2391" stop-color="#ffffff"/><stop offset="0.2741" stop-color="#fdfefe"/><stop offset="0.2756" stop-color="#e0f5f0"/><stop offset="0.2777" stop-color="#c4dcf2"/><stop offset="0.2799" stop-color="#c6b6ee"/><stop offset="0.2821" stop-color="#d391c9"/><stop offset="0.2843" stop-color="#ce7d8c"/><stop offset="0.2865" stop-color="#ae7956"/><stop offset="0.2887" stop-color="#817a37"/><stop offset="0.2909" stop-color="#577a2f"/><stop offset="0.2930" stop-color="#357435"/><stop offset="0.2967" stop-color="#1c6344"/><stop offset="0.3047" stop-color="#15424e"/><stop offset="0.3156" stop-color="#18324b"/><stop offset="0.3463" stop-color="#17364c"/><stop offset="0.3805" stop-color="#16534c"/><stop offset="0.4024" stop-color="#286d3b"/><stop offset="0.4243" stop-color="#497830"/><stop offset="0.4352" stop-color="#4e792f"/><stop offset="0.4556" stop-color="#387434"/><stop offset="0.4797" stop-color="#195e47"/><stop offset="0.5117" stop-color="#163b4e"/><stop offset="0.5693" stop-color="#1b1e3b"/><stop offset="0.6553" stop-color="#120a17"/><stop offset="0.7202" stop-color="#0a0a0a"/><stop offset="0.9994" stop-color="#0a0a0a"/></linearGradient>
<linearGradient id="cbar" x1="0" y1="0" x2="1" y2="0"><stop offset="0.000" stop-color="#000000"/><stop offset="0.025" stop-color="#0a030a"/><stop offset="0.050" stop-color="#110815"/><stop offset="0.075" stop-color="#170e23"/><stop offset="0.100" stop-color="#1a142f"/><stop offset="0.125" stop-color="#1b1e3b"/><stop offset="0.150" stop-color="#1a2744"/><stop offset="0.175" stop-color="#18314a"/><stop offset="0.200" stop-color="#163d4e"/><stop offset="0.225" stop-color="#15474e"/><stop offset="0.250" stop-color="#16534c"/><stop offset="0.275" stop-color="#195d48"/><stop offset="0.300" stop-color="#1e6542"/><stop offset="0.325" stop-color="#286d3b"/><stop offset="0.350" stop-color="#337335"/><stop offset="0.375" stop-color="#447731"/><stop offset="0.400" stop-color="#54792f"/><stop offset="0.425" stop-color="#667a30"/><stop offset="0.450" stop-color="#7b7a35"/><stop offset="0.475" stop-color="#8d7a3d"/><stop offset="0.500" stop-color="#a1794a"/><stop offset="0.525" stop-color="#b17959"/><stop offset="0.550" stop-color="#be796a"/><stop offset="0.575" stop-color="#c97b7f"/><stop offset="0.600" stop-color="#d07e93"/><stop offset="0.625" stop-color="#d484a9"/><stop offset="0.650" stop-color="#d48abb"/><stop offset="0.675" stop-color="#d392cb"/><stop offset="0.700" stop-color="#cf9ddb"/><stop offset="0.725" stop-color="#cba8e5"/><stop offset="0.750" stop-color="#c6b4ee"/><stop offset="0.775" stop-color="#c3bff2"/><stop offset="0.800" stop-color="#c1caf3"/><stop offset="0.825" stop-color="#c2d6f3"/><stop offset="0.850" stop-color="#c5dff2"/><stop offset="0.875" stop-color="#cbe8f0"/><stop offset="0.900" stop-color="#d3eeef"/><stop offset="0.925" stop-color="#dcf3ef"/><stop offset="0.950" stop-color="#e9f8f2"/><stop offset="0.975" stop-color="#f4fcf7"/><stop offset="1.000" stop-color="#ffffff"/></linearGradient>
</defs>
<g id="heat"><rect x="124.30" y="77.30" width="855.80" height="685.90" fill="url(#h0)"/>
<rect x="126.40" y="77.30" width="853.70" height="685.90" fill="url(#h1)"/>
<rect x="128.51" y="77.30" width="851.59" height="685.90" fill="url(#h2)"/>
<rect x="130.86" y="77.30" width="849.24" height="685.90" fill="url(#h3)"/>
<rect x="133.30" y="77.30" width="846.80" height="685.90" fill="url(#h4)"/>
<rect x="135.90" y="77.30" width="844.20" height="685.90" fill="url(#h5)"/>
<rect x="138.32" y="77.30" width="841.78" height="685.90" fill="url(#h6)"/>
<rect x="141.25" y="77.30" width="838.85" height="685.90" fill="url(#h7)"/>
<rect x="143.53" y="77.30" width="836.57" height="685.90" fill="url(#h8)"/>
<rect x="146.13" y="77.30" width="833.97" height="685.90" fill="url(#h9)"/>
<rect x="149.07" y="77.30" width="831.03" height="685.90" fill="url(#h10)"/>
<rect x="152.41" y="77.30" width="827.69" height="685.90" fill="url(#h11)"/>
<rect x="156.20" y="77.30" width="823.90" height="685.90" fill="url(#h12)"/>
<rect x="158.29" y="77.30" width="821.81" height="685.90" fill="url(#h13)"/>
<rect x="160.51" y="77.30" width="819.59" height="685.90" fill="url(#h14)"/>
<rect x="162.87" y="77.30" width="817.23" height="685.90" fill="url(#h15)"/>
<rect x="165.39" y="77.30" width="814.71" height="685.90" fill="url(#h16)"/>
<rect x="168.07" y="77.30" width="812.03" height="685.90" fill="url(#h17)"/>
<rect x="170.93" y="77.30" width="809.17" height="685.90" fill="url(#h18)"/>
<rect x="173.97" y="77.30" width="806.13" height="685.90" fill="url(#h19)"/>
<rect x="177.22" y="77.30" width="802.88" height="685.90" fill="url(#h20)"/>
<rect x="180.67" y="77.30" width="799.43" height="685.90" fill="url(#h21)"/>
<rect x="184.36" y="77.30" width="795.74" height="685.90" fill="url(#h22)"/>
<rect x="188.28" y="77.30" width="791.82" height="685.90" fill="url(#h23)"/>
<rect x="192.45" y="77.30" width="787.65" height="685.90" fill="url(#h24)"/>
<rect x="196.91" y="77.30" width="783.19" height="685.90" fill="url(#h25)"/>
<rect x="201.65" y="77.30" width="778.45" height="685.90" fill="url(#h26)"/>
<rect x="206.70" y="77.30" width="773.40" height="685.90" fill="url(#h27)"/>
<rect x="212.08" y="77.30" width="768.02" height="685.90" fill="url(#h28)"/>
<rect x="217.81" y="77.30" width="762.29" height="685.90" fill="url(#h29)"/>
<rect x="223.92" y="77.30" width="756.18" height="685.90" fill="url(#h30)"/>
<rect x="230.42" y="77.30" width="749.68" height="685.90" fill="url(#h31)"/>
<rect x="237.35" y="77.30" width="742.75" height="685.90" fill="url(#h32)"/>
<rect x="244.73" y="77.30" width="735.37" height="685.90" fill="url(#h33)"/>
<rect x="252.60" y="77.30" width="727.50" height="685.90" fill="url(#h34)"/>
<rect x="260.97" y="77.30" width="719.13" height="685.90" fill="url(#h35)"/>
<rect x="269.90" y="77.30" width="710.20" height="685.90" fill="url(#h36)"/>
<rect x="279.41" y="77.30" width="700.69" height="685.90" fill="url(#h37)"/>
<rect x="289.54" y="77.30" width="690.56" height="685.90" fill="url(#h38)"/>
<rect x="300.32" y="77.30" width="679.78" height="685.90" fill="url(#h39)"/>
<rect x="311.82" y="77.30" width="668.28" height="685.90" fill="url(#h40)"/>
<rect x="324.06" y="77.30" width="656.04" height="685.90" fill="url(#h41)"/>
<rect x="337.11" y="77.30" width="642.99" height="685.90" fill="url(#h42)"/>
<rect x="351.01" y="77.30" width="629.09" height="685.90" fill="url(#h43)"/>
<rect x="365.81" y="77.30" width="614.29" height="685.90" fill="url(#h44)"/>
<rect x="381.58" y="77.30" width="598.52" height="685.90" fill="url(#h45)"/>
<rect x="398.38" y="77.30" width="581.72" height="685.90" fill="url(#h46)"/>
<rect x="416.28" y="77.30" width="563.82" height="685.90" fill="url(#h47)"/>
<rect x="435.34" y="77.30" width="544.76" height="685.90" fill="url(#h48)"/>
<rect x="455.65" y="77.30" width="524.45" height="685.90" fill="url(#h49)"/>
<rect x="477.29" y="77.30" width="502.81" height="685.90" fill="url(#h50)"/>
<rect x="500.34" y="77.30" width="479.76" height="685.90" fill="url(#h51)"/>
<rect x="524.90" y="77.30" width="455.20" height="685.90" fill="url(#h52)"/>
<rect x="551.06" y="77.30" width="429.04" height="685.90" fill="url(#h53)"/>
<rect x="578.92" y="77.30" width="401.18" height="685.90" fill="url(#h54)"/>
<rect x="608.61" y="77.30" width="371.49" height="685.90" fill="url(#h55)"/>
<rect x="640.24" y="77.30" width="339.86" height="685.90" fill="url(#h56)"/>
<rect x="673.93" y="77.30" width="306.17" height="685.90" fill="url(#h57)"/>
<rect x="709.82" y="77.30" width="270.28" height="685.90" fill="url(#h58)"/>
<rect x="748.05" y="77.30" width="232.05" height="685.90" fill="url(#h59)"/>
<rect x="788.78" y="77.30" width="191.32" height="685.90" fill="url(#h60)"/>
<rect x="832.17" y="77.30" width="147.93" height="685.90" fill="url(#h61)"/>
<rect x="878.40" y="77.30" width="101.70" height="685.90" fill="url(#h62)"/>
<rect x="927.64" y="77.30" width="52.46" height="685.90" fill="url(#h63)"/></g>
<line x1="124.3" y1="760.6" x2="980.1" y2="760.6" stroke="#3a3a3a" stroke-width="1.5"/>
<line x1="123.0" y1="152.13" x2="980.1" y2="152.13" stroke="#7a7a7a" stroke-width="2.4" stroke-dasharray="12 12"/>
<line x1="123.0" y1="270.60" x2="980.1" y2="270.60" stroke="#5e5e5e" stroke-width="2.4" stroke-dasharray="12 12"/>
<line x1="123.0" y1="376.60" x2="980.1" y2="376.60" stroke="#6a6a6a" stroke-width="2.4" stroke-dasharray="12 12"/>
<line x1="123.0" y1="663.43" x2="980.1" y2="663.43" stroke="#6c6c6c" stroke-width="2.4" stroke-dasharray="12 12"/>
<text x="448" y="200.3" font-family="'DejaVu Sans', Verdana, sans-serif" font-size="33" fill="#ece9e5">UEp</text>
<text x="492" y="497.5" font-family="'DejaVu Sans', Verdana, sans-serif" font-size="33" fill="#ece9e5">LSp</text>
<text x="961" y="181.8" font-family="'Liberation Sans', Arial, sans-serif" font-size="26" fill="#c4c4c4" text-anchor="end"><tspan font-style="italic">E</tspan>'(LO)</text>
<text x="961" y="304.3" font-family="'Liberation Sans', Arial, sans-serif" font-size="26" fill="#c4c4c4" text-anchor="end"><tspan font-style="italic">A</tspan><tspan font-size="18" dy="8">2</tspan><tspan dy="-8">"(LO)</tspan></text>
<text x="961" y="412.5" font-family="'Liberation Sans', Arial, sans-serif" font-size="26" fill="#c4c4c4" text-anchor="end"><tspan font-style="italic">A</tspan><tspan font-size="18" dy="8">2</tspan><tspan dy="-8">"(TO)</tspan></text>
<text x="961" y="696.2" font-family="'Liberation Sans', Arial, sans-serif" font-size="26" fill="#ababab" text-anchor="end">E'(TO)</text>
<rect x="752.7" y="98.9" width="28.5" height="646" rx="3" fill="none" stroke="#c8c5c2" stroke-width="2.1" stroke-dasharray="6.3 6"/>
<line x1="767" y1="154.5" x2="980" y2="154.5" stroke="#c8c8c8" stroke-width="2"/>
<line x1="980" y1="154.5" x2="1040" y2="154.5" stroke="#a6a6a6" stroke-width="2"/>
<path d="M1066.5,154.5 L1031,144 L1041,154.5 L1031,165 Z" fill="#a6a6a6"/>
<path d="M1113,76 C1100,77 1097,86 1097,100 L1097,132 C1097,146 1090,152 1076.5,154 C1090,156 1097,162 1097,176 L1097,210 C1097,226 1100,234 1113,235" fill="none" stroke="#a8a8a8" stroke-width="1.7"/>
<g stroke="#c8d040" stroke-width="3"><line x1="663.7" y1="375.3" x2="663.7" y2="385.3"/><line x1="686.7" y1="375.3" x2="686.7" y2="385.3"/></g>
<circle cx="148.9" cy="595.5" r="7.6" fill="#a9c846" stroke="#101010" stroke-width="1.4"/>
<circle cx="149.6" cy="601.6" r="7.6" fill="#a9c846" stroke="#101010" stroke-width="1.4"/>
<circle cx="175.9" cy="598.6" r="7.6" fill="#a9c846" stroke="#101010" stroke-width="1.4"/>
<circle cx="163.6" cy="598.6" r="7.6" fill="#a9c846" stroke="#101010" stroke-width="1.4"/>
<circle cx="197.0" cy="601.1" r="7.6" fill="#a9c846" stroke="#101010" stroke-width="1.4"/>
<circle cx="191.6" cy="597.3" r="7.6" fill="#a9c846" stroke="#101010" stroke-width="1.4"/>
<circle cx="185.1" cy="589.9" r="7.6" fill="#a9c846" stroke="#101010" stroke-width="1.4"/>
<circle cx="229.9" cy="510.0" r="7.6" fill="#a9c846" stroke="#101010" stroke-width="1.4"/>
<circle cx="292.0" cy="506.3" r="7.6" fill="#a9c846" stroke="#101010" stroke-width="1.4"/>
<circle cx="295.5" cy="528.7" r="7.6" fill="#a9c846" stroke="#101010" stroke-width="1.4"/>
<circle cx="269.8" cy="545.0" r="7.6" fill="#a9c846" stroke="#101010" stroke-width="1.4"/>
<circle cx="370.8" cy="456.4" r="7.6" fill="#a9c846" stroke="#101010" stroke-width="1.4"/>
<circle cx="448.2" cy="375.9" r="7.6" fill="#a9c846" stroke="#101010" stroke-width="1.4"/>
<circle cx="569.8" cy="401.5" r="7.6" fill="#a9c846" stroke="#101010" stroke-width="1.4"/>
<circle cx="568.8" cy="410.3" r="7.6" fill="#a9c846" stroke="#101010" stroke-width="1.4"/>
<circle cx="675.2" cy="380.3" r="7.6" fill="#a9c846" stroke="#101010" stroke-width="1.4"/>
<circle cx="765.9" cy="424.0" r="7.6" fill="#a9c846" stroke="#101010" stroke-width="1.4"/>
<g stroke="#1c8fd0" stroke-width="2.6"><line x1="270.4" y1="267.5" x2="270.4" y2="286.2"/><line x1="265.4" y1="267.5" x2="275.4" y2="267.5"/><line x1="265.4" y1="286.2" x2="275.4" y2="286.2"/></g>
<rect x="263.7" y="270.1" width="13.4" height="13.4" fill="#1490d2" stroke="#101010" stroke-width="1.5"/>
<g stroke="#1c8fd0" stroke-width="2.6"><line x1="296.0" y1="233.2" x2="296.0" y2="268.1"/><line x1="291.0" y1="233.2" x2="301.0" y2="233.2"/><line x1="291.0" y1="268.1" x2="301.0" y2="268.1"/></g>
<rect x="289.3" y="243.9" width="13.4" height="13.4" fill="#1490d2" stroke="#101010" stroke-width="1.5"/>
<g stroke="#1c8fd0" stroke-width="2.6"><line x1="370.7" y1="236.9" x2="370.7" y2="261.9"/><line x1="365.7" y1="236.9" x2="375.7" y2="236.9"/><line x1="365.7" y1="261.9" x2="375.7" y2="261.9"/></g>
<rect x="364.0" y="242.7" width="13.4" height="13.4" fill="#1490d2" stroke="#101010" stroke-width="1.5"/>
<rect x="442.5" y="248.9" width="13.4" height="13.4" fill="#1490d2" stroke="#101010" stroke-width="1.5"/>
<rect x="563.9" y="252.1" width="13.4" height="13.4" fill="#1490d2" stroke="#101010" stroke-width="1.5"/>
<rect x="562.4" y="249.6" width="13.4" height="13.4" fill="#1490d2" stroke="#101010" stroke-width="1.5"/>
<g stroke="#1c8fd0" stroke-width="2.6"><line x1="665.0" y1="249.4" x2="685.8" y2="249.4"/><line x1="665.0" y1="244.4" x2="665.0" y2="254.4"/><line x1="685.8" y1="244.4" x2="685.8" y2="254.4"/></g>
<rect x="668.7" y="242.7" width="13.4" height="13.4" fill="#1490d2" stroke="#101010" stroke-width="1.5"/>
<rect x="759.6" y="248.3" width="13.4" height="13.4" fill="#1490d2" stroke="#101010" stroke-width="1.5"/>
<rect x="759.6" y="201.5" width="13.4" height="13.4" fill="#1490d2" stroke="#101010" stroke-width="1.5"/>
<rect x="124.3" y="77.3" width="855.8" height="685.9" fill="none" stroke="#000" stroke-width="2.3"/>
<path d="M111.3,763.20H124.3M965.1,763.20H980.1M117.8,732.02H124.3M972.1,732.02H980.1M111.3,700.85H124.3M965.1,700.85H980.1M117.8,669.67H124.3M972.1,669.67H980.1M111.3,638.49H124.3M965.1,638.49H980.1M117.8,607.31H124.3M972.1,607.31H980.1M111.3,576.14H124.3M965.1,576.14H980.1M117.8,544.96H124.3M972.1,544.96H980.1M111.3,513.78H124.3M965.1,513.78H980.1M117.8,482.60H124.3M972.1,482.60H980.1M111.3,451.43H124.3M965.1,451.43H980.1M117.8,420.25H124.3M972.1,420.25H980.1M111.3,389.07H124.3M965.1,389.07H980.1M117.8,357.90H124.3M972.1,357.90H980.1M111.3,326.72H124.3M965.1,326.72H980.1M117.8,295.54H124.3M972.1,295.54H980.1M111.3,264.36H124.3M965.1,264.36H980.1M117.8,233.19H124.3M972.1,233.19H980.1M111.3,202.01H124.3M965.1,202.01H980.1M117.8,170.83H124.3M972.1,170.83H980.1M111.3,139.65H124.3M965.1,139.65H980.1M117.8,108.48H124.3M972.1,108.48H980.1M111.3,77.30H124.3M965.1,77.30H980.1M124.30,763.2V778.2M124.30,77.3V91.8M209.88,763.2V771.2M209.88,77.3V85.3M295.46,763.2V778.2M295.46,77.3V91.8M381.04,763.2V771.2M381.04,77.3V85.3M466.62,763.2V778.2M466.62,77.3V91.8M552.20,763.2V771.2M552.20,77.3V85.3M637.78,763.2V778.2M637.78,77.3V91.8M723.36,763.2V771.2M723.36,77.3V85.3M808.94,763.2V778.2M808.94,77.3V91.8M894.52,763.2V771.2M894.52,77.3V85.3M980.10,763.2V778.2M980.10,77.3V91.8" stroke="#000" stroke-width="2.2" fill="none"/>
<text x="100" y="772.7" font-family="'Liberation Sans', Arial, sans-serif" font-size="30" text-anchor="end">205</text>
<text x="100" y="710.3" font-family="'Liberation Sans', Arial, sans-serif" font-size="30" text-anchor="end">210</text>
<text x="100" y="648.0" font-family="'Liberation Sans', Arial, sans-serif" font-size="30" text-anchor="end">215</text>
<text x="100" y="585.6" font-family="'Liberation Sans', Arial, sans-serif" font-size="30" text-anchor="end">220</text>
<text x="100" y="523.3" font-family="'Liberation Sans', Arial, sans-serif" font-size="30" text-anchor="end">225</text>
<text x="100" y="460.9" font-family="'Liberation Sans', Arial, sans-serif" font-size="30" text-anchor="end">230</text>
<text x="100" y="398.6" font-family="'Liberation Sans', Arial, sans-serif" font-size="30" text-anchor="end">235</text>
<text x="100" y="336.2" font-family="'Liberation Sans', Arial, sans-serif" font-size="30" text-anchor="end">240</text>
<text x="100" y="273.9" font-family="'Liberation Sans', Arial, sans-serif" font-size="30" text-anchor="end">245</text>
<text x="100" y="211.5" font-family="'Liberation Sans', Arial, sans-serif" font-size="30" text-anchor="end">250</text>
<text x="100" y="149.2" font-family="'Liberation Sans', Arial, sans-serif" font-size="30" text-anchor="end">255</text>
<text x="100" y="86.8" font-family="'Liberation Sans', Arial, sans-serif" font-size="30" text-anchor="end">260</text>
<text x="124.3" y="810" font-family="'Liberation Sans', Arial, sans-serif" font-size="30" text-anchor="middle">0</text>
<text x="295.5" y="810" font-family="'Liberation Sans', Arial, sans-serif" font-size="30" text-anchor="middle">200</text>
<text x="466.6" y="810" font-family="'Liberation Sans', Arial, sans-serif" font-size="30" text-anchor="middle">400</text>
<text x="637.8" y="810" font-family="'Liberation Sans', Arial, sans-serif" font-size="30" text-anchor="middle">600</text>
<text x="808.9" y="810" font-family="'Liberation Sans', Arial, sans-serif" font-size="30" text-anchor="middle">800</text>
<text x="980.1" y="810" font-family="'Liberation Sans', Arial, sans-serif" font-size="30" text-anchor="middle">1000</text>
<text x="552.3" y="865.3" font-family="'Liberation Sans', Arial, sans-serif" font-size="36.3" text-anchor="middle">Thickness (nm)</text>
<text transform="translate(36.7,428) rotate(-90)" font-family="'Liberation Sans', Arial, sans-serif" font-size="35" text-anchor="middle">Wavenumber (cm<tspan font-size="21" dy="-13">-1</tspan><tspan dy="13">)</tspan></text>
<text x="40" y="35.5" font-family="'DejaVu Sans', Verdana, sans-serif" font-size="41.5" textLength="60" lengthAdjust="spacingAndGlyphs">(a)</text>
<text x="196" y="57.2" font-family="'Liberation Sans', Arial, sans-serif" font-size="33" letter-spacing="1.4">Intensity (arb. units)</text>
<rect x="520" y="32.6" width="360.5" height="30.6" fill="url(#cbar)" stroke="#8c8c8c" stroke-width="2"/>
<path d="M556.0,62.2V59M592.0,62.2V59M628.0,62.2V59M664.0,62.2V59M700.0,62.2V59M736.0,62.2V59M772.0,62.2V59M808.0,62.2V59M844.0,62.2V59" stroke="#333" stroke-width="1.5" opacity="0.7"/>
<text x="530" y="53.4" font-family="'Liberation Sans', Arial, sans-serif" font-size="17" fill="#fff">0</text>
<text x="864" y="53.4" font-family="'Liberation Sans', Arial, sans-serif" font-size="17" fill="#000">1</text>
<defs><clipPath id="cb"><rect x="1119.4" y="72.6" width="862.2" height="699.0"/></clipPath></defs>
<g clip-path="url(#cb)">
<path d="M1324.2,72.6V428L1356.5,452.7V771.6" fill="none" stroke="#000" stroke-width="1.3" stroke-dasharray="2.6 2.4"/>
<path d="M1367.3,72.6V428L1394.2,448.6V771.6" fill="none" stroke="#000" stroke-width="1.3" stroke-dasharray="2.6 2.4"/>
<path d="M1618.4,72.6V428L1645.3,448.6V771.6" fill="none" stroke="#000" stroke-width="1.3" stroke-dasharray="2.6 2.4"/>
<path d="M1711.1,72.6V428L1738.0,448.6V771.6" fill="none" stroke="#000" stroke-width="1.3" stroke-dasharray="2.6 2.4"/>
<path d="M1808.1,72.6V428L1830.7,445.3V771.6" fill="none" stroke="#000" stroke-width="1.3" stroke-dasharray="2.6 2.4"/>
<path d="M1119.4,237.6L1208.9,236.6L1238.0,235.8L1260.3,234.6L1278.1,233.0L1292.4,230.9L1304.0,228.0L1313.4,224.3L1321.2,219.6L1327.7,213.8L1333.3,206.5L1338.5,197.3L1342.8,186.8L1346.8,174.1L1358.9,126.1L1361.6,119.4L1363.0,117.7L1364.0,117.3L1365.4,118.0L1366.7,119.9L1369.4,126.9L1379.4,167.2L1384.5,184.5L1389.1,196.1L1394.2,205.7L1397.7,210.7L1401.5,214.9L1405.8,218.8L1410.4,221.9L1415.5,224.7L1421.4,227.1L1427.9,229.1L1435.5,230.8L1452.4,233.3L1474.5,235.1L1504.2,236.3L1544.8,237.1L1679.3,237.9L1981.6,238.2L1981.6,238.3L1119.4,238.3Z" fill="#8aa870" fill-opacity="0.38" stroke="none"/>
<path d="M1119.4,238.3L1390.2,238.3L1422.5,238.0L1445.4,237.3L1466.2,235.8L1485.0,233.4L1504.7,229.7L1538.1,221.7L1551.0,219.0L1565.3,217.0L1578.5,216.3L1591.7,217.0L1606.0,219.0L1618.9,221.7L1652.1,229.6L1671.2,233.3L1689.0,235.6L1708.1,237.1L1730.2,237.9L1760.9,238.2L1981.6,238.3L1981.6,238.3L1119.4,238.3Z" fill="#5a58a0" fill-opacity="0.3" stroke="none"/>
<path d="M1119.4,238.3L1577.4,238.2L1640.5,237.9L1673.4,237.3L1694.1,235.9L1701.1,234.7L1706.5,233.1L1710.3,231.4L1713.8,229.1L1717.3,226.0L1723.7,219.0L1725.6,217.7L1727.3,217.3L1728.9,217.7L1730.5,218.8L1739.1,227.8L1742.1,230.1L1745.3,232.0L1749.3,233.6L1753.9,234.8L1766.3,236.5L1785.2,237.5L1816.4,237.9L1981.6,238.3L1981.6,238.3L1119.4,238.3Z" fill="#5a58a0" fill-opacity="0.3" stroke="none"/>
<path d="M1119.4,238.3L1589.6,238.2L1699.0,237.4L1723.5,236.3L1731.8,235.4L1738.8,234.1L1748.0,231.2L1752.6,228.9L1761.2,223.6L1763.6,222.7L1766.0,222.3L1770.4,223.4L1781.4,229.9L1788.7,232.9L1798.1,235.1L1810.5,236.4L1828.8,237.3L1857.1,237.8L1981.6,238.2L1981.6,238.3L1119.4,238.3Z" fill="#5a58a0" fill-opacity="0.3" stroke="none"/>
<path d="M1119.4,237.6L1208.9,236.6L1238.0,235.8L1260.3,234.6L1278.1,233.0L1292.4,230.9L1304.0,228.0L1313.4,224.3L1321.2,219.6L1327.7,213.8L1333.3,206.5L1338.5,197.3L1342.8,186.8L1346.8,174.1L1358.9,126.1L1361.6,119.4L1363.0,117.7L1364.0,117.3L1365.4,118.0L1366.7,119.9L1369.4,126.9L1379.4,167.2L1384.5,184.5L1389.1,196.1L1394.2,205.7L1397.7,210.7L1401.5,214.9L1405.8,218.8L1410.4,221.9L1415.5,224.7L1421.4,227.1L1427.9,229.1L1435.5,230.8L1452.4,233.3L1474.5,235.1L1504.2,236.3L1544.8,237.1L1679.3,237.9L1981.6,238.2" fill="none" stroke="#6d9444" stroke-width="2"/>
<path d="M1119.4,238.3L1390.2,238.3L1422.5,238.0L1445.4,237.3L1466.2,235.8L1485.0,233.4L1504.7,229.7L1538.1,221.7L1551.0,219.0L1565.3,217.0L1578.5,216.3L1591.7,217.0L1606.0,219.0L1618.9,221.7L1652.1,229.6L1671.2,233.3L1689.0,235.6L1708.1,237.1L1730.2,237.9L1760.9,238.2L1981.6,238.3" fill="none" stroke="#4a4a9c" stroke-width="1.8"/>
<path d="M1119.4,238.3L1577.4,238.2L1640.5,237.9L1673.4,237.3L1694.1,235.9L1701.1,234.7L1706.5,233.1L1710.3,231.4L1713.8,229.1L1717.3,226.0L1723.7,219.0L1725.6,217.7L1727.3,217.3L1728.9,217.7L1730.5,218.8L1739.1,227.8L1742.1,230.1L1745.3,232.0L1749.3,233.6L1753.9,234.8L1766.3,236.5L1785.2,237.5L1816.4,237.9L1981.6,238.3" fill="none" stroke="#4a4a9c" stroke-width="1.8"/>
<path d="M1119.4,238.3L1589.6,238.2L1699.0,237.4L1723.5,236.3L1731.8,235.4L1738.8,234.1L1748.0,231.2L1752.6,228.9L1761.2,223.6L1763.6,222.7L1766.0,222.3L1770.4,223.4L1781.4,229.9L1788.7,232.9L1798.1,235.1L1810.5,236.4L1828.8,237.3L1857.1,237.8L1981.6,238.2" fill="none" stroke="#4a4a9c" stroke-width="1.8"/>
<line x1="1119.4" y1="238.8" x2="1981.6" y2="238.8" stroke="#4a4a9c" stroke-width="2.6"/>
<path d="M1119.4,237.6L1208.9,236.6L1238.0,235.8L1260.3,234.6L1278.1,233.0L1292.4,230.8L1304.0,228.0L1313.4,224.3L1321.2,219.6L1327.7,213.8L1333.3,206.5L1338.5,197.3L1342.8,186.8L1346.8,174.1L1358.9,126.0L1361.6,119.3L1363.0,117.7L1364.0,117.2L1365.4,117.9L1366.7,119.8L1369.4,126.9L1379.4,167.2L1384.3,183.6L1388.6,194.8L1393.4,204.3L1396.7,209.1L1400.4,213.7L1404.5,217.5L1409.0,220.9L1413.9,223.6L1419.3,226.0L1425.5,228.0L1432.2,229.5L1443.3,231.1L1455.4,231.9L1468.1,231.9L1481.3,231.0L1492.6,229.6L1504.4,227.6L1540.5,219.7L1553.5,217.2L1566.7,215.6L1579.3,215.2L1592.0,215.9L1605.5,217.8L1648.6,227.6L1665.3,230.7L1680.6,232.4L1693.6,232.6L1703.3,231.3L1707.0,230.2L1710.5,228.6L1715.9,224.6L1724.3,215.6L1725.9,214.5L1727.5,214.1L1729.1,214.5L1730.8,215.5L1739.1,223.0L1743.7,225.1L1747.2,225.6L1750.7,225.2L1754.2,224.1L1762.0,220.7L1764.4,220.2L1766.6,220.3L1770.4,221.6L1780.9,228.4L1787.6,231.5L1796.8,234.0L1808.6,235.6L1827.5,236.8L1856.6,237.5L1981.6,238.1" fill="none" stroke="#1d6a33" stroke-width="4" stroke-linejoin="round"/>
<g fill="#000"><circle cx="1121.6" cy="238.4" r="1.9"/><circle cx="1125.4" cy="239.5" r="1.9"/><circle cx="1129.3" cy="238.3" r="1.9"/><circle cx="1133.2" cy="234.4" r="1.9"/><circle cx="1137.1" cy="239.7" r="1.9"/><circle cx="1141.0" cy="238.5" r="1.9"/><circle cx="1144.8" cy="236.2" r="1.9"/><circle cx="1148.7" cy="238.8" r="1.9"/><circle cx="1152.6" cy="238.3" r="1.9"/><circle cx="1156.5" cy="238.1" r="1.9"/><circle cx="1160.4" cy="237.4" r="1.9"/><circle cx="1164.2" cy="238.6" r="1.9"/><circle cx="1168.1" cy="235.5" r="1.9"/><circle cx="1172.0" cy="236.8" r="1.9"/><circle cx="1175.9" cy="236.0" r="1.9"/><circle cx="1179.8" cy="238.5" r="1.9"/><circle cx="1183.6" cy="237.1" r="1.9"/><circle cx="1187.5" cy="236.3" r="1.9"/><circle cx="1191.4" cy="235.1" r="1.9"/><circle cx="1195.3" cy="236.3" r="1.9"/><circle cx="1199.2" cy="236.8" r="1.9"/><circle cx="1203.0" cy="236.1" r="1.9"/><circle cx="1206.9" cy="239.8" r="1.9"/><circle cx="1210.8" cy="239.0" r="1.9"/><circle cx="1214.7" cy="230.0" r="1.9"/><circle cx="1218.6" cy="231.9" r="1.9"/><circle cx="1222.4" cy="235.9" r="1.9"/><circle cx="1226.3" cy="235.2" r="1.9"/><circle cx="1230.2" cy="236.6" r="1.9"/><circle cx="1234.1" cy="236.4" r="1.9"/><circle cx="1238.0" cy="240.9" r="1.9"/><circle cx="1241.8" cy="232.9" r="1.9"/><circle cx="1245.7" cy="234.5" r="1.9"/><circle cx="1249.6" cy="240.2" r="1.9"/><circle cx="1253.5" cy="236.6" r="1.9"/><circle cx="1257.4" cy="236.4" r="1.9"/><circle cx="1261.2" cy="233.3" r="1.9"/><circle cx="1265.1" cy="230.3" r="1.9"/><circle cx="1269.0" cy="234.3" r="1.9"/><circle cx="1272.9" cy="233.8" r="1.9"/><circle cx="1276.8" cy="230.2" r="1.9"/><circle cx="1280.6" cy="231.1" r="1.9"/><circle cx="1284.5" cy="232.0" r="1.9"/><circle cx="1288.4" cy="229.3" r="1.9"/><circle cx="1292.3" cy="230.6" r="1.9"/><circle cx="1296.2" cy="230.3" r="1.9"/><circle cx="1300.0" cy="229.2" r="1.9"/><circle cx="1303.9" cy="226.8" r="1.9"/><circle cx="1307.8" cy="228.1" r="1.9"/><circle cx="1311.7" cy="227.2" r="1.9"/><circle cx="1315.6" cy="223.9" r="1.9"/><circle cx="1319.4" cy="218.8" r="1.9"/><circle cx="1323.3" cy="219.7" r="1.9"/><circle cx="1327.2" cy="213.1" r="1.9"/><circle cx="1331.1" cy="211.8" r="1.9"/><circle cx="1335.0" cy="201.3" r="1.9"/><circle cx="1338.8" cy="198.6" r="1.9"/><circle cx="1342.7" cy="186.9" r="1.9"/><circle cx="1346.6" cy="171.8" r="1.9"/><circle cx="1350.5" cy="159.4" r="1.9"/><circle cx="1354.3" cy="143.9" r="1.9"/><circle cx="1358.2" cy="129.0" r="1.9"/><circle cx="1362.1" cy="116.2" r="1.9"/><circle cx="1366.0" cy="115.9" r="1.9"/><circle cx="1369.9" cy="128.8" r="1.9"/><circle cx="1373.7" cy="142.6" r="1.9"/><circle cx="1377.6" cy="160.7" r="1.9"/><circle cx="1381.5" cy="176.6" r="1.9"/><circle cx="1385.4" cy="182.9" r="1.9"/><circle cx="1389.3" cy="197.0" r="1.9"/><circle cx="1393.1" cy="206.8" r="1.9"/><circle cx="1397.0" cy="208.9" r="1.9"/><circle cx="1400.9" cy="212.2" r="1.9"/><circle cx="1404.8" cy="219.6" r="1.9"/><circle cx="1408.7" cy="221.2" r="1.9"/><circle cx="1412.5" cy="225.1" r="1.9"/><circle cx="1416.4" cy="224.0" r="1.9"/><circle cx="1420.3" cy="222.8" r="1.9"/><circle cx="1424.2" cy="227.3" r="1.9"/><circle cx="1428.1" cy="227.6" r="1.9"/><circle cx="1431.9" cy="231.3" r="1.9"/><circle cx="1435.8" cy="230.6" r="1.9"/><circle cx="1439.7" cy="226.8" r="1.9"/><circle cx="1443.6" cy="228.3" r="1.9"/><circle cx="1447.5" cy="233.6" r="1.9"/><circle cx="1451.3" cy="233.4" r="1.9"/><circle cx="1455.2" cy="230.4" r="1.9"/><circle cx="1459.1" cy="232.0" r="1.9"/><circle cx="1463.0" cy="233.1" r="1.9"/><circle cx="1466.9" cy="233.0" r="1.9"/><circle cx="1470.7" cy="233.9" r="1.9"/><circle cx="1474.6" cy="232.2" r="1.9"/><circle cx="1478.5" cy="231.0" r="1.9"/><circle cx="1482.4" cy="230.3" r="1.9"/><circle cx="1486.3" cy="233.0" r="1.9"/><circle cx="1490.1" cy="224.6" r="1.9"/><circle cx="1494.0" cy="229.1" r="1.9"/><circle cx="1497.9" cy="228.9" r="1.9"/><circle cx="1501.8" cy="224.7" r="1.9"/><circle cx="1505.7" cy="228.2" r="1.9"/><circle cx="1509.5" cy="225.0" r="1.9"/><circle cx="1513.4" cy="227.8" r="1.9"/><circle cx="1517.3" cy="224.6" r="1.9"/><circle cx="1521.2" cy="225.7" r="1.9"/><circle cx="1525.1" cy="226.1" r="1.9"/><circle cx="1528.9" cy="223.2" r="1.9"/><circle cx="1532.8" cy="219.3" r="1.9"/><circle cx="1536.7" cy="216.9" r="1.9"/><circle cx="1540.6" cy="223.9" r="1.9"/><circle cx="1544.5" cy="218.6" r="1.9"/><circle cx="1548.3" cy="216.5" r="1.9"/><circle cx="1552.2" cy="217.8" r="1.9"/><circle cx="1556.1" cy="216.4" r="1.9"/><circle cx="1560.0" cy="218.4" r="1.9"/><circle cx="1563.9" cy="216.0" r="1.9"/><circle cx="1567.7" cy="215.6" r="1.9"/><circle cx="1571.6" cy="213.6" r="1.9"/><circle cx="1575.5" cy="216.3" r="1.9"/><circle cx="1579.4" cy="212.7" r="1.9"/><circle cx="1583.3" cy="216.9" r="1.9"/><circle cx="1587.1" cy="219.1" r="1.9"/><circle cx="1591.0" cy="212.1" r="1.9"/><circle cx="1594.9" cy="210.3" r="1.9"/><circle cx="1598.8" cy="218.2" r="1.9"/><circle cx="1602.7" cy="223.5" r="1.9"/><circle cx="1606.5" cy="215.6" r="1.9"/><circle cx="1610.4" cy="215.8" r="1.9"/><circle cx="1614.3" cy="221.0" r="1.9"/><circle cx="1618.2" cy="218.4" r="1.9"/><circle cx="1622.1" cy="220.1" r="1.9"/><circle cx="1625.9" cy="221.4" r="1.9"/><circle cx="1629.8" cy="224.5" r="1.9"/><circle cx="1633.7" cy="223.2" r="1.9"/><circle cx="1637.6" cy="225.7" r="1.9"/><circle cx="1641.5" cy="225.6" r="1.9"/><circle cx="1645.3" cy="224.9" r="1.9"/><circle cx="1649.2" cy="227.0" r="1.9"/><circle cx="1653.1" cy="226.2" r="1.9"/><circle cx="1657.0" cy="229.3" r="1.9"/><circle cx="1660.9" cy="227.3" r="1.9"/><circle cx="1664.7" cy="228.0" r="1.9"/><circle cx="1668.6" cy="234.7" r="1.9"/><circle cx="1672.5" cy="231.5" r="1.9"/><circle cx="1676.4" cy="231.9" r="1.9"/><circle cx="1680.3" cy="233.6" r="1.9"/><circle cx="1684.1" cy="231.6" r="1.9"/><circle cx="1688.0" cy="232.2" r="1.9"/><circle cx="1691.9" cy="233.7" r="1.9"/><circle cx="1695.8" cy="233.1" r="1.9"/><circle cx="1699.7" cy="229.2" r="1.9"/><circle cx="1703.5" cy="233.3" r="1.9"/><circle cx="1707.4" cy="228.6" r="1.9"/><circle cx="1711.3" cy="225.6" r="1.9"/><circle cx="1715.2" cy="223.1" r="1.9"/><circle cx="1719.1" cy="220.4" r="1.9"/><circle cx="1722.9" cy="220.8" r="1.9"/><circle cx="1726.8" cy="211.4" r="1.9"/><circle cx="1730.7" cy="215.8" r="1.9"/><circle cx="1734.6" cy="214.0" r="1.9"/><circle cx="1738.5" cy="222.6" r="1.9"/><circle cx="1742.3" cy="226.9" r="1.9"/><circle cx="1746.2" cy="225.0" r="1.9"/><circle cx="1750.1" cy="223.8" r="1.9"/><circle cx="1754.0" cy="224.8" r="1.9"/><circle cx="1757.9" cy="224.2" r="1.9"/><circle cx="1761.7" cy="222.4" r="1.9"/><circle cx="1765.6" cy="224.9" r="1.9"/><circle cx="1769.5" cy="221.7" r="1.9"/><circle cx="1773.4" cy="222.0" r="1.9"/><circle cx="1777.3" cy="225.8" r="1.9"/><circle cx="1781.1" cy="228.4" r="1.9"/><circle cx="1785.0" cy="230.7" r="1.9"/><circle cx="1788.9" cy="231.9" r="1.9"/><circle cx="1792.8" cy="233.5" r="1.9"/><circle cx="1796.7" cy="230.0" r="1.9"/><circle cx="1800.5" cy="236.7" r="1.9"/><circle cx="1804.4" cy="233.8" r="1.9"/><circle cx="1808.3" cy="232.8" r="1.9"/><circle cx="1812.2" cy="237.5" r="1.9"/><circle cx="1816.1" cy="239.4" r="1.9"/><circle cx="1819.9" cy="237.6" r="1.9"/><circle cx="1823.8" cy="237.0" r="1.9"/><circle cx="1827.7" cy="234.6" r="1.9"/><circle cx="1831.6" cy="243.8" r="1.9"/><circle cx="1835.5" cy="239.2" r="1.9"/><circle cx="1839.3" cy="234.4" r="1.9"/><circle cx="1843.2" cy="235.4" r="1.9"/><circle cx="1847.1" cy="237.5" r="1.9"/><circle cx="1851.0" cy="233.6" r="1.9"/><circle cx="1854.9" cy="237.8" r="1.9"/><circle cx="1858.7" cy="236.4" r="1.9"/><circle cx="1862.6" cy="240.5" r="1.9"/><circle cx="1866.5" cy="239.9" r="1.9"/><circle cx="1870.4" cy="231.1" r="1.9"/><circle cx="1874.3" cy="237.8" r="1.9"/><circle cx="1878.1" cy="233.8" r="1.9"/><circle cx="1882.0" cy="240.4" r="1.9"/><circle cx="1885.9" cy="238.2" r="1.9"/><circle cx="1889.8" cy="239.1" r="1.9"/><circle cx="1893.7" cy="235.2" r="1.9"/><circle cx="1897.5" cy="242.2" r="1.9"/><circle cx="1901.4" cy="242.7" r="1.9"/><circle cx="1905.3" cy="235.3" r="1.9"/><circle cx="1909.2" cy="238.8" r="1.9"/><circle cx="1913.1" cy="236.3" r="1.9"/><circle cx="1916.9" cy="237.8" r="1.9"/><circle cx="1920.8" cy="234.9" r="1.9"/><circle cx="1924.7" cy="242.4" r="1.9"/><circle cx="1928.6" cy="235.6" r="1.9"/><circle cx="1932.5" cy="237.2" r="1.9"/><circle cx="1936.3" cy="239.2" r="1.9"/><circle cx="1940.2" cy="236.4" r="1.9"/><circle cx="1944.1" cy="237.4" r="1.9"/><circle cx="1948.0" cy="236.6" r="1.9"/><circle cx="1951.9" cy="237.7" r="1.9"/><circle cx="1955.7" cy="235.2" r="1.9"/><circle cx="1959.6" cy="237.0" r="1.9"/><circle cx="1963.5" cy="237.5" r="1.9"/><circle cx="1967.4" cy="237.2" r="1.9"/><circle cx="1971.3" cy="238.2" r="1.9"/><circle cx="1975.1" cy="237.3" r="1.9"/><circle cx="1979.0" cy="239.9" r="1.9"/></g>
<path d="M1119.4,569.4L1230.9,568.7L1264.9,568.0L1290.2,567.1L1309.9,565.7L1325.0,563.8L1337.1,561.2L1346.8,557.8L1354.9,553.2L1361.4,547.4L1367.0,539.7L1371.9,530.1L1375.9,518.9L1379.7,505.1L1390.5,453.6L1392.6,447.1L1393.7,445.4L1394.8,444.8L1395.8,445.4L1396.9,447.1L1399.3,454.7L1408.0,496.9L1412.3,514.4L1416.3,526.7L1420.9,536.9L1423.9,541.8L1427.4,546.4L1431.1,550.3L1435.5,553.7L1440.0,556.5L1445.4,558.9L1451.3,560.9L1458.1,562.6L1473.4,565.1L1493.6,566.8L1520.9,567.9L1558.9,568.7L1686.3,569.4L1981.6,569.7L1981.6,569.8L1119.4,569.8Z" fill="#8aa870" fill-opacity="0.38" stroke="none"/>
<path d="M1119.4,569.8L1397.2,569.8L1429.8,569.5L1452.7,568.8L1473.7,567.4L1492.6,565.0L1512.2,561.4L1545.7,553.6L1558.6,550.9L1572.9,548.9L1586.1,548.3L1599.3,548.9L1613.5,550.9L1626.5,553.6L1659.6,561.3L1678.5,564.9L1696.0,567.1L1715.1,568.6L1737.2,569.4L1767.7,569.7L1981.6,569.8L1981.6,569.8L1119.4,569.8Z" fill="#5a58a0" fill-opacity="0.3" stroke="none"/>
<path d="M1119.4,569.8L1584.7,569.7L1651.3,569.5L1686.3,569.0L1708.4,567.8L1715.9,566.8L1721.9,565.6L1726.2,564.1L1729.9,562.4L1734.0,559.8L1741.3,554.2L1743.4,553.1L1745.3,552.8L1748.8,553.9L1758.2,561.0L1765.0,564.4L1773.9,566.7L1786.5,568.2L1805.1,569.0L1835.3,569.4L1981.6,569.7L1981.6,569.8L1119.4,569.8Z" fill="#5a58a0" fill-opacity="0.3" stroke="none"/>
<path d="M1119.4,569.8L1602.0,569.5L1679.8,569.1L1723.2,568.1L1738.8,567.3L1751.2,566.1L1761.2,564.5L1769.3,562.4L1774.9,560.3L1780.1,557.6L1785.4,554.0L1796.8,544.9L1799.7,543.4L1802.7,542.8L1805.4,543.3L1808.4,544.7L1821.3,555.0L1829.1,559.7L1838.5,563.2L1850.4,565.6L1867.4,567.3L1891.3,568.4L1926.6,569.1L1981.6,569.5L1981.6,569.8L1119.4,569.8Z" fill="#5a58a0" fill-opacity="0.3" stroke="none"/>
<path d="M1119.4,569.4L1230.9,568.7L1264.9,568.0L1290.2,567.1L1309.9,565.7L1325.0,563.8L1337.1,561.2L1346.8,557.8L1354.9,553.2L1361.4,547.4L1367.0,539.7L1371.9,530.1L1375.9,518.9L1379.7,505.1L1390.5,453.6L1392.6,447.1L1393.7,445.4L1394.8,444.8L1395.8,445.4L1396.9,447.1L1399.3,454.7L1408.0,496.9L1412.3,514.4L1416.3,526.7L1420.9,536.9L1423.9,541.8L1427.4,546.4L1431.1,550.3L1435.5,553.7L1440.0,556.5L1445.4,558.9L1451.3,560.9L1458.1,562.6L1473.4,565.1L1493.6,566.8L1520.9,567.9L1558.9,568.7L1686.3,569.4L1981.6,569.7" fill="none" stroke="#6d9444" stroke-width="2"/>
<path d="M1119.4,569.8L1397.2,569.8L1429.8,569.5L1452.7,568.8L1473.7,567.4L1492.6,565.0L1512.2,561.4L1545.7,553.6L1558.6,550.9L1572.9,548.9L1586.1,548.3L1599.3,548.9L1613.5,550.9L1626.5,553.6L1659.6,561.3L1678.5,564.9L1696.0,567.1L1715.1,568.6L1737.2,569.4L1767.7,569.7L1981.6,569.8" fill="none" stroke="#4a4a9c" stroke-width="1.8"/>
<path d="M1119.4,569.8L1584.7,569.7L1651.3,569.5L1686.3,569.0L1708.4,567.8L1715.9,566.8L1721.9,565.6L1726.2,564.1L1729.9,562.4L1734.0,559.8L1741.3,554.2L1743.4,553.1L1745.3,552.8L1748.8,553.9L1758.2,561.0L1765.0,564.4L1773.9,566.7L1786.5,568.2L1805.1,569.0L1835.3,569.4L1981.6,569.7" fill="none" stroke="#4a4a9c" stroke-width="1.8"/>
<path d="M1119.4,569.8L1602.0,569.5L1679.8,569.1L1723.2,568.1L1738.8,567.3L1751.2,566.1L1761.2,564.5L1769.3,562.4L1774.9,560.3L1780.1,557.6L1785.4,554.0L1796.8,544.9L1799.7,543.4L1802.7,542.8L1805.4,543.3L1808.4,544.7L1821.3,555.0L1829.1,559.7L1838.5,563.2L1850.4,565.6L1867.4,567.3L1891.3,568.4L1926.6,569.1L1981.6,569.5" fill="none" stroke="#4a4a9c" stroke-width="1.8"/>
<line x1="1119.4" y1="570.3" x2="1981.6" y2="570.3" stroke="#4a4a9c" stroke-width="2.6"/>
<path d="M1119.4,569.4L1230.9,568.6L1264.9,568.0L1290.2,567.0L1309.9,565.6L1325.0,563.8L1337.1,561.2L1346.8,557.7L1354.9,553.1L1361.4,547.3L1367.0,539.6L1371.9,530.0L1375.9,518.8L1379.7,505.0L1390.7,452.5L1392.9,446.5L1394.0,445.0L1394.8,444.7L1395.8,445.3L1396.9,447.0L1399.3,454.5L1407.7,495.4L1412.0,513.2L1415.8,525.0L1420.1,535.0L1423.1,540.2L1426.3,544.8L1429.8,548.6L1433.6,551.8L1437.9,554.7L1442.5,556.9L1447.8,558.9L1453.8,560.4L1462.4,561.8L1472.1,562.5L1482.6,562.4L1493.9,561.6L1514.4,558.6L1548.6,551.4L1561.3,549.1L1574.7,547.5L1587.7,547.1L1600.1,547.9L1613.3,549.8L1656.9,559.4L1675.0,562.6L1692.8,564.5L1708.7,564.6L1718.9,563.4L1726.7,561.1L1732.6,557.8L1741.5,550.7L1745.0,549.3L1746.9,549.4L1748.8,550.0L1757.2,555.3L1762.0,557.3L1767.9,558.1L1774.1,557.3L1778.7,555.8L1783.3,553.4L1797.6,543.1L1800.3,542.0L1802.7,541.7L1805.4,542.3L1808.4,543.8L1821.3,554.3L1829.1,559.1L1838.5,562.7L1850.4,565.2L1867.4,567.0L1891.6,568.2L1926.9,568.9L1981.6,569.3" fill="none" stroke="#1d6a33" stroke-width="4" stroke-linejoin="round"/>
<g fill="#000"><circle cx="1121.6" cy="575.9" r="1.9"/><circle cx="1125.4" cy="561.2" r="1.9"/><circle cx="1129.3" cy="570.7" r="1.9"/><circle cx="1133.2" cy="567.5" r="1.9"/><circle cx="1137.1" cy="567.9" r="1.9"/><circle cx="1141.0" cy="568.6" r="1.9"/><circle cx="1144.8" cy="562.8" r="1.9"/><circle cx="1148.7" cy="568.5" r="1.9"/><circle cx="1152.6" cy="566.5" r="1.9"/><circle cx="1156.5" cy="579.9" r="1.9"/><circle cx="1160.4" cy="569.9" r="1.9"/><circle cx="1164.2" cy="568.1" r="1.9"/><circle cx="1168.1" cy="568.3" r="1.9"/><circle cx="1172.0" cy="567.0" r="1.9"/><circle cx="1175.9" cy="565.8" r="1.9"/><circle cx="1179.8" cy="567.9" r="1.9"/><circle cx="1183.6" cy="570.6" r="1.9"/><circle cx="1187.5" cy="568.3" r="1.9"/><circle cx="1191.4" cy="572.1" r="1.9"/><circle cx="1195.3" cy="568.4" r="1.9"/><circle cx="1199.2" cy="569.0" r="1.9"/><circle cx="1203.0" cy="573.9" r="1.9"/><circle cx="1206.9" cy="570.6" r="1.9"/><circle cx="1210.8" cy="567.2" r="1.9"/><circle cx="1214.7" cy="568.2" r="1.9"/><circle cx="1218.6" cy="570.5" r="1.9"/><circle cx="1222.4" cy="574.9" r="1.9"/><circle cx="1226.3" cy="567.8" r="1.9"/><circle cx="1230.2" cy="567.9" r="1.9"/><circle cx="1234.1" cy="571.8" r="1.9"/><circle cx="1238.0" cy="565.7" r="1.9"/><circle cx="1241.8" cy="567.5" r="1.9"/><circle cx="1245.7" cy="571.2" r="1.9"/><circle cx="1249.6" cy="570.2" r="1.9"/><circle cx="1253.5" cy="568.5" r="1.9"/><circle cx="1257.4" cy="570.3" r="1.9"/><circle cx="1261.2" cy="559.0" r="1.9"/><circle cx="1265.1" cy="571.2" r="1.9"/><circle cx="1269.0" cy="564.8" r="1.9"/><circle cx="1272.9" cy="562.4" r="1.9"/><circle cx="1276.8" cy="568.5" r="1.9"/><circle cx="1280.6" cy="569.7" r="1.9"/><circle cx="1284.5" cy="565.9" r="1.9"/><circle cx="1288.4" cy="563.7" r="1.9"/><circle cx="1292.3" cy="567.0" r="1.9"/><circle cx="1296.2" cy="566.5" r="1.9"/><circle cx="1300.0" cy="570.9" r="1.9"/><circle cx="1303.9" cy="568.5" r="1.9"/><circle cx="1307.8" cy="566.4" r="1.9"/><circle cx="1311.7" cy="569.0" r="1.9"/><circle cx="1315.6" cy="564.4" r="1.9"/><circle cx="1319.4" cy="561.6" r="1.9"/><circle cx="1323.3" cy="565.9" r="1.9"/><circle cx="1327.2" cy="565.3" r="1.9"/><circle cx="1331.1" cy="561.9" r="1.9"/><circle cx="1335.0" cy="559.2" r="1.9"/><circle cx="1338.8" cy="561.4" r="1.9"/><circle cx="1342.7" cy="551.4" r="1.9"/><circle cx="1346.6" cy="560.0" r="1.9"/><circle cx="1350.5" cy="557.5" r="1.9"/><circle cx="1354.3" cy="548.2" r="1.9"/><circle cx="1358.2" cy="550.6" r="1.9"/><circle cx="1362.1" cy="543.3" r="1.9"/><circle cx="1366.0" cy="543.7" r="1.9"/><circle cx="1369.9" cy="527.9" r="1.9"/><circle cx="1373.7" cy="522.3" r="1.9"/><circle cx="1377.6" cy="515.2" r="1.9"/><circle cx="1381.5" cy="500.7" r="1.9"/><circle cx="1385.4" cy="470.9" r="1.9"/><circle cx="1389.3" cy="456.9" r="1.9"/><circle cx="1393.1" cy="447.0" r="1.9"/><circle cx="1397.0" cy="445.3" r="1.9"/><circle cx="1400.9" cy="466.5" r="1.9"/><circle cx="1404.8" cy="477.2" r="1.9"/><circle cx="1408.7" cy="501.0" r="1.9"/><circle cx="1412.5" cy="511.8" r="1.9"/><circle cx="1416.4" cy="531.3" r="1.9"/><circle cx="1420.3" cy="535.4" r="1.9"/><circle cx="1424.2" cy="540.8" r="1.9"/><circle cx="1428.1" cy="541.3" r="1.9"/><circle cx="1431.9" cy="555.9" r="1.9"/><circle cx="1435.8" cy="555.8" r="1.9"/><circle cx="1439.7" cy="558.1" r="1.9"/><circle cx="1443.6" cy="561.1" r="1.9"/><circle cx="1447.5" cy="559.9" r="1.9"/><circle cx="1451.3" cy="557.8" r="1.9"/><circle cx="1455.2" cy="558.2" r="1.9"/><circle cx="1459.1" cy="558.8" r="1.9"/><circle cx="1463.0" cy="566.2" r="1.9"/><circle cx="1466.9" cy="557.5" r="1.9"/><circle cx="1470.7" cy="560.5" r="1.9"/><circle cx="1474.6" cy="561.5" r="1.9"/><circle cx="1478.5" cy="563.2" r="1.9"/><circle cx="1482.4" cy="564.3" r="1.9"/><circle cx="1486.3" cy="558.2" r="1.9"/><circle cx="1490.1" cy="556.4" r="1.9"/><circle cx="1494.0" cy="561.6" r="1.9"/><circle cx="1497.9" cy="565.1" r="1.9"/><circle cx="1501.8" cy="563.1" r="1.9"/><circle cx="1505.7" cy="560.8" r="1.9"/><circle cx="1509.5" cy="558.5" r="1.9"/><circle cx="1513.4" cy="559.7" r="1.9"/><circle cx="1517.3" cy="557.3" r="1.9"/><circle cx="1521.2" cy="559.9" r="1.9"/><circle cx="1525.1" cy="553.9" r="1.9"/><circle cx="1528.9" cy="556.1" r="1.9"/><circle cx="1532.8" cy="554.4" r="1.9"/><circle cx="1536.7" cy="555.7" r="1.9"/><circle cx="1540.6" cy="553.8" r="1.9"/><circle cx="1544.5" cy="560.4" r="1.9"/><circle cx="1548.3" cy="556.2" r="1.9"/><circle cx="1552.2" cy="555.5" r="1.9"/><circle cx="1556.1" cy="543.4" r="1.9"/><circle cx="1560.0" cy="548.2" r="1.9"/><circle cx="1563.9" cy="546.8" r="1.9"/><circle cx="1567.7" cy="549.9" r="1.9"/><circle cx="1571.6" cy="540.5" r="1.9"/><circle cx="1575.5" cy="551.2" r="1.9"/><circle cx="1579.4" cy="550.7" r="1.9"/><circle cx="1583.3" cy="543.0" r="1.9"/><circle cx="1587.1" cy="544.0" r="1.9"/><circle cx="1591.0" cy="544.7" r="1.9"/><circle cx="1594.9" cy="547.6" r="1.9"/><circle cx="1598.8" cy="549.8" r="1.9"/><circle cx="1602.7" cy="554.7" r="1.9"/><circle cx="1606.5" cy="548.0" r="1.9"/><circle cx="1610.4" cy="551.7" r="1.9"/><circle cx="1614.3" cy="550.4" r="1.9"/><circle cx="1618.2" cy="556.3" r="1.9"/><circle cx="1622.1" cy="553.8" r="1.9"/><circle cx="1625.9" cy="556.7" r="1.9"/><circle cx="1629.8" cy="549.7" r="1.9"/><circle cx="1633.7" cy="553.5" r="1.9"/><circle cx="1637.6" cy="552.4" r="1.9"/><circle cx="1641.5" cy="560.7" r="1.9"/><circle cx="1645.3" cy="558.9" r="1.9"/><circle cx="1649.2" cy="556.7" r="1.9"/><circle cx="1653.1" cy="557.1" r="1.9"/><circle cx="1657.0" cy="561.0" r="1.9"/><circle cx="1660.9" cy="557.9" r="1.9"/><circle cx="1664.7" cy="558.0" r="1.9"/><circle cx="1668.6" cy="563.2" r="1.9"/><circle cx="1672.5" cy="570.1" r="1.9"/><circle cx="1676.4" cy="562.0" r="1.9"/><circle cx="1680.3" cy="561.5" r="1.9"/><circle cx="1684.1" cy="560.0" r="1.9"/><circle cx="1688.0" cy="559.9" r="1.9"/><circle cx="1691.9" cy="566.1" r="1.9"/><circle cx="1695.8" cy="567.4" r="1.9"/><circle cx="1699.7" cy="564.8" r="1.9"/><circle cx="1703.5" cy="565.8" r="1.9"/><circle cx="1707.4" cy="565.1" r="1.9"/><circle cx="1711.3" cy="564.9" r="1.9"/><circle cx="1715.2" cy="559.2" r="1.9"/><circle cx="1719.1" cy="561.9" r="1.9"/><circle cx="1722.9" cy="562.8" r="1.9"/><circle cx="1726.8" cy="558.6" r="1.9"/><circle cx="1730.7" cy="557.6" r="1.9"/><circle cx="1734.6" cy="553.7" r="1.9"/><circle cx="1738.5" cy="552.0" r="1.9"/><circle cx="1742.3" cy="552.9" r="1.9"/><circle cx="1746.2" cy="547.9" r="1.9"/><circle cx="1750.1" cy="550.3" r="1.9"/><circle cx="1754.0" cy="556.0" r="1.9"/><circle cx="1757.9" cy="557.8" r="1.9"/><circle cx="1761.7" cy="562.7" r="1.9"/><circle cx="1765.6" cy="551.3" r="1.9"/><circle cx="1769.5" cy="560.8" r="1.9"/><circle cx="1773.4" cy="556.0" r="1.9"/><circle cx="1777.3" cy="556.8" r="1.9"/><circle cx="1781.1" cy="557.3" r="1.9"/><circle cx="1785.0" cy="555.8" r="1.9"/><circle cx="1788.9" cy="552.9" r="1.9"/><circle cx="1792.8" cy="547.0" r="1.9"/><circle cx="1796.7" cy="548.8" r="1.9"/><circle cx="1800.5" cy="541.0" r="1.9"/><circle cx="1804.4" cy="541.5" r="1.9"/><circle cx="1808.3" cy="546.3" r="1.9"/><circle cx="1812.2" cy="545.0" r="1.9"/><circle cx="1816.1" cy="557.0" r="1.9"/><circle cx="1819.9" cy="556.6" r="1.9"/><circle cx="1823.8" cy="563.0" r="1.9"/><circle cx="1827.7" cy="558.3" r="1.9"/><circle cx="1831.6" cy="559.0" r="1.9"/><circle cx="1835.5" cy="562.2" r="1.9"/><circle cx="1839.3" cy="565.2" r="1.9"/><circle cx="1843.2" cy="562.0" r="1.9"/><circle cx="1847.1" cy="565.8" r="1.9"/><circle cx="1851.0" cy="565.2" r="1.9"/><circle cx="1854.9" cy="571.0" r="1.9"/><circle cx="1858.7" cy="564.1" r="1.9"/><circle cx="1862.6" cy="570.0" r="1.9"/><circle cx="1866.5" cy="564.9" r="1.9"/><circle cx="1870.4" cy="564.1" r="1.9"/><circle cx="1874.3" cy="565.2" r="1.9"/><circle cx="1878.1" cy="563.8" r="1.9"/><circle cx="1882.0" cy="568.3" r="1.9"/><circle cx="1885.9" cy="571.3" r="1.9"/><circle cx="1889.8" cy="568.6" r="1.9"/><circle cx="1893.7" cy="570.2" r="1.9"/><circle cx="1897.5" cy="573.6" r="1.9"/><circle cx="1901.4" cy="569.3" r="1.9"/><circle cx="1905.3" cy="569.2" r="1.9"/><circle cx="1909.2" cy="567.7" r="1.9"/><circle cx="1913.1" cy="563.5" r="1.9"/><circle cx="1916.9" cy="571.2" r="1.9"/><circle cx="1920.8" cy="563.2" r="1.9"/><circle cx="1924.7" cy="570.9" r="1.9"/><circle cx="1928.6" cy="568.9" r="1.9"/><circle cx="1932.5" cy="572.6" r="1.9"/><circle cx="1936.3" cy="568.8" r="1.9"/><circle cx="1940.2" cy="566.4" r="1.9"/><circle cx="1944.1" cy="570.2" r="1.9"/><circle cx="1948.0" cy="567.3" r="1.9"/><circle cx="1951.9" cy="568.6" r="1.9"/><circle cx="1955.7" cy="569.3" r="1.9"/><circle cx="1959.6" cy="568.8" r="1.9"/><circle cx="1963.5" cy="568.6" r="1.9"/><circle cx="1967.4" cy="566.6" r="1.9"/><circle cx="1971.3" cy="568.7" r="1.9"/><circle cx="1975.1" cy="562.4" r="1.9"/><circle cx="1979.0" cy="568.8" r="1.9"/></g>
<path d="M1119.4,410.8L1190.3,408.7L1256.8,406.1L1454.3,396.1L1493.9,394.9L1530.8,394.5L1569.6,395.0L1611.9,396.4L1762.5,404.3L1837.7,407.7L1906.4,410.0L1981.6,411.9L1981.6,418.5L1119.4,418.5Z" fill="#5a58a0" fill-opacity="0.3" stroke="none"/>
<path d="M1119.4,418.4L1207.8,418.1L1253.6,417.4L1280.0,416.0L1288.9,414.9L1296.2,413.4L1302.1,411.4L1306.9,408.7L1311.0,405.3L1314.5,401.0L1317.4,395.7L1320.1,389.3L1327.7,365.5L1329.3,362.4L1330.6,361.5L1332.3,362.8L1333.9,366.2L1339.8,385.4L1343.0,394.0L1346.3,400.1L1350.0,405.1L1355.4,409.4L1362.2,412.5L1370.8,414.7L1382.4,416.1L1396.1,417.0L1415.0,417.6L1479.9,418.2L1981.6,418.5L1981.6,418.5L1119.4,418.5Z" fill="#5a58a0" fill-opacity="0.3" stroke="none"/>
<path d="M1119.4,418.4L1276.2,418.0L1308.8,417.4L1329.3,416.3L1342.8,414.5L1348.2,413.2L1352.7,411.5L1356.5,409.6L1360.3,407.1L1370.8,398.0L1372.9,396.8L1374.8,396.5L1377.0,396.9L1379.1,398.2L1387.5,405.6L1391.8,408.8L1395.8,411.0L1400.4,412.8L1406.9,414.5L1414.7,415.7L1437.6,417.3L1473.4,418.0L1540.0,418.3L1981.6,418.5L1981.6,418.5L1119.4,418.5Z" fill="#8aa870" fill-opacity="0.38" stroke="none"/>
<path d="M1119.4,418.3L1393.4,417.8L1537.8,416.8L1585.5,416.0L1622.4,414.8L1651.5,413.2L1674.7,411.0L1693.8,408.1L1709.7,404.3L1722.9,399.5L1728.9,396.7L1734.5,393.4L1744.0,386.4L1752.8,377.6L1760.4,368.4L1774.1,349.4L1779.0,343.7L1784.1,339.7L1786.5,338.8L1788.7,338.5L1791.1,338.8L1793.8,340.0L1799.2,344.6L1804.3,350.8L1820.2,372.5L1825.9,379.1L1831.8,384.9L1837.5,389.6L1843.6,393.9L1850.1,397.5L1857.4,400.8L1866.6,404.0L1877.1,406.8L1888.9,409.1L1902.4,411.0L1935.8,413.8L1981.6,415.7L1981.6,418.5L1119.4,418.5Z" fill="#5a58a0" fill-opacity="0.3" stroke="none"/>
<path d="M1119.4,410.8L1190.3,408.7L1256.8,406.1L1454.3,396.1L1493.9,394.9L1530.8,394.5L1569.6,395.0L1611.9,396.4L1762.5,404.3L1837.7,407.7L1906.4,410.0L1981.6,411.9" fill="none" stroke="#4a4a9c" stroke-width="1.8"/>
<path d="M1119.4,418.4L1207.8,418.1L1253.6,417.4L1280.0,416.0L1288.9,414.9L1296.2,413.4L1302.1,411.4L1306.9,408.7L1311.0,405.3L1314.5,401.0L1317.4,395.7L1320.1,389.3L1327.7,365.5L1329.3,362.4L1330.6,361.5L1332.3,362.8L1333.9,366.2L1339.8,385.4L1343.0,394.0L1346.3,400.1L1350.0,405.1L1355.4,409.4L1362.2,412.5L1370.8,414.7L1382.4,416.1L1396.1,417.0L1415.0,417.6L1479.9,418.2L1981.6,418.5" fill="none" stroke="#4a4a9c" stroke-width="1.8"/>
<path d="M1119.4,418.4L1276.2,418.0L1308.8,417.4L1329.3,416.3L1342.8,414.5L1348.2,413.2L1352.7,411.5L1356.5,409.6L1360.3,407.1L1370.8,398.0L1372.9,396.8L1374.8,396.5L1377.0,396.9L1379.1,398.2L1387.5,405.6L1391.8,408.8L1395.8,411.0L1400.4,412.8L1406.9,414.5L1414.7,415.7L1437.6,417.3L1473.4,418.0L1540.0,418.3L1981.6,418.5" fill="none" stroke="#6d9444" stroke-width="2"/>
<path d="M1119.4,418.3L1430.1,417.8L1507.1,417.2L1559.1,416.2L1596.8,414.6L1623.5,412.1L1634.0,410.4L1643.2,408.3L1651.0,405.9L1658.0,402.8L1664.7,398.8L1670.4,394.2L1675.5,388.4L1679.8,382.0L1683.9,373.9L1687.4,364.7L1690.6,353.7L1693.3,342.1L1697.6,317.1L1701.4,286.2L1705.4,241.4L1713.0,140.4L1715.1,122.0L1716.2,117.5L1717.0,116.5L1717.8,117.5L1718.9,122.0L1720.8,137.5L1730.5,263.9L1734.0,298.4L1737.5,324.2L1742.1,348.3L1744.5,357.7L1747.2,366.3L1750.2,373.9L1753.4,380.5L1756.9,386.2L1760.7,391.1L1765.0,395.4L1769.8,399.2L1775.2,402.4L1781.1,405.1L1787.9,407.5L1795.4,409.4L1814.3,412.5L1838.5,414.7L1871.4,416.1L1916.9,417.1L1981.6,417.7" fill="none" stroke="#4a4a9c" stroke-width="1.8"/>
<path d="M1119.4,418.3L1393.4,417.8L1537.8,416.8L1585.5,416.0L1622.4,414.8L1651.5,413.2L1674.7,411.0L1693.8,408.1L1709.7,404.3L1722.9,399.5L1728.9,396.7L1734.5,393.4L1744.0,386.4L1752.8,377.6L1760.4,368.4L1774.1,349.4L1779.0,343.7L1784.1,339.7L1786.5,338.8L1788.7,338.5L1791.1,338.8L1793.8,340.0L1799.2,344.6L1804.3,350.8L1820.2,372.5L1825.9,379.1L1831.8,384.9L1837.5,389.6L1843.6,393.9L1850.1,397.5L1857.4,400.8L1866.6,404.0L1877.1,406.8L1888.9,409.1L1902.4,411.0L1935.8,413.8L1981.6,415.7" fill="none" stroke="#4a4a9c" stroke-width="1.8"/>
<line x1="1119.4" y1="419.0" x2="1981.6" y2="419.0" stroke="#4a4a9c" stroke-width="2.6"/>
<path d="M1119.4,410.2L1192.1,407.7L1245.2,404.8L1276.5,401.9L1287.0,400.1L1295.3,398.0L1301.5,395.5L1306.7,392.4L1311.0,388.4L1314.5,383.7L1317.4,378.2L1320.1,371.4L1327.9,346.1L1329.3,343.4L1330.6,342.3L1332.0,343.0L1333.6,345.9L1339.8,364.5L1343.0,372.3L1346.5,377.9L1350.3,381.2L1354.3,382.7L1358.9,382.3L1363.0,380.4L1371.3,374.6L1373.5,373.8L1375.4,373.8L1379.1,375.7L1388.3,384.0L1394.5,388.0L1402.3,390.9L1412.3,392.6L1426.6,393.4L1447.6,393.3L1573.4,389.8L1602.5,388.6L1621.4,386.9L1636.2,384.5L1648.6,381.2L1658.5,376.8L1665.0,372.6L1670.7,367.7L1675.8,361.5L1680.1,354.6L1684.1,346.1L1687.6,336.3L1690.9,324.8L1693.6,312.5L1697.6,288.2L1701.4,256.7L1705.4,211.1L1713.0,108.3L1715.1,89.4L1716.2,84.6L1717.0,83.3L1717.8,84.1L1718.9,88.2L1720.8,103.0L1729.7,216.4L1732.4,244.0L1735.3,268.0L1738.6,287.4L1742.1,302.4L1746.1,314.0L1748.3,318.2L1750.7,321.7L1752.8,323.9L1755.3,325.5L1758.0,326.3L1760.7,326.3L1763.4,325.6L1766.3,324.2L1777.1,317.1L1781.7,314.9L1784.1,314.3L1786.5,314.3L1789.0,314.8L1791.1,315.9L1794.9,318.8L1799.2,323.8L1819.7,354.9L1825.9,363.0L1832.3,370.1L1839.9,376.8L1848.0,382.6L1856.9,387.5L1866.6,391.6L1875.7,394.7L1885.9,397.4L1897.5,399.8L1910.5,401.9L1941.7,405.4L1981.6,408.2" fill="none" stroke="#9c2a2e" stroke-width="4" stroke-linejoin="round"/>
<g fill="#000"><circle cx="1121.6" cy="411.2" r="1.9"/><circle cx="1125.4" cy="407.2" r="1.9"/><circle cx="1129.3" cy="407.7" r="1.9"/><circle cx="1133.2" cy="396.4" r="1.9"/><circle cx="1137.1" cy="419.6" r="1.9"/><circle cx="1141.0" cy="415.9" r="1.9"/><circle cx="1144.8" cy="407.7" r="1.9"/><circle cx="1148.7" cy="413.6" r="1.9"/><circle cx="1152.6" cy="410.7" r="1.9"/><circle cx="1156.5" cy="406.0" r="1.9"/><circle cx="1160.4" cy="414.3" r="1.9"/><circle cx="1164.2" cy="407.1" r="1.9"/><circle cx="1168.1" cy="406.8" r="1.9"/><circle cx="1172.0" cy="404.1" r="1.9"/><circle cx="1175.9" cy="410.8" r="1.9"/><circle cx="1179.8" cy="407.6" r="1.9"/><circle cx="1183.6" cy="411.0" r="1.9"/><circle cx="1187.5" cy="404.5" r="1.9"/><circle cx="1191.4" cy="408.4" r="1.9"/><circle cx="1195.3" cy="402.6" r="1.9"/><circle cx="1199.2" cy="412.0" r="1.9"/><circle cx="1203.0" cy="408.2" r="1.9"/><circle cx="1206.9" cy="408.8" r="1.9"/><circle cx="1210.8" cy="409.1" r="1.9"/><circle cx="1214.7" cy="401.1" r="1.9"/><circle cx="1218.6" cy="410.7" r="1.9"/><circle cx="1222.4" cy="417.5" r="1.9"/><circle cx="1226.3" cy="397.0" r="1.9"/><circle cx="1230.2" cy="396.3" r="1.9"/><circle cx="1234.1" cy="397.3" r="1.9"/><circle cx="1238.0" cy="410.0" r="1.9"/><circle cx="1241.8" cy="405.8" r="1.9"/><circle cx="1245.7" cy="410.7" r="1.9"/><circle cx="1249.6" cy="408.5" r="1.9"/><circle cx="1253.5" cy="405.4" r="1.9"/><circle cx="1257.4" cy="405.5" r="1.9"/><circle cx="1261.2" cy="402.6" r="1.9"/><circle cx="1265.1" cy="408.0" r="1.9"/><circle cx="1269.0" cy="396.6" r="1.9"/><circle cx="1272.9" cy="400.0" r="1.9"/><circle cx="1276.8" cy="403.2" r="1.9"/><circle cx="1280.6" cy="411.2" r="1.9"/><circle cx="1284.5" cy="396.4" r="1.9"/><circle cx="1288.4" cy="393.9" r="1.9"/><circle cx="1292.3" cy="395.8" r="1.9"/><circle cx="1296.2" cy="403.0" r="1.9"/><circle cx="1300.0" cy="394.9" r="1.9"/><circle cx="1303.9" cy="401.5" r="1.9"/><circle cx="1307.8" cy="381.2" r="1.9"/><circle cx="1311.7" cy="393.8" r="1.9"/><circle cx="1315.6" cy="387.6" r="1.9"/><circle cx="1319.4" cy="365.6" r="1.9"/><circle cx="1323.3" cy="362.2" r="1.9"/><circle cx="1327.2" cy="354.8" r="1.9"/><circle cx="1331.1" cy="342.8" r="1.9"/><circle cx="1335.0" cy="355.0" r="1.9"/><circle cx="1338.8" cy="374.8" r="1.9"/><circle cx="1342.7" cy="373.2" r="1.9"/><circle cx="1346.6" cy="376.4" r="1.9"/><circle cx="1350.5" cy="377.1" r="1.9"/><circle cx="1354.3" cy="386.3" r="1.9"/><circle cx="1358.2" cy="381.4" r="1.9"/><circle cx="1362.1" cy="379.9" r="1.9"/><circle cx="1366.0" cy="377.7" r="1.9"/><circle cx="1369.9" cy="379.0" r="1.9"/><circle cx="1373.7" cy="367.9" r="1.9"/><circle cx="1377.6" cy="366.3" r="1.9"/><circle cx="1381.5" cy="364.3" r="1.9"/><circle cx="1385.4" cy="388.0" r="1.9"/><circle cx="1389.3" cy="385.1" r="1.9"/><circle cx="1393.1" cy="395.6" r="1.9"/><circle cx="1397.0" cy="389.1" r="1.9"/><circle cx="1400.9" cy="386.5" r="1.9"/><circle cx="1404.8" cy="394.1" r="1.9"/><circle cx="1408.7" cy="391.8" r="1.9"/><circle cx="1412.5" cy="385.8" r="1.9"/><circle cx="1416.4" cy="388.1" r="1.9"/><circle cx="1420.3" cy="402.9" r="1.9"/><circle cx="1424.2" cy="395.3" r="1.9"/><circle cx="1428.1" cy="395.7" r="1.9"/><circle cx="1431.9" cy="391.9" r="1.9"/><circle cx="1435.8" cy="389.7" r="1.9"/><circle cx="1439.7" cy="398.3" r="1.9"/><circle cx="1443.6" cy="392.8" r="1.9"/><circle cx="1447.5" cy="389.1" r="1.9"/><circle cx="1451.3" cy="392.5" r="1.9"/><circle cx="1455.2" cy="388.1" r="1.9"/><circle cx="1459.1" cy="394.0" r="1.9"/><circle cx="1463.0" cy="399.1" r="1.9"/><circle cx="1466.9" cy="388.2" r="1.9"/><circle cx="1470.7" cy="400.5" r="1.9"/><circle cx="1474.6" cy="388.8" r="1.9"/><circle cx="1478.5" cy="393.2" r="1.9"/><circle cx="1482.4" cy="387.7" r="1.9"/><circle cx="1486.3" cy="390.9" r="1.9"/><circle cx="1490.1" cy="392.3" r="1.9"/><circle cx="1494.0" cy="389.5" r="1.9"/><circle cx="1497.9" cy="387.9" r="1.9"/><circle cx="1501.8" cy="387.9" r="1.9"/><circle cx="1505.7" cy="387.0" r="1.9"/><circle cx="1509.5" cy="382.8" r="1.9"/><circle cx="1513.4" cy="389.9" r="1.9"/><circle cx="1517.3" cy="393.4" r="1.9"/><circle cx="1521.2" cy="396.1" r="1.9"/><circle cx="1525.1" cy="394.6" r="1.9"/><circle cx="1528.9" cy="404.5" r="1.9"/><circle cx="1532.8" cy="392.6" r="1.9"/><circle cx="1536.7" cy="388.2" r="1.9"/><circle cx="1540.6" cy="401.0" r="1.9"/><circle cx="1544.5" cy="384.8" r="1.9"/><circle cx="1548.3" cy="395.8" r="1.9"/><circle cx="1552.2" cy="385.1" r="1.9"/><circle cx="1556.1" cy="392.2" r="1.9"/><circle cx="1560.0" cy="379.4" r="1.9"/><circle cx="1563.9" cy="395.1" r="1.9"/><circle cx="1567.7" cy="389.1" r="1.9"/><circle cx="1571.6" cy="384.6" r="1.9"/><circle cx="1575.5" cy="399.0" r="1.9"/><circle cx="1579.4" cy="393.9" r="1.9"/><circle cx="1583.3" cy="389.8" r="1.9"/><circle cx="1587.1" cy="385.3" r="1.9"/><circle cx="1591.0" cy="388.9" r="1.9"/><circle cx="1594.9" cy="388.1" r="1.9"/><circle cx="1598.8" cy="392.8" r="1.9"/><circle cx="1602.7" cy="392.9" r="1.9"/><circle cx="1606.5" cy="384.6" r="1.9"/><circle cx="1610.4" cy="385.0" r="1.9"/><circle cx="1614.3" cy="384.7" r="1.9"/><circle cx="1618.2" cy="379.8" r="1.9"/><circle cx="1622.1" cy="383.5" r="1.9"/><circle cx="1625.9" cy="385.8" r="1.9"/><circle cx="1629.8" cy="389.5" r="1.9"/><circle cx="1633.7" cy="392.3" r="1.9"/><circle cx="1637.6" cy="379.8" r="1.9"/><circle cx="1641.5" cy="386.3" r="1.9"/><circle cx="1645.3" cy="379.8" r="1.9"/><circle cx="1649.2" cy="392.3" r="1.9"/><circle cx="1653.1" cy="379.2" r="1.9"/><circle cx="1657.0" cy="380.4" r="1.9"/><circle cx="1660.9" cy="370.3" r="1.9"/><circle cx="1664.7" cy="368.4" r="1.9"/><circle cx="1668.6" cy="370.8" r="1.9"/><circle cx="1672.5" cy="363.6" r="1.9"/><circle cx="1676.4" cy="362.6" r="1.9"/><circle cx="1680.3" cy="345.7" r="1.9"/><circle cx="1684.1" cy="349.7" r="1.9"/><circle cx="1688.0" cy="330.2" r="1.9"/><circle cx="1691.9" cy="329.9" r="1.9"/><circle cx="1695.8" cy="298.7" r="1.9"/><circle cx="1699.7" cy="278.4" r="1.9"/><circle cx="1703.5" cy="226.4" r="1.9"/><circle cx="1707.4" cy="186.6" r="1.9"/><circle cx="1711.3" cy="124.2" r="1.9"/><circle cx="1715.2" cy="86.4" r="1.9"/><circle cx="1719.1" cy="89.3" r="1.9"/><circle cx="1722.9" cy="126.6" r="1.9"/><circle cx="1726.8" cy="182.5" r="1.9"/><circle cx="1730.7" cy="231.7" r="1.9"/><circle cx="1734.6" cy="266.1" r="1.9"/><circle cx="1738.5" cy="286.4" r="1.9"/><circle cx="1742.3" cy="295.9" r="1.9"/><circle cx="1746.2" cy="309.8" r="1.9"/><circle cx="1750.1" cy="319.9" r="1.9"/><circle cx="1754.0" cy="313.1" r="1.9"/><circle cx="1757.9" cy="330.4" r="1.9"/><circle cx="1761.7" cy="324.8" r="1.9"/><circle cx="1765.6" cy="323.2" r="1.9"/><circle cx="1769.5" cy="327.5" r="1.9"/><circle cx="1773.4" cy="323.3" r="1.9"/><circle cx="1777.3" cy="318.2" r="1.9"/><circle cx="1781.1" cy="309.6" r="1.9"/><circle cx="1785.0" cy="315.9" r="1.9"/><circle cx="1788.9" cy="316.7" r="1.9"/><circle cx="1792.8" cy="312.1" r="1.9"/><circle cx="1796.7" cy="326.5" r="1.9"/><circle cx="1800.5" cy="328.4" r="1.9"/><circle cx="1804.4" cy="320.5" r="1.9"/><circle cx="1808.3" cy="338.2" r="1.9"/><circle cx="1812.2" cy="336.7" r="1.9"/><circle cx="1816.1" cy="355.9" r="1.9"/><circle cx="1819.9" cy="359.7" r="1.9"/><circle cx="1823.8" cy="354.4" r="1.9"/><circle cx="1827.7" cy="360.2" r="1.9"/><circle cx="1831.6" cy="369.9" r="1.9"/><circle cx="1835.5" cy="371.7" r="1.9"/><circle cx="1839.3" cy="384.8" r="1.9"/><circle cx="1843.2" cy="383.4" r="1.9"/><circle cx="1847.1" cy="380.5" r="1.9"/><circle cx="1851.0" cy="387.6" r="1.9"/><circle cx="1854.9" cy="375.3" r="1.9"/><circle cx="1858.7" cy="390.1" r="1.9"/><circle cx="1862.6" cy="394.8" r="1.9"/><circle cx="1866.5" cy="390.6" r="1.9"/><circle cx="1870.4" cy="389.1" r="1.9"/><circle cx="1874.3" cy="397.3" r="1.9"/><circle cx="1878.1" cy="406.1" r="1.9"/><circle cx="1882.0" cy="397.5" r="1.9"/><circle cx="1885.9" cy="391.2" r="1.9"/><circle cx="1889.8" cy="406.2" r="1.9"/><circle cx="1893.7" cy="388.7" r="1.9"/><circle cx="1897.5" cy="402.5" r="1.9"/><circle cx="1901.4" cy="397.3" r="1.9"/><circle cx="1905.3" cy="406.2" r="1.9"/><circle cx="1909.2" cy="397.0" r="1.9"/><circle cx="1913.1" cy="409.5" r="1.9"/><circle cx="1916.9" cy="404.4" r="1.9"/><circle cx="1920.8" cy="393.8" r="1.9"/><circle cx="1924.7" cy="392.9" r="1.9"/><circle cx="1928.6" cy="402.4" r="1.9"/><circle cx="1932.5" cy="411.7" r="1.9"/><circle cx="1936.3" cy="405.6" r="1.9"/><circle cx="1940.2" cy="405.7" r="1.9"/><circle cx="1944.1" cy="404.3" r="1.9"/><circle cx="1948.0" cy="410.0" r="1.9"/><circle cx="1951.9" cy="408.3" r="1.9"/><circle cx="1955.7" cy="408.1" r="1.9"/><circle cx="1959.6" cy="401.4" r="1.9"/><circle cx="1963.5" cy="413.6" r="1.9"/><circle cx="1967.4" cy="414.9" r="1.9"/><circle cx="1971.3" cy="400.5" r="1.9"/><circle cx="1975.1" cy="420.5" r="1.9"/><circle cx="1979.0" cy="412.0" r="1.9"/></g>
<path d="M1119.4,720.5L1223.9,720.0L1275.7,718.7L1292.1,717.6L1304.5,716.0L1314.2,713.8L1321.7,710.7L1327.9,706.5L1332.8,701.1L1337.1,693.5L1340.6,684.1L1343.6,672.5L1346.3,658.2L1353.8,603.8L1355.2,597.8L1356.0,596.0L1356.5,595.7L1357.0,596.0L1357.9,597.8L1359.5,605.4L1365.4,649.4L1368.4,667.3L1371.6,681.3L1375.1,691.6L1377.5,696.7L1380.2,701.1L1383.2,704.6L1386.4,707.6L1390.2,710.1L1394.8,712.3L1399.9,714.1L1405.8,715.5L1419.0,717.4L1437.1,718.7L1462.4,719.5L1499.3,720.1L1631.6,720.5L1981.6,720.7L1981.6,720.7L1119.4,720.7Z" fill="#5a58a0" fill-opacity="0.3" stroke="none"/>
<path d="M1119.4,720.6L1236.6,720.4L1296.7,719.9L1331.4,718.8L1343.0,718.0L1352.5,716.8L1360.3,715.2L1366.5,713.2L1371.9,710.6L1376.4,707.2L1380.2,703.2L1383.7,698.3L1393.7,679.7L1395.6,677.5L1397.5,676.7L1399.3,677.5L1401.5,680.1L1409.3,695.1L1413.4,701.5L1417.1,705.9L1421.2,709.3L1427.1,712.7L1434.6,715.2L1444.1,717.1L1456.5,718.4L1490.4,719.7L1554.0,720.4L1981.6,720.7L1981.6,720.7L1119.4,720.7Z" fill="#8aa870" fill-opacity="0.38" stroke="none"/>
<path d="M1119.4,720.7L1583.4,720.4L1652.1,720.0L1689.0,719.0L1702.2,718.1L1712.4,716.8L1720.5,714.9L1727.0,712.5L1731.6,709.9L1735.6,706.7L1739.9,702.1L1748.3,691.2L1750.4,689.4L1752.6,688.7L1754.5,689.1L1756.6,690.7L1767.1,704.0L1770.6,707.4L1774.4,710.3L1778.7,712.7L1783.8,714.6L1789.5,716.1L1796.5,717.3L1815.4,718.9L1845.0,719.9L1981.6,720.6L1981.6,720.7L1119.4,720.7Z" fill="#5a58a0" fill-opacity="0.3" stroke="none"/>
<path d="M1119.4,720.6L1609.2,720.1L1689.5,719.1L1714.9,718.3L1734.3,717.2L1750.4,715.4L1763.1,713.0L1773.3,709.8L1781.9,705.5L1787.9,701.1L1793.3,695.7L1799.2,687.8L1811.0,669.0L1814.3,665.7L1817.2,664.7L1820.2,665.7L1823.4,669.0L1836.6,689.8L1840.4,694.7L1844.5,699.1L1848.8,702.9L1853.6,706.1L1858.7,708.8L1864.7,711.1L1871.9,713.2L1880.6,714.9L1902.7,717.3L1934.2,718.9L1981.6,719.8L1981.6,720.7L1119.4,720.7Z" fill="#5a58a0" fill-opacity="0.3" stroke="none"/>
<path d="M1119.4,720.5L1223.9,720.0L1275.7,718.7L1292.1,717.6L1304.5,716.0L1314.2,713.8L1321.7,710.7L1327.9,706.5L1332.8,701.1L1337.1,693.5L1340.6,684.1L1343.6,672.5L1346.3,658.2L1353.8,603.8L1355.2,597.8L1356.0,596.0L1356.5,595.7L1357.0,596.0L1357.9,597.8L1359.5,605.4L1365.4,649.4L1368.4,667.3L1371.6,681.3L1375.1,691.6L1377.5,696.7L1380.2,701.1L1383.2,704.6L1386.4,707.6L1390.2,710.1L1394.8,712.3L1399.9,714.1L1405.8,715.5L1419.0,717.4L1437.1,718.7L1462.4,719.5L1499.3,720.1L1631.6,720.5L1981.6,720.7" fill="none" stroke="#4a4a9c" stroke-width="1.8"/>
<path d="M1119.4,720.6L1236.6,720.4L1296.7,719.9L1331.4,718.8L1343.0,718.0L1352.5,716.8L1360.3,715.2L1366.5,713.2L1371.9,710.6L1376.4,707.2L1380.2,703.2L1383.7,698.3L1393.7,679.7L1395.6,677.5L1397.5,676.7L1399.3,677.5L1401.5,680.1L1409.3,695.1L1413.4,701.5L1417.1,705.9L1421.2,709.3L1427.1,712.7L1434.6,715.2L1444.1,717.1L1456.5,718.4L1490.4,719.7L1554.0,720.4L1981.6,720.7" fill="none" stroke="#6d9444" stroke-width="2"/>
<path d="M1119.4,720.7L1583.4,720.4L1652.1,720.0L1689.0,719.0L1702.2,718.1L1712.4,716.8L1720.5,714.9L1727.0,712.5L1731.6,709.9L1735.6,706.7L1739.9,702.1L1748.3,691.2L1750.4,689.4L1752.6,688.7L1754.5,689.1L1756.6,690.7L1767.1,704.0L1770.6,707.4L1774.4,710.3L1778.7,712.7L1783.8,714.6L1789.5,716.1L1796.5,717.3L1815.4,718.9L1845.0,719.9L1981.6,720.6" fill="none" stroke="#4a4a9c" stroke-width="1.8"/>
<path d="M1119.4,720.6L1609.2,720.1L1689.5,719.1L1714.9,718.3L1734.3,717.2L1750.4,715.4L1763.1,713.0L1773.3,709.8L1781.9,705.5L1787.9,701.1L1793.3,695.7L1799.2,687.8L1811.0,669.0L1814.3,665.7L1817.2,664.7L1820.2,665.7L1823.4,669.0L1836.6,689.8L1840.4,694.7L1844.5,699.1L1848.8,702.9L1853.6,706.1L1858.7,708.8L1864.7,711.1L1871.9,713.2L1880.6,714.9L1902.7,717.3L1934.2,718.9L1981.6,719.8" fill="none" stroke="#4a4a9c" stroke-width="1.8"/>
<line x1="1119.4" y1="721.2" x2="1981.6" y2="721.2" stroke="#4a4a9c" stroke-width="2.6"/>
<path d="M1119.4,720.3L1221.0,719.6L1273.5,718.2L1290.5,716.9L1303.4,715.1L1313.4,712.7L1321.2,709.4L1327.7,704.8L1332.8,698.9L1337.1,691.1L1340.6,681.4L1343.6,669.6L1346.3,655.0L1353.8,599.5L1355.2,593.3L1356.5,590.9L1357.0,591.2L1357.9,592.8L1359.5,599.9L1365.1,640.4L1368.4,658.8L1371.9,671.9L1373.7,676.5L1375.6,679.8L1377.5,682.0L1379.4,683.2L1381.3,683.4L1383.2,682.9L1386.7,680.0L1394.2,670.1L1396.1,669.1L1398.0,669.4L1399.9,671.2L1401.8,674.2L1408.5,688.7L1411.7,694.7L1414.7,699.2L1417.9,703.1L1422.5,707.1L1427.9,710.3L1434.1,712.7L1441.6,714.6L1456.5,716.8L1477.2,718.2L1506.9,719.0L1549.2,719.4L1607.9,719.4L1654.0,718.7L1683.9,717.6L1704.1,715.7L1712.4,714.3L1719.4,712.5L1725.1,710.3L1730.2,707.3L1733.7,704.6L1737.0,701.4L1740.5,697.1L1748.3,686.1L1750.4,684.0L1752.3,683.0L1754.5,683.1L1756.6,684.3L1766.0,694.2L1768.7,696.3L1771.7,698.0L1774.9,698.9L1778.2,699.2L1781.7,698.7L1785.2,697.5L1790.0,694.5L1794.6,690.3L1800.0,683.5L1811.0,666.9L1814.0,664.0L1817.0,662.9L1819.9,663.9L1823.2,667.1L1836.6,688.7L1840.4,693.7L1844.5,698.2L1848.8,702.0L1853.6,705.4L1858.7,708.1L1864.7,710.5L1872.2,712.6L1880.8,714.4L1902.9,717.0L1934.4,718.6L1981.6,719.6" fill="none" stroke="#9c2a2e" stroke-width="4" stroke-linejoin="round"/>
<g fill="#000"><circle cx="1121.6" cy="711.8" r="1.9"/><circle cx="1125.4" cy="718.0" r="1.9"/><circle cx="1129.3" cy="741.9" r="1.9"/><circle cx="1133.2" cy="728.8" r="1.9"/><circle cx="1137.1" cy="698.9" r="1.9"/><circle cx="1141.0" cy="720.1" r="1.9"/><circle cx="1144.8" cy="712.1" r="1.9"/><circle cx="1148.7" cy="722.1" r="1.9"/><circle cx="1152.6" cy="699.3" r="1.9"/><circle cx="1156.5" cy="723.3" r="1.9"/><circle cx="1160.4" cy="723.2" r="1.9"/><circle cx="1164.2" cy="740.6" r="1.9"/><circle cx="1168.1" cy="724.2" r="1.9"/><circle cx="1172.0" cy="726.7" r="1.9"/><circle cx="1175.9" cy="700.6" r="1.9"/><circle cx="1179.8" cy="749.3" r="1.9"/><circle cx="1183.6" cy="695.1" r="1.9"/><circle cx="1187.5" cy="734.3" r="1.9"/><circle cx="1191.4" cy="715.6" r="1.9"/><circle cx="1195.3" cy="708.4" r="1.9"/><circle cx="1199.2" cy="711.3" r="1.9"/><circle cx="1203.0" cy="711.1" r="1.9"/><circle cx="1206.9" cy="724.7" r="1.9"/><circle cx="1210.8" cy="718.3" r="1.9"/><circle cx="1214.7" cy="739.0" r="1.9"/><circle cx="1218.6" cy="695.9" r="1.9"/><circle cx="1222.4" cy="719.6" r="1.9"/><circle cx="1226.3" cy="707.9" r="1.9"/><circle cx="1230.2" cy="729.6" r="1.9"/><circle cx="1234.1" cy="691.9" r="1.9"/><circle cx="1238.0" cy="714.9" r="1.9"/><circle cx="1241.8" cy="722.0" r="1.9"/><circle cx="1245.7" cy="699.9" r="1.9"/><circle cx="1249.6" cy="731.9" r="1.9"/><circle cx="1253.5" cy="721.3" r="1.9"/><circle cx="1257.4" cy="731.9" r="1.9"/><circle cx="1261.2" cy="731.2" r="1.9"/><circle cx="1265.1" cy="705.8" r="1.9"/><circle cx="1269.0" cy="708.0" r="1.9"/><circle cx="1272.9" cy="715.5" r="1.9"/><circle cx="1276.8" cy="727.7" r="1.9"/><circle cx="1280.6" cy="728.8" r="1.9"/><circle cx="1284.5" cy="708.2" r="1.9"/><circle cx="1288.4" cy="709.2" r="1.9"/><circle cx="1292.3" cy="706.3" r="1.9"/><circle cx="1296.2" cy="708.7" r="1.9"/><circle cx="1300.0" cy="712.6" r="1.9"/><circle cx="1303.9" cy="713.3" r="1.9"/><circle cx="1307.8" cy="741.0" r="1.9"/><circle cx="1311.7" cy="706.6" r="1.9"/><circle cx="1315.6" cy="708.2" r="1.9"/><circle cx="1319.4" cy="716.3" r="1.9"/><circle cx="1323.3" cy="695.8" r="1.9"/><circle cx="1327.2" cy="700.5" r="1.9"/><circle cx="1331.1" cy="701.4" r="1.9"/><circle cx="1335.0" cy="705.5" r="1.9"/><circle cx="1338.8" cy="669.7" r="1.9"/><circle cx="1342.7" cy="691.3" r="1.9"/><circle cx="1346.6" cy="648.3" r="1.9"/><circle cx="1350.5" cy="626.4" r="1.9"/><circle cx="1354.3" cy="607.6" r="1.9"/><circle cx="1358.2" cy="602.6" r="1.9"/><circle cx="1362.1" cy="632.1" r="1.9"/><circle cx="1366.0" cy="648.2" r="1.9"/><circle cx="1369.9" cy="665.0" r="1.9"/><circle cx="1373.7" cy="680.7" r="1.9"/><circle cx="1377.6" cy="669.1" r="1.9"/><circle cx="1381.5" cy="699.2" r="1.9"/><circle cx="1385.4" cy="671.2" r="1.9"/><circle cx="1389.3" cy="660.2" r="1.9"/><circle cx="1393.1" cy="698.0" r="1.9"/><circle cx="1397.0" cy="667.3" r="1.9"/><circle cx="1400.9" cy="657.4" r="1.9"/><circle cx="1404.8" cy="704.6" r="1.9"/><circle cx="1408.7" cy="684.7" r="1.9"/><circle cx="1412.5" cy="709.9" r="1.9"/><circle cx="1416.4" cy="690.6" r="1.9"/><circle cx="1420.3" cy="702.1" r="1.9"/><circle cx="1424.2" cy="686.2" r="1.9"/><circle cx="1428.1" cy="685.5" r="1.9"/><circle cx="1431.9" cy="699.3" r="1.9"/><circle cx="1435.8" cy="712.2" r="1.9"/><circle cx="1439.7" cy="724.6" r="1.9"/><circle cx="1443.6" cy="746.6" r="1.9"/><circle cx="1447.5" cy="702.3" r="1.9"/><circle cx="1451.3" cy="729.3" r="1.9"/><circle cx="1455.2" cy="708.8" r="1.9"/><circle cx="1459.1" cy="715.0" r="1.9"/><circle cx="1463.0" cy="698.1" r="1.9"/><circle cx="1466.9" cy="698.4" r="1.9"/><circle cx="1470.7" cy="707.7" r="1.9"/><circle cx="1474.6" cy="702.5" r="1.9"/><circle cx="1478.5" cy="718.2" r="1.9"/><circle cx="1482.4" cy="709.2" r="1.9"/><circle cx="1486.3" cy="734.8" r="1.9"/><circle cx="1490.1" cy="720.6" r="1.9"/><circle cx="1494.0" cy="720.9" r="1.9"/><circle cx="1497.9" cy="733.6" r="1.9"/><circle cx="1501.8" cy="725.7" r="1.9"/><circle cx="1505.7" cy="718.5" r="1.9"/><circle cx="1509.5" cy="717.9" r="1.9"/><circle cx="1513.4" cy="717.6" r="1.9"/><circle cx="1517.3" cy="733.2" r="1.9"/><circle cx="1521.2" cy="729.4" r="1.9"/><circle cx="1525.1" cy="724.0" r="1.9"/><circle cx="1528.9" cy="729.7" r="1.9"/><circle cx="1532.8" cy="712.3" r="1.9"/><circle cx="1536.7" cy="726.0" r="1.9"/><circle cx="1540.6" cy="701.0" r="1.9"/><circle cx="1544.5" cy="736.9" r="1.9"/><circle cx="1548.3" cy="720.6" r="1.9"/><circle cx="1552.2" cy="721.8" r="1.9"/><circle cx="1556.1" cy="727.3" r="1.9"/><circle cx="1560.0" cy="719.3" r="1.9"/><circle cx="1563.9" cy="716.2" r="1.9"/><circle cx="1567.7" cy="735.0" r="1.9"/><circle cx="1571.6" cy="721.0" r="1.9"/><circle cx="1575.5" cy="707.6" r="1.9"/><circle cx="1579.4" cy="725.2" r="1.9"/><circle cx="1583.3" cy="697.3" r="1.9"/><circle cx="1587.1" cy="741.0" r="1.9"/><circle cx="1591.0" cy="717.2" r="1.9"/><circle cx="1594.9" cy="720.0" r="1.9"/><circle cx="1598.8" cy="748.8" r="1.9"/><circle cx="1602.7" cy="747.4" r="1.9"/><circle cx="1606.5" cy="720.9" r="1.9"/><circle cx="1610.4" cy="727.5" r="1.9"/><circle cx="1614.3" cy="733.5" r="1.9"/><circle cx="1618.2" cy="741.2" r="1.9"/><circle cx="1622.1" cy="717.5" r="1.9"/><circle cx="1625.9" cy="721.0" r="1.9"/><circle cx="1629.8" cy="735.1" r="1.9"/><circle cx="1633.7" cy="722.6" r="1.9"/><circle cx="1637.6" cy="728.9" r="1.9"/><circle cx="1641.5" cy="726.9" r="1.9"/><circle cx="1645.3" cy="704.2" r="1.9"/><circle cx="1649.2" cy="707.7" r="1.9"/><circle cx="1653.1" cy="684.4" r="1.9"/><circle cx="1657.0" cy="715.3" r="1.9"/><circle cx="1660.9" cy="736.0" r="1.9"/><circle cx="1664.7" cy="704.0" r="1.9"/><circle cx="1668.6" cy="734.3" r="1.9"/><circle cx="1672.5" cy="731.1" r="1.9"/><circle cx="1676.4" cy="717.3" r="1.9"/><circle cx="1680.3" cy="717.7" r="1.9"/><circle cx="1684.1" cy="718.6" r="1.9"/><circle cx="1688.0" cy="706.1" r="1.9"/><circle cx="1691.9" cy="713.3" r="1.9"/><circle cx="1695.8" cy="716.1" r="1.9"/><circle cx="1699.7" cy="724.2" r="1.9"/><circle cx="1703.5" cy="726.1" r="1.9"/><circle cx="1707.4" cy="705.6" r="1.9"/><circle cx="1711.3" cy="725.3" r="1.9"/><circle cx="1715.2" cy="703.6" r="1.9"/><circle cx="1719.1" cy="710.4" r="1.9"/><circle cx="1722.9" cy="716.0" r="1.9"/><circle cx="1726.8" cy="709.1" r="1.9"/><circle cx="1730.7" cy="705.4" r="1.9"/><circle cx="1734.6" cy="707.4" r="1.9"/><circle cx="1738.5" cy="692.5" r="1.9"/><circle cx="1742.3" cy="686.0" r="1.9"/><circle cx="1746.2" cy="686.1" r="1.9"/><circle cx="1750.1" cy="696.7" r="1.9"/><circle cx="1754.0" cy="681.6" r="1.9"/><circle cx="1757.9" cy="710.2" r="1.9"/><circle cx="1761.7" cy="692.5" r="1.9"/><circle cx="1765.6" cy="655.1" r="1.9"/><circle cx="1769.5" cy="691.1" r="1.9"/><circle cx="1773.4" cy="720.2" r="1.9"/><circle cx="1777.3" cy="699.3" r="1.9"/><circle cx="1781.1" cy="693.1" r="1.9"/><circle cx="1785.0" cy="686.2" r="1.9"/><circle cx="1788.9" cy="712.5" r="1.9"/><circle cx="1792.8" cy="705.2" r="1.9"/><circle cx="1796.7" cy="696.7" r="1.9"/><circle cx="1800.5" cy="688.3" r="1.9"/><circle cx="1804.4" cy="695.4" r="1.9"/><circle cx="1808.3" cy="681.3" r="1.9"/><circle cx="1812.2" cy="649.6" r="1.9"/><circle cx="1816.1" cy="673.0" r="1.9"/><circle cx="1819.9" cy="666.1" r="1.9"/><circle cx="1823.8" cy="666.5" r="1.9"/><circle cx="1827.7" cy="683.9" r="1.9"/><circle cx="1831.6" cy="681.0" r="1.9"/><circle cx="1835.5" cy="648.8" r="1.9"/><circle cx="1839.3" cy="712.6" r="1.9"/><circle cx="1843.2" cy="710.4" r="1.9"/><circle cx="1847.1" cy="699.0" r="1.9"/><circle cx="1851.0" cy="698.8" r="1.9"/><circle cx="1854.9" cy="709.0" r="1.9"/><circle cx="1858.7" cy="691.4" r="1.9"/><circle cx="1862.6" cy="713.7" r="1.9"/><circle cx="1866.5" cy="708.1" r="1.9"/><circle cx="1870.4" cy="707.6" r="1.9"/><circle cx="1874.3" cy="701.1" r="1.9"/><circle cx="1878.1" cy="705.1" r="1.9"/><circle cx="1882.0" cy="729.0" r="1.9"/><circle cx="1885.9" cy="732.5" r="1.9"/><circle cx="1889.8" cy="722.2" r="1.9"/><circle cx="1893.7" cy="715.5" r="1.9"/><circle cx="1897.5" cy="705.1" r="1.9"/><circle cx="1901.4" cy="726.2" r="1.9"/><circle cx="1905.3" cy="738.1" r="1.9"/><circle cx="1909.2" cy="696.4" r="1.9"/><circle cx="1913.1" cy="732.9" r="1.9"/><circle cx="1916.9" cy="689.7" r="1.9"/><circle cx="1920.8" cy="713.6" r="1.9"/><circle cx="1924.7" cy="723.2" r="1.9"/><circle cx="1928.6" cy="700.6" r="1.9"/><circle cx="1932.5" cy="698.8" r="1.9"/><circle cx="1936.3" cy="721.1" r="1.9"/><circle cx="1940.2" cy="730.2" r="1.9"/><circle cx="1944.1" cy="712.7" r="1.9"/><circle cx="1948.0" cy="736.4" r="1.9"/><circle cx="1951.9" cy="708.9" r="1.9"/><circle cx="1955.7" cy="741.9" r="1.9"/><circle cx="1959.6" cy="720.8" r="1.9"/><circle cx="1963.5" cy="722.3" r="1.9"/><circle cx="1967.4" cy="727.3" r="1.9"/><circle cx="1971.3" cy="723.6" r="1.9"/><circle cx="1975.1" cy="743.5" r="1.9"/><circle cx="1979.0" cy="748.2" r="1.9"/></g>
</g>
<rect x="1119.4" y="72.6" width="862.2" height="699.0" fill="none" stroke="#000" stroke-width="2.4"/>
<path d="M1119.40,72.6V87.1M1119.40,771.6V757.3M1140.96,72.6V80.6M1140.96,771.6V764.6M1162.51,72.6V80.6M1162.51,771.6V764.6M1184.07,72.6V80.6M1184.07,771.6V764.6M1205.62,72.6V80.6M1205.62,771.6V764.6M1227.18,72.6V87.1M1227.18,771.6V757.3M1248.73,72.6V80.6M1248.73,771.6V764.6M1270.29,72.6V80.6M1270.29,771.6V764.6M1291.84,72.6V80.6M1291.84,771.6V764.6M1313.39,72.6V80.6M1313.39,771.6V764.6M1334.95,72.6V87.1M1334.95,771.6V757.3M1356.51,72.6V80.6M1356.51,771.6V764.6M1378.06,72.6V80.6M1378.06,771.6V764.6M1399.62,72.6V80.6M1399.62,771.6V764.6M1421.17,72.6V80.6M1421.17,771.6V764.6M1442.72,72.6V87.1M1442.72,771.6V757.3M1464.28,72.6V80.6M1464.28,771.6V764.6M1485.84,72.6V80.6M1485.84,771.6V764.6M1507.39,72.6V80.6M1507.39,771.6V764.6M1528.94,72.6V80.6M1528.94,771.6V764.6M1550.50,72.6V87.1M1550.50,771.6V757.3M1572.06,72.6V80.6M1572.06,771.6V764.6M1593.61,72.6V80.6M1593.61,771.6V764.6M1615.16,72.6V80.6M1615.16,771.6V764.6M1636.72,72.6V80.6M1636.72,771.6V764.6M1658.28,72.6V87.1M1658.28,771.6V757.3M1679.83,72.6V80.6M1679.83,771.6V764.6M1701.38,72.6V80.6M1701.38,771.6V764.6M1722.94,72.6V80.6M1722.94,771.6V764.6M1744.49,72.6V80.6M1744.49,771.6V764.6M1766.05,72.6V87.1M1766.05,771.6V757.3M1787.61,72.6V80.6M1787.61,771.6V764.6M1809.16,72.6V80.6M1809.16,771.6V764.6M1830.71,72.6V80.6M1830.71,771.6V764.6M1852.27,72.6V80.6M1852.27,771.6V764.6M1873.82,72.6V87.1M1873.82,771.6V757.3M1895.38,72.6V80.6M1895.38,771.6V764.6M1916.93,72.6V80.6M1916.93,771.6V764.6M1938.49,72.6V80.6M1938.49,771.6V764.6M1960.05,72.6V80.6M1960.05,771.6V764.6M1981.60,72.6V87.1M1981.60,771.6V757.3M1119.4,218.5H1128.4M1981.6,218.5H1972.6M1119.4,470.0H1128.4M1981.6,470.0H1972.6" stroke="#000" stroke-width="2.2" fill="none"/>
<text x="1119.4" y="809.5" font-family="'Liberation Sans', Arial, sans-serif" font-size="30.5" text-anchor="middle">190</text>
<text x="1227.2" y="809.5" font-family="'Liberation Sans', Arial, sans-serif" font-size="30.5" text-anchor="middle">200</text>
<text x="1335.0" y="809.5" font-family="'Liberation Sans', Arial, sans-serif" font-size="30.5" text-anchor="middle">210</text>
<text x="1442.7" y="809.5" font-family="'Liberation Sans', Arial, sans-serif" font-size="30.5" text-anchor="middle">220</text>
<text x="1550.5" y="809.5" font-family="'Liberation Sans', Arial, sans-serif" font-size="30.5" text-anchor="middle">230</text>
<text x="1658.3" y="809.5" font-family="'Liberation Sans', Arial, sans-serif" font-size="30.5" text-anchor="middle">240</text>
<text x="1766.0" y="809.5" font-family="'Liberation Sans', Arial, sans-serif" font-size="30.5" text-anchor="middle">250</text>
<text x="1873.8" y="809.5" font-family="'Liberation Sans', Arial, sans-serif" font-size="30.5" text-anchor="middle">260</text>
<text x="1981.6" y="809.5" font-family="'Liberation Sans', Arial, sans-serif" font-size="30.5" text-anchor="middle">270</text>
<text x="1549.5" y="871.5" font-family="'Liberation Sans', Arial, sans-serif" font-size="36.3" text-anchor="middle">Wavenumber (cm<tspan font-size="22" dy="-14">-1</tspan><tspan dy="14">)</tspan></text>
<text transform="translate(1090.8,444) rotate(-90)" font-family="'Liberation Sans', Arial, sans-serif" font-size="36.4" text-anchor="middle">Raman Intensity (arb. units)</text>
<text x="1053.5" y="35.5" font-family="'DejaVu Sans', Verdana, sans-serif" font-size="41.5" textLength="61" lengthAdjust="spacingAndGlyphs">(b)</text>
<text transform="translate(1325.5,59.0) rotate(-60)" font-family="'DejaVu Sans', Verdana, sans-serif" font-size="18.5"><tspan font-style="italic">E</tspan>”</text>
<text transform="translate(1371.5,61.0) rotate(-60)" font-family="'DejaVu Sans', Verdana, sans-serif" font-size="18.5"><tspan font-style="italic">E</tspan>’(TO)</text>
<text transform="translate(1620.5,62.0) rotate(-60)" font-family="'DejaVu Sans', Verdana, sans-serif" font-size="18.5"><tspan font-style="italic">A</tspan><tspan font-size="13" dy="5">2</tspan><tspan dy="-5" dx="-8.5">”</tspan><tspan dx="-1.5">(TO)</tspan></text>
<text transform="translate(1717.5,62.0) rotate(-60)" font-family="'DejaVu Sans', Verdana, sans-serif" font-size="18.5"><tspan font-style="italic">A</tspan><tspan font-size="13" dy="5">2</tspan><tspan dy="-5" dx="-8.5">”</tspan><tspan dx="-1.5">(LO)</tspan></text>
<text transform="translate(1806.5,61.0) rotate(-60)" font-family="'DejaVu Sans', Verdana, sans-serif" font-size="18.5"><tspan font-style="italic">E</tspan>’(LO)</text>
<text x="1158" y="158" font-family="'DejaVu Sans', Verdana, sans-serif" font-size="29"><tspan font-style="italic">ħω</tspan><tspan font-style="italic" font-size="19" dy="9">i</tspan><tspan dy="-9">-</tspan><tspan font-style="italic">E</tspan><tspan font-size="19" dy="8">X</tspan><tspan font-size="19" dy="-8">=</tspan></text>
<text x="1160.5" y="217.0" font-family="'DejaVu Sans', Verdana, sans-serif" font-size="22.5">330meV</text>
<text x="1140.5" y="390.4" font-family="'DejaVu Sans', Verdana, sans-serif" font-size="22.5">-40.7meV</text>
<text x="1160.5" y="552.8" font-family="'DejaVu Sans', Verdana, sans-serif" font-size="22.5">246meV</text>
<text x="1149.0" y="701.8" font-family="'DejaVu Sans', Verdana, sans-serif" font-size="22.5">-126meV</text>
<text x="1894.0" y="218.2" font-family="'DejaVu Sans', Verdana, sans-serif" font-size="22.5">532nm</text>
<text x="1894.0" y="387.0" font-family="'DejaVu Sans', Verdana, sans-serif" font-size="22.5">633nm</text>
<text x="1894.0" y="551.9" font-family="'DejaVu Sans', Verdana, sans-serif" font-size="22.5">532nm</text>
<text x="1893.5" y="702.0" font-family="'DejaVu Sans', Verdana, sans-serif" font-size="22.5">633nm</text>
<text x="1868.0" y="321.7" font-family="'DejaVu Sans', Verdana, sans-serif" font-size="22.5">293K</text>
<text x="1873.0" y="648.9" font-family="'DejaVu Sans', Verdana, sans-serif" font-size="22.5">77K</text>
<text x="1762.0" y="156.3" font-family="'DejaVu Sans', Verdana, sans-serif" font-size="22.5">UEp</text>
<text x="1810.5" y="273.6" font-family="'DejaVu Sans', Verdana, sans-serif" font-size="22.5">UEp</text>
<text x="1754.4" y="480.8" font-family="'DejaVu Sans', Verdana, sans-serif" font-size="22.5">UEp</text>
<text x="1745.5" y="608.2" font-family="'DejaVu Sans', Verdana, sans-serif" font-size="22.5">UEp</text>
<text x="1529.5" y="148.5" font-family="'DejaVu Sans', Verdana, sans-serif" font-size="25">LSp</text>
<text x="1259.0" y="289.6" font-family="'DejaVu Sans', Verdana, sans-serif" font-size="25">LOp</text>
<text x="1467.0" y="317.6" font-family="'DejaVu Sans', Verdana, sans-serif" font-size="25">LSp</text>
<text x="1536.0" y="481.0" font-family="'DejaVu Sans', Verdana, sans-serif" font-size="25">LSp</text>
<text x="1249.7" y="641.7" font-family="'DejaVu Sans', Verdana, sans-serif" font-size="25">LOp</text>
<path d="M1862.2,246L1893.1,287.3M1893.1,340L1861,381.3M1857.8,577.2L1890,619M1888.9,658.4L1857.8,700.2" stroke="#000" stroke-width="1.6" fill="none"/>
<line x1="1559.5" y1="166.6" x2="1574.0" y2="198.1" stroke="#a6a6a6" stroke-width="2"/>
<path d="M1579.0,209.0L1566.0,196.3L1574.0,198.1L1577.8,190.8Z" fill="#a6a6a6"/>
<line x1="1754.4" y1="162.0" x2="1740.0" y2="192.4" stroke="#a6a6a6" stroke-width="2"/>
<path d="M1734.9,203.3L1736.3,185.2L1740.0,192.4L1748.0,190.7Z" fill="#a6a6a6"/>
<line x1="1799.1" y1="174.7" x2="1784.5" y2="207.2" stroke="#a6a6a6" stroke-width="2"/>
<path d="M1779.6,218.2L1780.6,200.0L1784.5,207.2L1792.5,205.3Z" fill="#a6a6a6"/>
<line x1="1310.2" y1="296.0" x2="1324.4" y2="326.0" stroke="#a6a6a6" stroke-width="2"/>
<path d="M1329.5,336.9L1316.4,324.3L1324.4,326.0L1328.1,318.8Z" fill="#a6a6a6"/>
<line x1="1494.4" y1="332.4" x2="1508.7" y2="362.5" stroke="#a6a6a6" stroke-width="2"/>
<path d="M1513.8,373.3L1500.6,360.7L1508.7,362.5L1512.4,355.2Z" fill="#a6a6a6"/>
<line x1="1801.4" y1="274.0" x2="1769.2" y2="284.7" stroke="#a6a6a6" stroke-width="2"/>
<path d="M1757.8,288.5L1771.9,277.0L1769.2,284.7L1776.0,289.3Z" fill="#a6a6a6"/>
<line x1="1831.2" y1="283.9" x2="1817.9" y2="313.1" stroke="#a6a6a6" stroke-width="2"/>
<path d="M1812.9,324.0L1814.0,305.8L1817.9,313.1L1825.9,311.2Z" fill="#a6a6a6"/>
<line x1="1569.8" y1="494.5" x2="1584.2" y2="524.9" stroke="#a6a6a6" stroke-width="2"/>
<path d="M1589.3,535.8L1576.2,523.2L1584.2,524.9L1587.9,517.7Z" fill="#a6a6a6"/>
<line x1="1752.1" y1="488.8" x2="1751.6" y2="525.0" stroke="#a6a6a6" stroke-width="2"/>
<path d="M1751.4,537.0L1745.1,519.9L1751.6,525.0L1758.1,520.1Z" fill="#a6a6a6"/>
<line x1="1802.6" y1="488.8" x2="1802.2" y2="525.0" stroke="#a6a6a6" stroke-width="2"/>
<path d="M1802.1,537.0L1795.8,519.9L1802.2,525.0L1808.8,520.1Z" fill="#a6a6a6"/>
<line x1="1303.5" y1="625.4" x2="1334.4" y2="610.9" stroke="#a6a6a6" stroke-width="2"/>
<path d="M1345.3,605.8L1332.7,618.9L1334.4,610.9L1327.1,607.1Z" fill="#a6a6a6"/>
<line x1="1753.9" y1="621.4" x2="1754.7" y2="654.8" stroke="#a6a6a6" stroke-width="2"/>
<path d="M1755.0,666.8L1748.1,650.0L1754.7,654.8L1761.1,649.6Z" fill="#a6a6a6"/>
<line x1="1786.0" y1="620.2" x2="1800.2" y2="651.1" stroke="#a6a6a6" stroke-width="2"/>
<path d="M1805.2,662.0L1792.2,649.3L1800.2,651.1L1804.0,643.8Z" fill="#a6a6a6"/>
</svg>
</body></html>
